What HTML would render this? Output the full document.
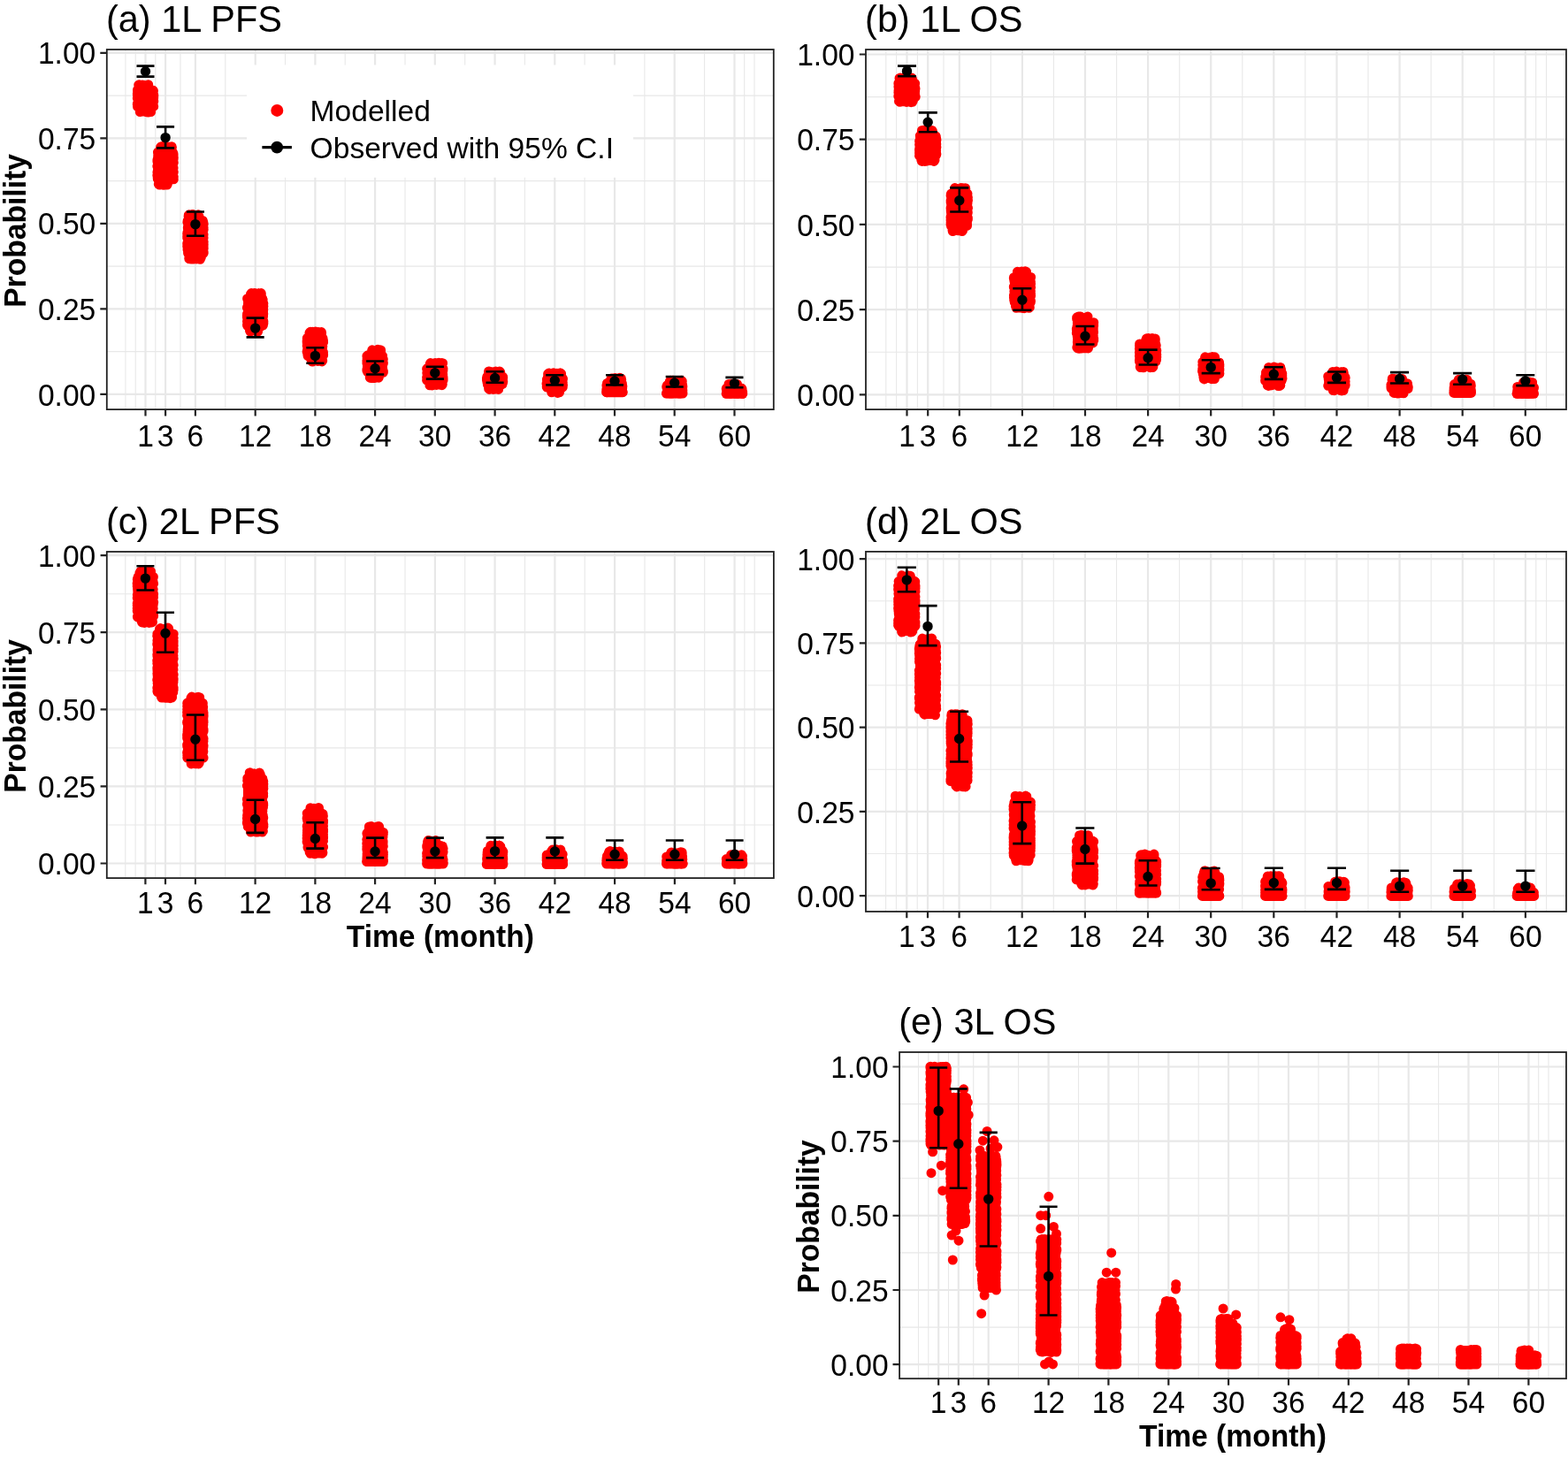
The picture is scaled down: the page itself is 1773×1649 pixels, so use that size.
<!DOCTYPE html><html><head><meta charset="utf-8"><title>Modelled vs observed survival probabilities</title><style>html,body{margin:0;padding:0;background:#fff;width:1773px;height:1649px;overflow:hidden}svg{display:block}text{font-family:"Liberation Sans",Arial,sans-serif;fill:#000}.t{font-size:33.6px}.h{font-size:41.5px}.b{font-weight:bold}</style></head><body>
<svg width="1773" height="1649" viewBox="0 0 1773 1649">
<rect width="1773" height="1649" fill="#fff"/>
<g><path d="M141.9 56V463.1M153.2 56V463.1M175.8 56V463.1M204 56V463.1M254.8 56V463.1M322.5 56V463.1M390.2 56V463.1M458 56V463.1M525.7 56V463.1M593.4 56V463.1M661.1 56V463.1M728.9 56V463.1M796.6 56V463.1M841.7 56V463.1M853 56V463.1M120.8 397.6H874.8M120.8 301.1H874.8M120.8 204.6H874.8M120.8 108.1H874.8" stroke="#e8e8e8" stroke-width="1.1" fill="none"/><path d="M164.5 56V463.1M187.1 56V463.1M220.9 56V463.1M288.7 56V463.1M356.4 56V463.1M424.1 56V463.1M491.8 56V463.1M559.6 56V463.1M627.3 56V463.1M695 56V463.1M762.7 56V463.1M830.5 56V463.1M120.8 445.9H874.8M120.8 349.4H874.8M120.8 252.8H874.8M120.8 156.3H874.8M120.8 59.8H874.8" stroke="#e8e8e8" stroke-width="2.2" fill="none"/><rect x="279" y="73.5" width="437.1" height="127.3" fill="#fff"/><rect x="150.9" y="97.3" width="27.1" height="27.7" rx="4.3" fill="#f00"/><rect x="152" y="92.4" width="21" height="8.6" rx="4.3" fill="#f00"/><rect x="153" y="121.2" width="22.9" height="8.6" rx="4.3" fill="#f00"/><rect x="173.5" y="167.4" width="27.1" height="40" rx="4.3" fill="#f00"/><rect x="177" y="162.4" width="22.3" height="8.6" rx="4.3" fill="#f00"/><rect x="175" y="203.8" width="19.3" height="8.6" rx="4.3" fill="#f00"/><rect x="207.4" y="244.5" width="27.1" height="46.6" rx="4.3" fill="#f00"/><rect x="208.5" y="239.5" width="21" height="8.6" rx="4.3" fill="#f00"/><rect x="208.8" y="287.5" width="23.1" height="8.6" rx="4.3" fill="#f00"/><rect x="275.1" y="333.3" width="27.1" height="40" rx="4.3" fill="#f00"/><rect x="278.9" y="328.3" width="21.6" height="8.6" rx="4.3" fill="#f00"/><rect x="277.7" y="369.7" width="19.2" height="8.6" rx="4.3" fill="#f00"/><rect x="342.8" y="377.3" width="27.1" height="29.9" rx="4.3" fill="#f00"/><rect x="345.3" y="372.3" width="23.4" height="8.6" rx="4.3" fill="#f00"/><rect x="347.5" y="403.6" width="21.9" height="8.6" rx="4.3" fill="#f00"/><rect x="410.6" y="397.4" width="27.1" height="28.2" rx="4.3" fill="#f00"/><rect x="415.5" y="392.5" width="19.9" height="8.6" rx="4.3" fill="#f00"/><rect x="413" y="421.9" width="20.5" height="8.6" rx="4.3" fill="#f00"/><rect x="478.3" y="411.8" width="27.1" height="22.7" rx="4.3" fill="#f00"/><rect x="481.4" y="407.3" width="23.6" height="8.6" rx="4.3" fill="#f00"/><rect x="481.1" y="430.3" width="23.6" height="8.6" rx="4.3" fill="#f00"/><rect x="546" y="420.8" width="27.1" height="18.7" rx="4.3" fill="#f00"/><rect x="547.3" y="416.7" width="22.9" height="8.6" rx="4.3" fill="#f00"/><rect x="548.1" y="435.1" width="20.8" height="8.6" rx="4.3" fill="#f00"/><rect x="613.7" y="423" width="27.1" height="19.9" rx="4.3" fill="#f00"/><rect x="615.2" y="418.8" width="24.1" height="8.6" rx="4.3" fill="#f00"/><rect x="618.5" y="438.5" width="19.3" height="8.6" rx="4.3" fill="#f00"/><rect x="681.4" y="428.6" width="27.1" height="19.4" rx="4.3" fill="#f00"/><rect x="680.2" y="438.2" width="29.5" height="11" rx="5.5" fill="#f00"/><rect x="686" y="424.6" width="21.5" height="8.6" rx="4.3" fill="#f00"/><rect x="749.2" y="430.8" width="27.1" height="18.5" rx="4.3" fill="#f00"/><rect x="748" y="439.5" width="29.5" height="11" rx="5.5" fill="#f00"/><rect x="752.8" y="426.9" width="22.9" height="8.6" rx="4.3" fill="#f00"/><rect x="816.9" y="434.8" width="27.1" height="14.8" rx="4.3" fill="#f00"/><rect x="815.7" y="439.8" width="29.5" height="11" rx="5.5" fill="#f00"/><rect x="818.7" y="431.2" width="20.1" height="8.6" rx="4.3" fill="#f00"/><path d="M173.8 114.4h0M155.4 107.5h0M173.7 110.8h0M160.2 120.6h0M164.6 101.9h0M159.9 120.6h0M159.2 120.4h0M155.3 117.5h0M155.5 119h0M155.5 120.6h0M171.7 120.6h0M173.8 108.7h0M172.3 108.6h0M156.1 119.1h0M155.5 103h0M156.2 110.9h0M168.7 101.6h0M172.5 114.2h0M161.1 119.8h0M172.7 102h0M171 119.6h0M155.3 106.1h0M155.3 111.1h0M155.7 105.7h0M169.2 102.1h0M156.6 119.2h0M158.4 101.6h0M156.4 119.4h0M166.5 101.6h0M158.2 120.6h0M173.8 107.4h0M171.2 120.6h0M156.6 120.2h0M156.2 104.8h0M173 110.7h0M155.6 102.7h0M159.9 102.2h0M173.2 107.5h0M172.3 114.7h0M170.4 102.5h0M170.2 120.2h0M161.3 101.6h0M155.3 118.2h0M167.5 101.7h0M158 120.2h0M155.5 101.6h0M173.7 120.4h0M163.3 119.6h0M162.5 102h0M172.8 113.6h0M155.5 117.2h0M173.5 102.8h0M157.3 101.7h0M156.2 102.6h0M172.8 102.6h0M156.2 119.6h0M172.8 119.6h0M160.8 96.2h0M162.5 96.9h0M161.1 96.5h0M158 97h0M161.2 97.3h0M161.3 96.7h0M166.1 96.5h0M163.6 97.1h0M161.1 96h0M163.7 96.6h0M166.9 96.9h0M156.7 96.1h0M159.5 96.7h0M165.5 97.5h0M157.2 97.6h0M160.9 96.4h0M167.5 96.8h0M157.3 97.7h0M167.7 97.7h0M157.3 95.7h0M167.7 95.7h0M164.8 125.5h0M167.1 126.9h0M162.3 124.9h0M169.7 125.5h0M160.2 125.5h0M168.6 125.6h0M167.2 126.8h0M163.7 124.4h0M159.4 125.7h0M165.4 125.5h0M162.7 125.5h0M166.3 125.4h0M169.4 125.5h0M160.5 125.9h0M165.6 125.3h0M166.4 125.5h0M160.1 125.6h0M163.2 126h0M167.5 127.1h0M165.4 126.7h0M158.3 126.5h0M170.6 126.5h0M158.3 124.5h0M170.6 124.5h0M187 172.1h0M182.8 202.4h0M195.9 194.1h0M177.9 180.9h0M181 202.5h0M177.9 181.3h0M196.3 194.6h0M194 201.9h0M195.3 188.5h0M193.6 203.1h0M196.3 200.1h0M195.3 184.5h0M190.3 172.2h0M183.5 171.7h0M177.8 198.3h0M195.2 173.1h0M196.3 184h0M187.4 172.1h0M183.7 171.8h0M195.4 175.4h0M194 172.3h0M194.7 177.3h0M179.2 202.2h0M178.3 193.1h0M178.5 196.2h0M193.7 172.6h0M177.8 188.1h0M195.3 172.6h0M178.3 179.9h0M190 171.8h0M194.8 176.7h0M196.1 175.7h0M178.5 172.1h0M184 202.4h0M179.2 189.6h0M188.6 171.7h0M179.1 194.5h0M196.1 189.9h0M196.3 202.8h0M188.9 171.8h0M195.8 183.5h0M194.9 172.5h0M178.1 200.1h0M184.8 202.5h0M178.5 182.9h0M179.5 202.3h0M180.2 173.1h0M178.6 193h0M195.7 173.3h0M180.6 172h0M195.8 174.7h0M196.3 178.2h0M177.9 182.5h0M183.8 203.1h0M184.2 202.1h0M178 181.6h0M190.6 172.3h0M196.2 183.8h0M196.1 174.2h0M196 202.8h0M192.4 202.3h0M178.3 184.2h0M178.2 202.1h0M181.5 202.4h0M178.6 200.2h0M177.9 194.8h0M195.5 195.3h0M178.9 176.4h0M196.2 179.8h0M196.1 194.4h0M187.1 171.9h0M178.8 172.7h0M195.3 172.7h0M178.8 202.1h0M195.3 202.1h0M187.7 167.3h0M188.2 166.7h0M181.7 166.7h0M186.3 165.4h0M192 166.9h0M184.8 166.5h0M182.4 166.8h0M184.1 166.4h0M190.9 166.9h0M185.1 167.6h0M191.6 167.5h0M183.2 165.4h0M189.5 166.7h0M193.8 166.7h0M188.4 166.6h0M194.4 166.6h0M181.6 166.3h0M190.3 166.1h0M191.8 166.5h0M182.3 167.7h0M194.1 167.7h0M182.3 165.7h0M194.1 165.7h0M180.3 208.9h0M183.3 207.2h0M185.3 208.1h0M180.6 208.8h0M179.3 208.3h0M181.1 207.4h0M181.7 206.7h0M189.4 207.9h0M186 208.1h0M181.9 208.4h0M182.3 208h0M181.4 208.9h0M183 207.7h0M182.3 208.2h0M185 209.3h0M180.3 209.1h0M189 209.1h0M180.3 207.1h0M189 207.1h0M211.7 278.5h0M213 279.7h0M211.8 263.4h0M212.7 283.1h0M227.4 248.8h0M229.7 273h0M214.5 250.3h0M212.1 249.8h0M230.2 285.9h0M212.6 258.3h0M214.2 249.8h0M228.8 270.3h0M230.1 269h0M230 252.4h0M219.7 248.8h0M229.7 283.7h0M218.2 286.8h0M214.5 248.8h0M211.7 275.4h0M212.2 251h0M223 285.4h0M229.4 259.2h0M213.7 286.6h0M230.1 275.6h0M223.1 250.2h0M227.5 286.8h0M211.7 264.5h0M230 286.2h0M212 263.8h0M212.5 281.7h0M230.2 281.1h0M230.2 259.5h0M214.1 285.8h0M212.3 257.7h0M230.1 278.5h0M212.4 264.6h0M230.2 286.3h0M212.2 263.1h0M230 260.1h0M230.1 265.3h0M212.5 275.3h0M224.5 286.5h0M230.2 285.1h0M229.6 283.9h0M229.8 269.9h0M213 286.7h0M220.4 250.2h0M212.7 263.6h0M211.8 264.7h0M226.6 249.5h0M211.7 267.3h0M213.3 250.2h0M211.8 276.6h0M211.8 267.5h0M211.7 268.9h0M223.9 286.7h0M227 286.8h0M228.3 286.8h0M230.2 280.4h0M230.2 273.6h0M229.8 267.4h0M229.7 286.2h0M214.3 285.6h0M230.2 276.7h0M211.9 251.2h0M211.9 279.4h0M213.2 249h0M212 282.2h0M211.9 266.8h0M223.9 286.8h0M230.2 253.2h0M230 275.8h0M218.2 286.1h0M230.1 257.4h0M214.5 248.8h0M228.9 273.4h0M229.9 251.6h0M213.1 249.4h0M230 277.8h0M230.1 274.3h0M212.7 249.8h0M229.2 249.8h0M212.7 285.8h0M229.2 285.8h0M218.1 242.4h0M222.9 243.6h0M213.1 244.7h0M224.3 244.3h0M216.7 242.7h0M213.2 243.5h0M216.1 243.8h0M216.9 243.8h0M223.8 243.3h0M213.5 244h0M223.1 244.9h0M223.1 244.3h0M219.4 244h0M214.8 244.8h0M225 244.7h0M214.6 243.8h0M219.5 244h0M213.8 244.8h0M224.2 244.8h0M213.8 242.8h0M224.2 242.8h0M226.6 290.8h0M218.6 291.3h0M218.7 291.6h0M216 293h0M226.4 293.3h0M219.8 291.3h0M225.5 292.6h0M220.1 292h0M222.3 292.9h0M226.1 291.8h0M213.8 292h0M218.4 291.5h0M220.6 290.3h0M217.9 291.1h0M217.2 292.3h0M216.8 291.7h0M213.8 292.5h0M227.4 291.1h0M218.9 293h0M222.3 292h0M214.1 292.8h0M226.6 292.8h0M214.1 290.8h0M226.6 290.8h0M280.4 350.4h0M280.7 362.1h0M279.6 337.7h0M287.7 368.9h0M280.3 354.1h0M280.8 344.6h0M280.9 339.8h0M297.9 365.7h0M281.1 367.6h0M290.8 368.8h0M289.2 337.6h0M291.6 338.4h0M297.6 351.9h0M279.6 366.6h0M294.7 368.8h0M297.6 357.6h0M297.9 363.5h0M293.6 368.5h0M290.5 339.1h0M279.5 367.7h0M296.9 353.1h0M280 368.5h0M280.3 345.5h0M297.5 345.6h0M280.7 350.1h0M280.4 355.6h0M295.2 369h0M297.1 355.6h0M297.9 343.3h0M288.8 368.1h0M280.3 368.6h0M297.9 363.9h0M297.4 367.7h0M281.2 368.5h0M288.6 337.8h0M288.6 368h0M296.8 351.5h0M288.2 368.5h0M297.1 339.1h0M293.1 337.9h0M280.6 357.7h0M279.5 363.5h0M279.8 359.5h0M295.8 338.9h0M280.9 364h0M297.8 354.9h0M280.2 361.5h0M280.3 361.6h0M280.3 367.5h0M280.8 351h0M296.6 362h0M296.4 360.4h0M283.6 368.3h0M280.4 337.8h0M297.9 346.5h0M297.8 350.3h0M290.3 337.7h0M279.5 355.1h0M281 339h0M280.3 338.4h0M292.8 337.7h0M296.6 349.8h0M279.4 356.6h0M279.4 348h0M296.3 354.9h0M279.4 357h0M286.1 368.7h0M296.9 367.8h0M285.2 367.6h0M279.4 358.7h0M285.1 337.7h0M280.4 338.6h0M296.9 338.6h0M280.4 368h0M296.9 368h0M292.4 331.7h0M287.2 332h0M287.2 332.3h0M287.5 331.5h0M292.5 331.8h0M287.8 332.6h0M291.8 332.9h0M291.2 332.7h0M293 333.7h0M290.2 334h0M283.4 332.9h0M289 331.7h0M283.5 332.6h0M285.1 333.1h0M285.7 332.9h0M290.6 332.6h0M293 332.9h0M285.3 332.4h0M284.2 333.6h0M295.2 333.6h0M284.2 331.6h0M295.2 331.6h0M286.1 374h0M282.5 374h0M289.7 373.9h0M282.7 374h0M283 373h0M290.8 373h0M290.3 374h0M288.5 374h0M289.8 372.4h0M286.6 373.4h0M286.9 374h0M289.7 374h0M287.1 374.1h0M286 373.8h0M290.2 374.4h0M283 375h0M291.6 375h0M283 373h0M291.6 373h0M348.3 383.3h0M347.3 390.6h0M351.3 381.6h0M356.3 382.5h0M353.8 382.5h0M347.3 382.4h0M365 382.8h0M347.8 383.8h0M353 381.6h0M364.3 393.6h0M365.5 400.1h0M364.6 400.6h0M363.6 381.6h0M347.4 396.4h0M365.5 398.4h0M364.5 382.6h0M347.2 387.2h0M365 401.5h0M364.1 396.3h0M354.4 382.7h0M347.2 391h0M365.5 385.1h0M358 382.7h0M362.9 401.9h0M358.4 402.8h0M354.1 381.7h0M347.1 386h0M349.8 402.7h0M365.5 386.1h0M354.4 402.9h0M359.8 382.8h0M347.3 383.4h0M365.1 382.9h0M348.1 397.5h0M365 398.4h0M364.8 391.7h0M348.6 402.9h0M361 401.7h0M365.6 401.7h0M365.6 387.2h0M348 390.2h0M365.5 386.8h0M357.2 381.9h0M348 401h0M347.1 397.8h0M348.5 397h0M347.2 387.8h0M348.7 392.5h0M347.6 382.2h0M364.4 390.4h0M355 402.7h0M353.7 381.6h0M363.2 402.8h0M357.7 381.8h0M364.5 399.9h0M365.6 400.8h0M348.1 382.6h0M364.6 382.6h0M348.1 401.9h0M364.6 401.9h0M351 375.3h0M361.6 376.8h0M351.3 377.4h0M353.2 375.2h0M349.9 376.9h0M362.6 376.9h0M350.9 377.7h0M350.9 377.3h0M358.9 376.9h0M359.6 376.5h0M350 376.5h0M352.9 376.1h0M354.6 376.6h0M353.6 375.9h0M351.6 378.1h0M360 375.6h0M358.1 376.2h0M361.9 376.6h0M356.8 375.1h0M351.5 377.3h0M363.6 376.6h0M350.6 377.6h0M363.4 377.6h0M350.6 375.6h0M363.4 375.6h0M358.8 408h0M357.6 406.9h0M363.6 407.2h0M353.3 409h0M359.4 408.4h0M357.7 406.4h0M353.2 407.9h0M352.1 407.4h0M358.5 407.8h0M353.2 407.9h0M364.7 407.9h0M352.9 407.9h0M359.1 408.2h0M358.5 408h0M360 408.3h0M363.9 407.8h0M356.4 407.9h0M362.9 406.9h0M352.8 408.9h0M364.1 408.9h0M352.8 406.9h0M364.1 406.9h0M414.9 408.4h0M432.6 416.8h0M417.2 420.4h0M429.6 403h0M421.9 420.7h0M421.4 421h0M415.8 401.8h0M433.4 419.8h0M422.1 421.2h0M428.9 421h0M426.8 421.2h0M424.3 402.4h0M414.9 408h0M417.6 402.9h0M415.8 402.5h0M415.1 405.3h0M415.9 417.5h0M416.3 402.7h0M415.4 414.3h0M419.2 402.3h0M433.4 420.9h0M432.3 407.1h0M424.4 419.9h0M414.9 402.7h0M431.1 421.3h0M415 411.3h0M414.9 419.1h0M433.3 421.3h0M415.9 410.9h0M415.8 420.8h0M431.6 401.9h0M426.1 402h0M425.4 402.4h0M433.2 420.7h0M431.9 409.6h0M416.4 417.3h0M433.4 410.8h0M427.2 402.9h0M433.3 409.9h0M414.9 417.9h0M419.4 421h0M425.4 401.9h0M415.3 405.2h0M414.9 410.5h0M423.1 402h0M425.7 421h0M432.3 404.2h0M415.5 410.1h0M424.9 402.6h0M423 420.4h0M432.8 420.8h0M432.2 412.5h0M416.3 415.6h0M433.3 406.3h0M415.9 402.7h0M432.4 402.7h0M415.9 420.3h0M432.4 420.3h0M430.2 396.7h0M429.9 397.3h0M429.2 397.3h0M428.1 397.4h0M430.6 395.9h0M430.2 396.5h0M423.2 396.9h0M425 397.8h0M424.8 397.3h0M429.4 396.5h0M425.1 398.1h0M430.6 396.8h0M427.1 395.3h0M426.5 397h0M424.1 396.9h0M425.9 396.5h0M420.8 397.8h0M430 397.8h0M420.8 395.8h0M430 395.8h0M427 424.6h0M424.9 426.3h0M423.7 427.2h0M427 426.1h0M419.8 426.4h0M425.1 425h0M428 425.9h0M418.3 426.2h0M424.6 426h0M421.3 426.3h0M419.6 427.5h0M427.5 426.6h0M422 426.6h0M423.3 427.6h0M426 425.4h0M418.8 425.3h0M418.3 427.2h0M428.2 427.2h0M418.3 425.2h0M428.2 425.2h0M488.1 416.3h0M483.6 422.4h0M500.9 418.1h0M491.7 416.1h0M482.6 426.9h0M482.6 417.2h0M500.6 427.2h0M494.6 416.2h0M491.7 416.1h0M500 421.5h0M496.9 416.4h0M500.7 423.2h0M496.5 416.1h0M499.6 419.1h0M487.8 429.8h0M500.3 416.7h0M492.2 416.7h0M501.1 430.1h0M482.6 430h0M483.3 416.4h0M495.9 416.1h0M494.7 429.6h0M500.3 423h0M482.8 422.1h0M484.3 428.9h0M499.9 416.4h0M500.9 429.3h0M486.5 429.1h0M482.8 421.8h0M501 417h0M495.8 430h0M501 426.4h0M484.1 430.1h0M487.2 416.2h0M488.3 416.2h0M500.9 419h0M483.5 425.6h0M499.6 417.4h0M501.1 429h0M501.1 428.1h0M500.5 417.5h0M484.6 428.6h0M500.9 426.4h0M497.5 416.2h0M500.3 429.6h0M482.9 421.1h0M483.6 417.1h0M500.1 417.1h0M483.6 429.1h0M500.1 429.1h0M487.9 412.3h0M488 411.8h0M489.5 412.2h0M489.5 411.6h0M492.8 410.8h0M496.1 410.3h0M492.1 410.5h0M494.4 411.9h0M487.1 411.3h0M499.6 412h0M486.2 411.6h0M490.2 412.5h0M496.7 411.5h0M489.1 411.7h0M497.1 411.3h0M500.1 411.2h0M489.2 412.5h0M489.3 412.4h0M500.6 410.7h0M495.1 411.3h0M487.6 411.7h0M486.7 412.6h0M499.7 412.6h0M486.7 410.6h0M499.7 410.6h0M487.6 434.6h0M499.7 435.7h0M488.6 435.9h0M487.7 435.5h0M485.9 435.8h0M494.8 435.1h0M486.7 435.3h0M500.3 434.5h0M495.5 434.6h0M486.5 435.3h0M493.5 435.4h0M487.3 434.6h0M494.8 435.1h0M492.6 434.6h0M488.7 434.8h0M487.2 435.1h0M486.3 435.1h0M494.9 434.6h0M486 435.2h0M491.7 434.6h0M487.5 434.6h0M486.4 435.6h0M499.3 435.6h0M486.4 433.6h0M499.3 433.6h0M567.7 433.3h0M561.1 425.5h0M550.4 429.7h0M566.5 435.3h0M566 426.1h0M550.4 427.7h0M568.6 430.2h0M561.3 425.3h0M550.8 426.1h0M550.8 426.3h0M560.5 434.8h0M562.5 425.5h0M568.7 426.4h0M568.4 426.5h0M551.8 433.1h0M552.9 435.1h0M568.7 427.5h0M551.5 433.1h0M566.8 434.8h0M567.9 434.4h0M551.1 429h0M550.9 432.2h0M550.9 426.1h0M553.1 434.2h0M567.7 432.2h0M565.1 426.7h0M563.6 435.2h0M560.9 435.1h0M555.9 425.2h0M567.4 431.5h0M563.9 425.6h0M568.8 431.8h0M561.5 435.1h0M552.9 426.3h0M565.3 435.3h0M568.6 432.5h0M559.3 435.1h0M561.7 435.3h0M551 430h0M567.7 429.4h0M551.3 426.1h0M567.8 426.1h0M551.3 434.3h0M567.8 434.3h0M554.2 421.6h0M563.8 422.2h0M555.9 422.1h0M561.4 420.9h0M558.9 421.6h0M559.8 421.3h0M552.6 420.7h0M555.2 421.1h0M560.5 419.9h0M554.5 421.7h0M562.5 420.4h0M564.8 420.4h0M565 421.2h0M554 420.3h0M565.7 420.9h0M560.9 422.2h0M556.9 420.8h0M553.4 421h0M555.9 421h0M561.5 420.9h0M552.6 422h0M564.9 422h0M552.6 420h0M564.9 420h0M557.2 439.4h0M552.6 439.5h0M554 439.2h0M554.2 439.6h0M558.9 440.3h0M557.6 439.4h0M560.6 439.4h0M562.2 439.7h0M553.1 439.5h0M558.3 438.7h0M559.4 437.9h0M561.9 439.3h0M556.2 438.7h0M557.9 440.4h0M562.4 438.9h0M559.3 439.3h0M560.8 439.3h0M553.4 440.4h0M563.6 440.4h0M553.4 438.4h0M563.6 438.4h0M636.1 427.8h0M624.7 438.2h0M618.9 428.6h0M619.5 437.3h0M636.3 432.7h0M618.2 437.4h0M626 428.5h0M629.3 438.4h0M636.3 437.8h0M636.1 435.8h0M618.5 435.6h0M624.2 427.6h0M636.1 428.8h0M636.3 434.8h0M633.8 437.6h0M622.8 428.1h0M618.6 434.6h0M634.5 428.7h0M621.9 427.7h0M629.8 427.8h0M635.3 432.7h0M622.4 427.7h0M635.2 427.3h0M618.7 429.3h0M636.1 429.8h0M636.5 435.5h0M636.5 428.4h0M623.9 428.5h0M634.8 438.4h0M619.1 428.6h0M622.1 427.4h0M618.6 429.6h0M635.6 434.9h0M618.6 433.7h0M618 433.9h0M619.2 437.8h0M618.4 429.4h0M625.7 438.5h0M631.7 438h0M618.5 438h0M629.5 428.3h0M636.5 435.7h0M619 428.3h0M635.5 428.3h0M619 437.6h0M635.5 437.6h0M624.7 423.1h0M627.4 424.4h0M629.2 423.1h0M625.7 422.9h0M633.1 423.9h0M628.6 423.2h0M632.9 422.1h0M629.8 422.2h0M633.8 422.1h0M627.1 422.9h0M625.9 421.7h0M621.7 422.2h0M624.9 423.4h0M620.4 422.2h0M620.1 423h0M634.6 422.7h0M623.2 424.2h0M630.9 424.5h0M620.4 424h0M625.1 422.2h0M620.6 423.5h0M619.6 422.9h0M620.5 424.1h0M634 424.1h0M620.5 422.1h0M634 422.1h0M630.6 444.4h0M627.8 443.1h0M626.2 442.8h0M626 442.9h0M630.3 441.9h0M625.4 443h0M626.3 442.8h0M624.1 442.9h0M628.7 442.7h0M628.1 442.8h0M625.7 442.1h0M625.8 442.8h0M632.8 442.9h0M629.7 443h0M631.6 442.8h0M623.8 443.8h0M632.5 443.8h0M623.8 441.8h0M632.5 441.8h0M703.3 437.6h0M690.4 433.8h0M686.4 438.1h0M686.1 439.3h0M702.1 442.1h0M703.9 443.4h0M686.5 440.9h0M686 443.4h0M698.5 442.2h0M686 443.4h0M686.2 443.7h0M686.6 433.4h0M693.2 442.9h0M703.9 443.4h0M690 443.6h0M689.1 443h0M689.4 443.6h0M702.1 432.9h0M703.7 439h0M703.5 435.1h0M703.9 436.9h0M697.6 433.3h0M698.5 433h0M703.6 439.5h0M686.6 443.6h0M689.9 442.9h0M698.2 432.9h0M685.9 435.9h0M689.3 443.3h0M686.4 443.5h0M694.6 433.7h0M696.2 442.3h0M703.1 443.6h0M685.9 442.1h0M695.5 433h0M701.6 443.4h0M689.5 442.4h0M698.3 432.9h0M686.8 433.5h0M685.8 440.5h0M686.1 443.4h0M686.7 433.9h0M703.3 433.9h0M686.7 442.7h0M703.3 442.7h0M700.3 428.3h0M702.6 430.2h0M701.8 429h0M702.7 429.6h0M696.4 429.8h0M700 428.9h0M695.5 427.6h0M700.9 427.3h0M691.6 430.4h0M700.7 427.6h0M690.6 429.6h0M695.5 430.2h0M697.5 428.9h0M692.6 428.1h0M691.2 428.6h0M692.1 429.7h0M690.6 429.4h0M692.9 429.2h0M691.3 429.9h0M702.3 429.9h0M691.3 427.9h0M702.3 427.9h0M758.1 444.9h0M767.9 444.9h0M753.7 437.4h0M764.1 444.7h0M771.6 435.2h0M759.8 445h0M771.7 443.2h0M770 435.2h0M770.7 444.3h0M770.2 444.8h0M758.8 444.4h0M766.1 444.4h0M757.1 435.2h0M769.8 444.9h0M757.4 445h0M758.1 444.9h0M755.8 435.1h0M767 435.6h0M767.8 445h0M753.9 444.8h0M759.6 444.2h0M758.2 435.2h0M754.2 437.6h0M762.9 435.6h0M771.9 437.3h0M771.5 439.7h0M762.4 443.8h0M769 436.7h0M771.3 437.5h0M771.7 439.1h0M764.1 444.1h0M757.3 435.1h0M771.8 436.3h0M770.6 441.9h0M770.5 435.2h0M771.8 441.1h0M771.5 440h0M759.9 436.1h0M761 444.1h0M771.9 441.6h0M754.5 436.1h0M771 436.1h0M754.5 444h0M771 444h0M768.4 430.4h0M760.7 431.4h0M762.6 431.2h0M765.2 431.5h0M765.6 431.2h0M765 431.9h0M757.3 431.4h0M763.9 430.9h0M764.1 431.1h0M763.2 431.2h0M760.8 430.2h0M758.9 431.3h0M766.6 432.5h0M759.1 431.5h0M771.3 431.2h0M770.2 431.2h0M758.4 430.9h0M762.4 431.1h0M770.6 432.4h0M761.8 432.5h0M758.1 432.2h0M770.4 432.2h0M758.1 430.2h0M770.4 430.2h0M825.9 439.2h0M832.2 439.6h0M836.5 439.5h0M824.1 439.3h0M821.4 439.2h0M829 444.8h0M839.7 443.4h0M833.9 445.3h0M831 445h0M839.6 445.3h0M838.5 439.1h0M821.8 442.2h0M837.9 439.2h0M821.4 439.9h0M827.4 439.5h0M839.1 440.2h0M824.2 440.1h0M821.2 439.8h0M830.1 444.5h0M833.9 444.1h0M839 443.7h0M825.5 445h0M827.8 439.6h0M822.5 445.1h0M832.5 444h0M821.6 445.1h0M821.7 444.4h0M836.1 440.2h0M829.1 444.5h0M825.9 445.3h0M828.4 444.1h0M829.5 444.2h0M828.4 439.5h0M831.9 443.9h0M825.3 439.2h0M822.2 440.1h0M838.7 440.1h0M822.2 444.3h0M838.7 444.3h0M826.4 435.2h0M832.7 434.7h0M827.5 434.2h0M831.3 435.5h0M832.7 436.1h0M828.1 434.2h0M827.7 435.9h0M832.2 435.4h0M824 435.8h0M827 435.5h0M832 436.1h0M826.3 434.3h0M829.5 435.6h0M832.3 435.5h0M825.2 435.4h0M828.9 435.4h0M824 436.5h0M833.5 436.5h0M824 434.5h0M833.5 434.5h0" stroke="#f00" stroke-width="11" stroke-linecap="round" fill="none"/><path d="M164.5 74.6V86.6M154.5 74.6H174.5M154.5 86.6H174.5M187.1 143.4V167.4M177 143.4H197.1M177 167.4H197.1M220.9 239.5V266.7M210.9 239.5H231M210.9 266.7H231M288.7 359.6V381.4M278.6 359.6H298.7M278.6 381.4H298.7M356.4 393.2V410.8M346.3 393.2H366.4M346.3 410.8H366.4M424.1 408.5V423.5M414.1 408.5H434.2M414.1 423.5H434.2M491.8 414.7V428.6M481.8 414.7H501.9M481.8 428.6H501.9M559.6 420.2V432.7M549.5 420.2H569.6M549.5 432.7H569.6M627.3 424.2V435.4M617.2 424.2H637.3M617.2 435.4H637.3M695 424.2V435.4M685 424.2H705M685 435.4H705M762.7 426V437.5M752.7 426H772.8M752.7 437.5H772.8M830.5 426.9V438.2M820.4 426.9H840.5M820.4 438.2H840.5" stroke="#000" stroke-width="2.6" fill="none"/><path d="M164.5 80.7h0M187.1 155.6h0M220.9 253.6h0M288.7 371.1h0M356.4 402.4h0M424.1 416.8h0M491.8 421.8h0M559.6 427.5h0M627.3 430.3h0M695 431h0M762.7 433h0M830.5 433.6h0" stroke="#000" stroke-width="11.4" stroke-linecap="round" fill="none"/><rect x="120.8" y="56" width="754" height="407.1" fill="none" stroke="#222" stroke-width="1.8"/><path d="M164.5 463.1V470.6M187.1 463.1V470.6M220.9 463.1V470.6M288.7 463.1V470.6M356.4 463.1V470.6M424.1 463.1V470.6M491.8 463.1V470.6M559.6 463.1V470.6M627.3 463.1V470.6M695 463.1V470.6M762.7 463.1V470.6M830.5 463.1V470.6M113.3 445.9H120.8M113.3 349.4H120.8M113.3 252.8H120.8M113.3 156.3H120.8M113.3 59.8H120.8" stroke="#222" stroke-width="2.2" fill="none"/><text class="t" transform="translate(108.3 458.5) scale(1 1.065)" text-anchor="end">0.00</text><text class="t" transform="translate(108.3 362) scale(1 1.065)" text-anchor="end">0.25</text><text class="t" transform="translate(108.3 265.4) scale(1 1.065)" text-anchor="end">0.50</text><text class="t" transform="translate(108.3 168.9) scale(1 1.065)" text-anchor="end">0.75</text><text class="t" transform="translate(108.3 72.4) scale(1 1.065)" text-anchor="end">1.00</text><text class="t" transform="translate(164.5 504.6) scale(1 1.065)" text-anchor="middle">1</text><text class="t" transform="translate(187.1 504.6) scale(1 1.065)" text-anchor="middle">3</text><text class="t" transform="translate(220.9 504.6) scale(1 1.065)" text-anchor="middle">6</text><text class="t" transform="translate(288.7 504.6) scale(1 1.065)" text-anchor="middle">12</text><text class="t" transform="translate(356.4 504.6) scale(1 1.065)" text-anchor="middle">18</text><text class="t" transform="translate(424.1 504.6) scale(1 1.065)" text-anchor="middle">24</text><text class="t" transform="translate(491.8 504.6) scale(1 1.065)" text-anchor="middle">30</text><text class="t" transform="translate(559.6 504.6) scale(1 1.065)" text-anchor="middle">36</text><text class="t" transform="translate(627.3 504.6) scale(1 1.065)" text-anchor="middle">42</text><text class="t" transform="translate(695 504.6) scale(1 1.065)" text-anchor="middle">48</text><text class="t" transform="translate(762.7 504.6) scale(1 1.065)" text-anchor="middle">54</text><text class="t" transform="translate(830.5 504.6) scale(1 1.065)" text-anchor="middle">60</text><text class="h" transform="translate(119.9 36) scale(1 1.025)">(a) 1L PFS</text><text class="t b" transform="translate(29.2 260.9) rotate(-90) scale(1 1.02)" text-anchor="middle">Probability</text><circle cx="313.3" cy="124.9" r="7" fill="#f00"/><path d="M296.4 166.6H329.9" stroke="#000" stroke-width="3.2"/><circle cx="313.2" cy="166.6" r="6.9" fill="#000"/><text class="t" transform="translate(350.6 137.4)">Modelled</text><text class="t" transform="translate(350.6 178.8)">Observed with 95% C.I</text></g>
<g><path d="M1001.8 56V463.1M1013.6 56V463.1M1037.4 56V463.1M1067 56V463.1M1120.3 56V463.1M1191.4 56V463.1M1262.6 56V463.1M1333.7 56V463.1M1404.8 56V463.1M1475.9 56V463.1M1547 56V463.1M1618.1 56V463.1M1689.2 56V463.1M1736.7 56V463.1M1748.5 56V463.1M979 398.3H1771M979 302.1H1771M979 205.8H1771M979 109.6H1771" stroke="#e8e8e8" stroke-width="1.1" fill="none"/><path d="M1025.5 56V463.1M1049.2 56V463.1M1084.8 56V463.1M1155.9 56V463.1M1227 56V463.1M1298.1 56V463.1M1369.2 56V463.1M1440.3 56V463.1M1511.5 56V463.1M1582.6 56V463.1M1653.7 56V463.1M1724.8 56V463.1M979 446.4H1771M979 350.2H1771M979 253.9H1771M979 157.7H1771M979 61.5H1771" stroke="#e8e8e8" stroke-width="2.2" fill="none"/><rect x="1011.5" y="89.4" width="28" height="24.5" rx="4.3" fill="#f00"/><rect x="1012.6" y="84.8" width="23.7" height="8.6" rx="4.3" fill="#f00"/><rect x="1012.2" y="110" width="24.9" height="8.6" rx="4.3" fill="#f00"/><rect x="1035.2" y="149.2" width="28" height="31.5" rx="4.3" fill="#f00"/><rect x="1037.2" y="144.2" width="22" height="8.6" rx="4.3" fill="#f00"/><rect x="1037.4" y="177.1" width="24" height="8.6" rx="4.3" fill="#f00"/><rect x="1070.7" y="214.4" width="28" height="45.4" rx="4.3" fill="#f00"/><rect x="1074.4" y="209.4" width="22.5" height="8.6" rx="4.3" fill="#f00"/><rect x="1072" y="256.2" width="21.2" height="8.6" rx="4.3" fill="#f00"/><rect x="1141.9" y="309" width="28" height="37.6" rx="4.3" fill="#f00"/><rect x="1145.1" y="304" width="20.7" height="8.6" rx="4.3" fill="#f00"/><rect x="1143.8" y="343" width="25" height="8.6" rx="4.3" fill="#f00"/><rect x="1213" y="360.1" width="28" height="32.1" rx="4.3" fill="#f00"/><rect x="1213" y="355.1" width="21.3" height="8.6" rx="4.3" fill="#f00"/><rect x="1213.2" y="388.6" width="22.5" height="8.6" rx="4.3" fill="#f00"/><rect x="1284.1" y="384.7" width="28" height="29.2" rx="4.3" fill="#f00"/><rect x="1291.1" y="379.7" width="20.3" height="8.6" rx="4.3" fill="#f00"/><rect x="1284.3" y="410.3" width="24.3" height="8.6" rx="4.3" fill="#f00"/><rect x="1355.2" y="404.9" width="28" height="22.5" rx="4.3" fill="#f00"/><rect x="1357.4" y="400.5" width="21.5" height="8.6" rx="4.3" fill="#f00"/><rect x="1356" y="423.3" width="22.5" height="8.6" rx="4.3" fill="#f00"/><rect x="1426.3" y="416.3" width="28" height="19.2" rx="4.3" fill="#f00"/><rect x="1429.3" y="412.1" width="23.8" height="8.6" rx="4.3" fill="#f00"/><rect x="1428.9" y="431.1" width="23.5" height="8.6" rx="4.3" fill="#f00"/><rect x="1497.4" y="421.3" width="28" height="19.3" rx="4.3" fill="#f00"/><rect x="1501.7" y="417.1" width="22.6" height="8.6" rx="4.3" fill="#f00"/><rect x="1502.1" y="436.3" width="22.3" height="8.6" rx="4.3" fill="#f00"/><rect x="1568.6" y="429" width="28" height="14.9" rx="4.3" fill="#f00"/><rect x="1569" y="425.2" width="21.8" height="8.6" rx="4.3" fill="#f00"/><rect x="1571.8" y="439.1" width="19.9" height="8.6" rx="4.3" fill="#f00"/><rect x="1639.7" y="429.8" width="28" height="18.9" rx="4.3" fill="#f00"/><rect x="1638.5" y="438.9" width="30.4" height="11" rx="5.5" fill="#f00"/><rect x="1644.2" y="425.9" width="19.7" height="8.6" rx="4.3" fill="#f00"/><rect x="1710.8" y="432.9" width="28" height="16.7" rx="4.3" fill="#f00"/><rect x="1709.6" y="439.8" width="30.4" height="11" rx="5.5" fill="#f00"/><rect x="1717.3" y="429.1" width="20.6" height="8.6" rx="4.3" fill="#f00"/><path d="M1015.9 98.1h0M1016.4 104.8h0M1034.9 109.6h0M1027.9 109h0M1034.7 102.6h0M1018.4 108.5h0M1016.9 109.5h0M1035.2 109.5h0M1025.1 108.1h0M1031 93.8h0M1029.2 93.8h0M1016.6 109.6h0M1017.1 101.6h0M1016.2 100.5h0M1034.5 106h0M1034.7 103h0M1020.2 94.2h0M1020.1 109.6h0M1028.5 94.1h0M1017.4 102.6h0M1030.5 109.5h0M1033.8 97.6h0M1034.6 94.3h0M1031.5 109.5h0M1015.9 104.5h0M1016.6 109.1h0M1017.7 109.1h0M1017 102h0M1018.8 93.9h0M1016.4 94h0M1030.3 109.4h0M1020.2 109.6h0M1030.3 93.9h0M1033.8 94.6h0M1015.9 94.1h0M1016 98.2h0M1016.6 97.8h0M1015.8 108.7h0M1015.9 94.7h0M1016 102.5h0M1020.2 95.3h0M1016.5 109.1h0M1018.9 93.7h0M1016.5 94.2h0M1017.3 98.5h0M1024.8 108.6h0M1035 100.2h0M1024 109.5h0M1026.7 108.4h0M1034 106h0M1016.8 94.7h0M1034.2 94.7h0M1016.8 108.7h0M1034.2 108.7h0M1019 89.3h0M1019.8 88.6h0M1021.8 89.9h0M1026.5 89.4h0M1020.3 89.9h0M1024.5 89.2h0M1028.9 88.9h0M1026.2 89.1h0M1017 88.5h0M1023.1 88.8h0M1022.1 89.6h0M1028.5 89h0M1029.2 89.8h0M1027.5 89.8h0M1029.5 89.2h0M1031.4 89.1h0M1019.3 89.4h0M1027.2 90.2h0M1018.5 89.3h0M1020 88.6h0M1020.5 88.6h0M1017.9 90.1h0M1031 90.1h0M1017.9 88.1h0M1031 88.1h0M1016.7 114.3h0M1025.1 113.8h0M1031.7 114.3h0M1017.7 114.2h0M1030.2 115.7h0M1024 114.3h0M1029.7 114.4h0M1025.3 113.5h0M1025.1 115.4h0M1024.1 114.3h0M1022 114.8h0M1025.4 113.5h0M1021.7 114.5h0M1026.9 113.6h0M1025.2 114.2h0M1026.3 114.2h0M1017.5 114.6h0M1021.2 113.6h0M1032.3 114.3h0M1018.7 113.9h0M1016.5 114.4h0M1029 115.1h0M1031.9 112.7h0M1017.5 115.3h0M1031.8 115.3h0M1017.5 113.3h0M1031.8 113.3h0M1045.2 176.2h0M1040.5 164.3h0M1039.6 173h0M1040 176.2h0M1051.7 176.3h0M1039.5 169.8h0M1055.6 175h0M1039.6 159.7h0M1040.6 174.7h0M1040.5 176h0M1039.6 172.1h0M1057.5 153.6h0M1058.9 174.3h0M1040.6 168.2h0M1058.8 163h0M1051 153.6h0M1058.8 157.2h0M1056.7 176.4h0M1044.4 175.4h0M1058.3 154.5h0M1057.6 156.4h0M1039.5 176.2h0M1039.9 169.9h0M1058.9 166.5h0M1048.7 153.7h0M1041.5 154.7h0M1040.6 167.7h0M1058.7 174.9h0M1058.9 158.4h0M1058.8 158.4h0M1039.8 176.3h0M1041.6 176h0M1051.4 154h0M1040.4 168.4h0M1043 176.3h0M1057.8 176.3h0M1039.6 163.6h0M1055.9 154.5h0M1057.3 153.6h0M1056.2 176.2h0M1057.6 167.4h0M1041.1 165.2h0M1044.5 176.2h0M1047.1 176.1h0M1039.6 173.5h0M1040.5 161.7h0M1058 157.7h0M1055.8 175.4h0M1040.9 176.4h0M1057.5 174.9h0M1039.6 168.5h0M1052.1 176.4h0M1058.2 175.9h0M1058.8 167h0M1046.5 153.6h0M1058.6 170.4h0M1052.6 154.3h0M1040.3 153.6h0M1058.9 158.1h0M1040.9 160.5h0M1040.5 154.5h0M1057.9 154.5h0M1040.5 175.4h0M1057.9 175.4h0M1050.7 147.6h0M1045.5 147.1h0M1043.5 149.1h0M1048.7 150h0M1043.2 149.8h0M1052.7 148.5h0M1051.8 148.1h0M1052.2 148.1h0M1054.4 148.3h0M1046.7 149.1h0M1054.3 148.4h0M1046.5 148.4h0M1051.5 149.1h0M1048.7 148.1h0M1053.1 147.8h0M1042.4 149.1h0M1042.4 148.6h0M1042.4 148.2h0M1046.5 148.2h0M1042.5 149.5h0M1053.9 149.5h0M1042.5 147.5h0M1053.9 147.5h0M1044.6 180.8h0M1041.8 180.9h0M1041.9 181.4h0M1051.3 181.5h0M1047.6 182.2h0M1055.3 181.4h0M1046.5 181.4h0M1050.9 181.5h0M1047.2 181h0M1042.1 182.2h0M1047.2 181.5h0M1044.9 182h0M1043.5 181.3h0M1057 181.1h0M1045.8 182.4h0M1042.1 181.1h0M1045 181h0M1055.1 181.4h0M1050.9 180.9h0M1048.3 181.4h0M1056.3 181.6h0M1042.5 180.6h0M1042.7 182.4h0M1056.1 182.4h0M1042.7 180.4h0M1056.1 180.4h0M1093.6 228.1h0M1075.1 221.3h0M1075.7 239.6h0M1093.2 229.5h0M1080 219.2h0M1075.9 239h0M1075.4 245.7h0M1075 245.8h0M1075.1 235.9h0M1091.6 253.9h0M1093.3 255.4h0M1076.2 219.7h0M1075.5 219.1h0M1092 254.7h0M1075.1 248.6h0M1077.7 254.9h0M1093.1 244.1h0M1075.5 255.5h0M1090.9 254.6h0M1075.4 221.7h0M1093.3 251.9h0M1075.8 222h0M1075.1 235.1h0M1076.2 221.7h0M1076.5 225.5h0M1093.6 243.7h0M1075.9 229.1h0M1076.6 255.1h0M1075.1 246.7h0M1094.4 235h0M1076.2 238h0M1094.2 239.4h0M1075.7 231.7h0M1093 247.8h0M1078.5 255.5h0M1094.3 240.6h0M1092 219.3h0M1081 254.7h0M1075.1 245.1h0M1093.8 230.5h0M1075.8 226h0M1081.2 219.7h0M1094.5 226.5h0M1075.1 251.9h0M1075.1 249.5h0M1093.1 222.5h0M1076.5 225h0M1079.5 219.4h0M1094.4 248.1h0M1093.5 247.3h0M1093.1 251.7h0M1075.6 248.4h0M1088.6 218.7h0M1079.4 254.4h0M1075.9 255.5h0M1075.2 220h0M1085.4 255.5h0M1076.5 221.9h0M1094 230.1h0M1089.5 254.9h0M1094 237.2h0M1075.5 246.6h0M1094 219.2h0M1075.1 226.8h0M1075.4 240h0M1094.4 223.4h0M1084.1 219.9h0M1075.3 235.2h0M1075.1 253.9h0M1075.4 219.8h0M1075.1 228.6h0M1094.5 235.2h0M1081.4 255h0M1089.9 254.4h0M1075.2 238.3h0M1094.4 246.5h0M1084.5 255.3h0M1075.2 221.3h0M1093.8 239.8h0M1091.9 218.8h0M1076 219.7h0M1093.5 219.7h0M1076 254.5h0M1093.5 254.5h0M1082.1 214h0M1091.3 214h0M1080.6 214.5h0M1084.2 213.6h0M1079.7 212.6h0M1085.4 213.7h0M1087.6 213.8h0M1089 212.9h0M1085.7 213.7h0M1085.5 213.7h0M1083.8 214h0M1081.7 213.6h0M1088.8 212.8h0M1091.7 213.7h0M1091.8 213.9h0M1089.8 213.7h0M1090 213.7h0M1080.1 213.7h0M1086.8 212.5h0M1079.7 214.7h0M1091.6 214.7h0M1079.7 212.7h0M1091.6 212.7h0M1083.4 260.8h0M1079.2 260.4h0M1082.4 259.6h0M1087.1 259.1h0M1082.5 259.1h0M1083.4 260.3h0M1077 260.6h0M1087.5 259.8h0M1084.4 260.5h0M1083.5 260.4h0M1083.8 260.8h0M1084.7 259.7h0M1088.6 260.5h0M1087.3 261.1h0M1087.6 260.7h0M1086.4 260.1h0M1080.2 260.7h0M1077.3 261.5h0M1087.9 261.5h0M1077.3 259.5h0M1087.9 259.5h0M1165.5 332.3h0M1155.8 314.4h0M1165.4 340.8h0M1164.5 341.9h0M1146.8 334.7h0M1147.4 331.2h0M1165.5 340.8h0M1164.3 327.2h0M1165.3 334.4h0M1164.6 315.3h0M1146.3 314.5h0M1161.8 313.4h0M1165.3 320.5h0M1154.1 341.4h0M1164.9 340.6h0M1150 313.9h0M1154.3 342.3h0M1146.7 339.3h0M1165.5 340.4h0M1148.1 341.1h0M1165.2 342.3h0M1164.2 324.3h0M1156.6 313.9h0M1146.9 329.6h0M1159.1 342.3h0M1165.5 321.4h0M1164.9 319.1h0M1165.6 325.1h0M1151.3 313.6h0M1165.1 335.7h0M1164.6 324.5h0M1147.4 335.5h0M1146.4 336.6h0M1164.4 337.2h0M1162.4 314.6h0M1146.3 324.5h0M1146.5 313.7h0M1165.2 313.4h0M1165.3 331h0M1146.9 317.5h0M1147.1 323.4h0M1165.4 332.6h0M1165.2 330.7h0M1165.1 340.6h0M1146.4 334.2h0M1152.1 342.2h0M1152.9 341.8h0M1163.2 342h0M1159.5 313.5h0M1165.5 320.5h0M1146.9 335.1h0M1147.6 336.7h0M1165.4 320.3h0M1165.3 341.9h0M1165.6 334.5h0M1147.3 334.9h0M1154.2 342.1h0M1155.6 341.8h0M1164.7 330.6h0M1165.4 318.7h0M1147 325.7h0M1165.6 313.5h0M1148.1 342.3h0M1146.8 317.1h0M1165.4 329.2h0M1164.3 313.4h0M1153.1 341.8h0M1147.2 326.9h0M1146.7 316.1h0M1147.2 314.3h0M1164.6 314.3h0M1147.2 341.3h0M1164.6 341.3h0M1158.9 307.3h0M1155.3 307h0M1157.5 308.2h0M1159.2 306.8h0M1151.6 307.8h0M1157.4 307.3h0M1159 307.9h0M1158.3 308h0M1160.1 308.7h0M1151.8 308.3h0M1154.9 309.4h0M1150.2 309.6h0M1159.7 308h0M1158.8 307h0M1158.7 309.3h0M1154.4 308.6h0M1153.6 308.5h0M1150.4 309.3h0M1160.5 309.3h0M1150.4 307.3h0M1160.5 307.3h0M1158.8 347.3h0M1159.7 345.9h0M1164.1 347.3h0M1157.7 347.2h0M1154.5 347.7h0M1158.1 348.7h0M1153.1 347.5h0M1153.6 348.1h0M1164.3 347.7h0M1161.2 346.7h0M1148.5 346.1h0M1151 346h0M1152.8 346.5h0M1149 347.3h0M1150.9 346.1h0M1156.4 345.8h0M1156.5 348.5h0M1153.6 347.3h0M1149.4 347.4h0M1155.5 348.3h0M1148.4 346.1h0M1160 347.3h0M1157.5 347.4h0M1149.1 348.3h0M1163.5 348.3h0M1149.1 346.3h0M1163.5 346.3h0M1218.7 368h0M1221.2 387.4h0M1222.7 387.1h0M1218.4 373.5h0M1236.3 383.2h0M1236.7 384.9h0M1223.6 365.5h0M1236.7 382.9h0M1220.7 364.4h0M1236.2 381.9h0M1218.2 380.8h0M1236.2 379.6h0M1219 364.4h0M1236.2 382.7h0M1232.6 386.5h0M1236.5 375.9h0M1229.4 364.5h0M1233.6 365.5h0M1227.8 386.9h0M1222.8 364.8h0M1230.4 387.8h0M1220.2 387.9h0M1229.9 387.3h0M1229.7 387.9h0M1221.2 387.7h0M1235.2 364.8h0M1219.3 387.1h0M1235.4 387.4h0M1231.4 364.8h0M1234.6 387.9h0M1229.6 364.8h0M1220.4 386.7h0M1229.5 387.8h0M1235.6 373.2h0M1231.3 364.6h0M1236.1 372.5h0M1235.8 387.9h0M1235.5 382.3h0M1230.8 386.7h0M1217.7 375.2h0M1236.6 368.6h0M1219.7 386.6h0M1235.7 369h0M1236.6 367.1h0M1221.9 364.6h0M1217.6 371.5h0M1227.7 387.9h0M1236.3 371.9h0M1218.4 364.5h0M1217.3 372.1h0M1217.9 369.6h0M1236.7 364.7h0M1231.8 387.4h0M1235.7 374.6h0M1221.2 386.5h0M1236.4 374.5h0M1217.4 373.5h0M1218.3 367.7h0M1230.7 387.3h0M1217.3 376.7h0M1218.5 384.3h0M1218.3 365.4h0M1235.7 365.4h0M1218.3 386.9h0M1235.7 386.9h0M1230 358.1h0M1220.8 357.9h0M1221.3 359.5h0M1227.3 359.4h0M1221.8 360.6h0M1217.6 359.1h0M1227.7 360.2h0M1222.4 359.1h0M1219.9 359.6h0M1224.9 359.5h0M1219.5 357.9h0M1219.3 359.4h0M1220.8 360.8h0M1229.4 359.2h0M1228.8 359.5h0M1221.9 358.1h0M1219.5 358.6h0M1217.6 360.6h0M1218.3 360.4h0M1229 360.4h0M1218.3 358.4h0M1229 358.4h0M1226.8 393.8h0M1223.2 393.9h0M1220.7 392.2h0M1228.4 391.6h0M1226.3 392.9h0M1222.9 392h0M1225.1 393.2h0M1227.3 392.9h0M1220.2 394.3h0M1217.8 393h0M1218.1 393.2h0M1222.9 392.8h0M1221.1 393.3h0M1223.4 393.4h0M1229.4 393h0M1226.3 392.8h0M1219.1 392.9h0M1227.8 392.8h0M1222 391.3h0M1218.5 393.9h0M1230.4 393.9h0M1218.5 391.9h0M1230.4 391.9h0M1306.1 389.8h0M1294.1 390.4h0M1301.3 408.8h0M1291.7 389.2h0M1296 409.5h0M1288.9 390h0M1305.4 390.2h0M1300 409.5h0M1307.1 397.5h0M1299.6 409.3h0M1301.7 409.6h0M1306.7 389h0M1303.4 408.8h0M1304.9 409h0M1307.4 396.5h0M1307.8 403.7h0M1288.4 394.5h0M1306.9 392.1h0M1288.4 398.7h0M1288.5 391h0M1288.4 402.7h0M1288.5 408.9h0M1306.7 390h0M1307.8 396.4h0M1306.4 393.9h0M1292.6 409.2h0M1293.4 409.6h0M1293.7 408.8h0M1288.6 389h0M1288.8 403.8h0M1307.2 390.7h0M1307.8 401.1h0M1288.6 405.9h0M1307.6 406.8h0M1288.6 394.3h0M1307.5 396.4h0M1289.7 407.5h0M1292.7 390.4h0M1296.2 409.6h0M1307.1 395.8h0M1289.4 404.4h0M1307.5 397h0M1288.9 391.3h0M1291.2 409.6h0M1301.9 389h0M1306.3 389.8h0M1292.3 409.2h0M1292.9 409.6h0M1301.8 389.6h0M1288.4 407.4h0M1291 409.5h0M1293.2 390.5h0M1289.4 391.9h0M1300.7 409.6h0M1306.3 398.1h0M1307 407.8h0M1289.2 406.3h0M1289.4 390h0M1306.8 390h0M1289.4 408.6h0M1306.8 408.6h0M1301 383.9h0M1296.4 384.2h0M1305.4 384.1h0M1304.3 384.3h0M1300.4 385.3h0M1298.7 382.5h0M1298.2 383.9h0M1297 384.1h0M1296.6 382.8h0M1302.9 382.6h0M1301.6 383.6h0M1303.8 384h0M1295.6 385h0M1298.1 383.9h0M1298.2 384h0M1306.2 384.1h0M1296.4 385h0M1306.2 385h0M1296.4 383h0M1306.2 383h0M1303.9 414.9h0M1293.9 414.5h0M1291.4 414.5h0M1301.2 414.7h0M1298.8 414.2h0M1289.2 415h0M1299.6 414.6h0M1299.4 413.9h0M1296.4 413.7h0M1289.6 414.9h0M1299.1 413.8h0M1296.7 414h0M1300.6 415.7h0M1292.9 415.8h0M1299 414.2h0M1291.6 413.8h0M1289.3 414.6h0M1298.2 414.5h0M1301.4 415.6h0M1294.4 414.6h0M1301.1 414.7h0M1302.7 414.8h0M1289.6 415.6h0M1303.3 415.6h0M1289.6 413.6h0M1303.3 413.6h0M1378 414.1h0M1378.3 421.5h0M1373.3 409.4h0M1378.4 421h0M1378 418.3h0M1378.9 414.1h0M1378.6 410h0M1360.4 413.1h0M1374 410.7h0M1360.2 415.8h0M1360.6 422h0M1371.1 422.6h0M1362.4 409.7h0M1359.8 412.8h0M1359.7 419.3h0M1377.9 418.1h0M1378.9 418.8h0M1367.6 423.2h0M1366.6 409.9h0M1361.8 423.1h0M1378.9 417.3h0M1360.7 413.5h0M1365 409.4h0M1376 409.9h0M1360.3 422.7h0M1360 413.9h0M1364.3 422.3h0M1375.1 410.1h0M1360.1 418.4h0M1359.7 417.3h0M1378.4 410.9h0M1363.4 409.7h0M1366.4 409.8h0M1359.5 419.7h0M1378.9 412.3h0M1378.8 412.8h0M1359.8 409.3h0M1367.6 422.8h0M1372 423h0M1373.7 422.5h0M1377.7 423h0M1378.9 422.5h0M1378.5 411.1h0M1360.9 411.6h0M1375.4 423h0M1378 416.7h0M1360.9 416.1h0M1360.5 410.2h0M1377.9 410.2h0M1360.5 422.2h0M1377.9 422.2h0M1368 404.4h0M1370.4 404.5h0M1365.6 405h0M1362.9 404h0M1371.4 406.3h0M1365.4 405h0M1366.9 404.8h0M1371 403.4h0M1373.4 404.3h0M1362.8 404.8h0M1367.9 406.2h0M1370.2 406.2h0M1371.5 404.8h0M1369 403.9h0M1363.8 404.3h0M1366.8 404.7h0M1370.5 405h0M1364.9 405.4h0M1362.7 405.8h0M1373.6 405.8h0M1362.7 403.8h0M1373.6 403.8h0M1370.6 427.6h0M1370.8 427.7h0M1367.7 427.6h0M1362.2 428.7h0M1370.5 428.5h0M1366.3 426.4h0M1370 428.7h0M1360.9 426.6h0M1368.1 427.7h0M1364.2 426.3h0M1368.9 428.1h0M1362.6 427.6h0M1363.6 426.6h0M1368.9 427.6h0M1369.8 427.9h0M1363.2 427.6h0M1361.7 428.9h0M1361.8 427.3h0M1368.1 427.6h0M1361.3 428.6h0M1373.3 428.6h0M1361.3 426.6h0M1373.3 426.6h0M1441.7 430.1h0M1449.8 424.9h0M1430.7 426.5h0M1438.8 430.8h0M1430.6 430.5h0M1435.4 430.5h0M1445.6 421.5h0M1450 427.9h0M1440.3 421.5h0M1431.8 426.5h0M1448 429.7h0M1431.1 429.6h0M1444.3 431.2h0M1432.5 420.6h0M1438.2 429.8h0M1448.7 429.6h0M1442.4 421.4h0M1438.9 431.2h0M1449.2 421.4h0M1432.3 430.4h0M1430.8 430.1h0M1436 430.7h0M1431.8 421.2h0M1439.5 429.6h0M1438.9 430h0M1432.4 430.1h0M1449.8 422.7h0M1441.5 429.9h0M1431.9 422.2h0M1439.4 429.9h0M1430.7 430.7h0M1447.7 420.8h0M1449 429.6h0M1431.3 424.3h0M1434.4 420.9h0M1442.1 430h0M1439.3 421.8h0M1448.8 430.2h0M1439.6 429.6h0M1444.8 430.9h0M1431.1 430.2h0M1431.1 429.5h0M1431.6 421.6h0M1449.1 421.6h0M1431.6 430.2h0M1449.1 430.2h0M1434.3 416.4h0M1445.3 416.4h0M1446.9 416.9h0M1444.5 416.3h0M1443.8 417.6h0M1446.7 417.3h0M1437.9 417.2h0M1448.5 417.9h0M1446.5 416.6h0M1443 416.5h0M1437.6 416.4h0M1443.2 416.8h0M1444.4 416.3h0M1438.3 417.8h0M1440.1 416.2h0M1436 416.6h0M1439.3 416.4h0M1443.6 416.6h0M1440.6 414.9h0M1441.6 416.5h0M1440.1 416.5h0M1434.6 417.4h0M1447.8 417.4h0M1434.6 415.4h0M1447.8 415.4h0M1438.2 435.7h0M1444.9 435.8h0M1440.7 434.3h0M1442.7 435h0M1440.6 433.8h0M1446.5 435h0M1443.5 435.4h0M1447.8 435.8h0M1446.9 435.9h0M1446.2 435.2h0M1445.3 436.5h0M1433.7 434.9h0M1445.2 435.4h0M1446.3 436.4h0M1433.8 435.2h0M1436.3 436.1h0M1436.5 435.4h0M1433.2 435.8h0M1434.8 434.4h0M1436.2 435.4h0M1439.2 435.2h0M1434.2 436.4h0M1447.1 436.4h0M1434.2 434.4h0M1447.1 434.4h0M1514.3 435.7h0M1520.1 436.2h0M1520.9 432.5h0M1521 434.1h0M1505.7 425.7h0M1521.1 431.5h0M1505.8 436.2h0M1510.3 436.3h0M1506.4 435.8h0M1502.7 432.8h0M1502.2 429h0M1504.8 436.4h0M1520.9 436.1h0M1505.8 425.9h0M1520.8 435.6h0M1501.7 436.3h0M1503.6 436.2h0M1520.9 426.5h0M1503 430.3h0M1511.8 425.8h0M1507.8 435.6h0M1508 436.3h0M1512.5 436h0M1519.8 434.2h0M1518 426.8h0M1513.1 435.6h0M1521 427.4h0M1513.3 435.9h0M1506 425.7h0M1513.6 436.4h0M1521.2 435.5h0M1513 436.2h0M1509 436.2h0M1501.7 425.7h0M1502.5 434.8h0M1502.1 425.6h0M1519.9 435h0M1521.2 427.3h0M1519.9 436.3h0M1516 426.6h0M1507 435.1h0M1520.8 436.4h0M1509.4 435.4h0M1502.7 426.6h0M1520.2 426.6h0M1502.7 435.4h0M1520.2 435.4h0M1511.6 421h0M1516.2 420.7h0M1513.1 421.9h0M1516.9 420.7h0M1516.7 421.4h0M1512.4 421.6h0M1508.6 421.3h0M1508.5 422.2h0M1519.1 421.5h0M1519.2 421.4h0M1511.2 420.1h0M1512.8 421.1h0M1512.7 422.1h0M1510.5 422.9h0M1506.9 421.2h0M1518.8 422.9h0M1509.1 422.3h0M1510 421.5h0M1512.9 422.1h0M1509.6 421.3h0M1507 422.4h0M1519 422.4h0M1507 420.4h0M1519 420.4h0M1507.9 440.9h0M1516.1 441.5h0M1516.2 439.5h0M1517.1 441.9h0M1513.4 440.1h0M1517.6 440.6h0M1515.7 441.5h0M1510.8 439.1h0M1516.7 439.9h0M1518.2 440.9h0M1518.6 440.5h0M1513.3 440.6h0M1508.8 441.7h0M1514.9 440.8h0M1518.7 440.5h0M1516.8 440.4h0M1516 439.1h0M1507.3 439.3h0M1515.2 440.7h0M1507.4 441.6h0M1519.1 441.6h0M1507.4 439.6h0M1519.1 439.6h0M1586.5 438.7h0M1573.2 436.2h0M1572.9 435.3h0M1572.9 437.4h0M1582.3 438.2h0M1591.8 439h0M1586.4 439.3h0M1580.8 439.5h0M1580.2 434.3h0M1575 438.5h0M1576.3 433.4h0M1584.6 439.1h0M1580.2 434.1h0M1575.2 439.5h0M1585.6 434h0M1573 439.1h0M1584.3 434h0M1582.5 438.9h0M1591.2 435.7h0M1587.5 434.4h0M1574.3 435.5h0M1574.4 439.5h0M1581.7 439.6h0M1585.5 439.4h0M1592.1 439.6h0M1573.1 436.3h0M1589.1 433.9h0M1574 439.2h0M1591.9 436.3h0M1579 433.9h0M1582.7 433.3h0M1592.3 437.9h0M1591.4 433.8h0M1589.4 439.4h0M1581.9 439.4h0M1589.8 433.5h0M1573.9 434.3h0M1591.3 434.3h0M1573.9 438.6h0M1591.3 438.6h0M1574.3 428.2h0M1584.3 430.1h0M1574.7 429h0M1574.7 429.5h0M1581 430.7h0M1574.2 430h0M1577.1 429.5h0M1577.2 430.2h0M1574.1 429.8h0M1579.8 428.8h0M1583.9 430.8h0M1574.7 429.4h0M1578.5 430.6h0M1579.2 429.7h0M1579.8 428.9h0M1583.5 429.5h0M1574.3 429.8h0M1576.8 428.5h0M1574.3 430.5h0M1585.5 430.5h0M1574.3 428.5h0M1585.5 428.5h0M1579.5 444.6h0M1585.2 443.9h0M1581.7 442.8h0M1576.2 444.4h0M1577.3 444h0M1576.8 442.3h0M1584.1 442.8h0M1586.3 443.5h0M1582.6 444.6h0M1584.5 444.4h0M1585.2 443.5h0M1587.1 444.8h0M1584.9 442.9h0M1580.6 445h0M1584.9 443.6h0M1582.3 443.5h0M1577.1 444.4h0M1586.3 444.4h0M1577.1 442.4h0M1586.3 442.4h0M1646.1 434.3h0M1662.1 438.3h0M1656.7 443.9h0M1644 441.8h0M1645.3 442.9h0M1645.2 434.2h0M1652.8 434.2h0M1662.8 443.7h0M1644.2 443.5h0M1644 441.3h0M1649.2 434.8h0M1644.6 434.6h0M1663 434.2h0M1644.1 439h0M1644.6 439.4h0M1658.2 434.1h0M1650.1 443.8h0M1648.3 444.3h0M1662.6 439.5h0M1663.4 441.5h0M1653.5 444.3h0M1644.2 438.3h0M1645.7 443.5h0M1648.2 444.4h0M1645.1 442.9h0M1663.4 442.7h0M1644.6 438h0M1663.2 435.5h0M1656.6 434.9h0M1661.9 434.2h0M1656.8 434.6h0M1658.9 444.2h0M1644.4 439.9h0M1662.8 443.1h0M1646.6 443.5h0M1645.1 439.5h0M1646 435.1h0M1655 435h0M1646.9 434.2h0M1663.3 436.4h0M1653 443.8h0M1650.9 443h0M1645 435.1h0M1662.4 435.1h0M1645 443.4h0M1662.4 443.4h0M1651.3 430.3h0M1657.6 431.1h0M1653.6 429.7h0M1654.6 429.9h0M1655.8 430.5h0M1657.1 429.2h0M1659.2 430.4h0M1657.9 430.3h0M1649 430.2h0M1658.2 430.1h0M1654.1 431.4h0M1650.4 430.5h0M1653.5 430.2h0M1652.9 430.2h0M1657.1 431.3h0M1649.5 431.2h0M1658.6 431.2h0M1649.5 429.2h0M1658.6 429.2h0M1715.8 442h0M1731.8 437.4h0M1729.1 437.4h0M1732.2 445.1h0M1730 444.9h0M1715.8 437.5h0M1733.8 442.3h0M1728.7 437.4h0M1725.5 438.2h0M1717.4 438.3h0M1717.8 444.6h0M1733.7 439.4h0M1724.8 444.6h0M1731.3 443.8h0M1716.6 445.3h0M1727.5 437.2h0M1715.5 445.2h0M1723.2 444.3h0M1725.7 445.2h0M1716.7 443.8h0M1723.9 445h0M1716.5 438.3h0M1723.1 444.9h0M1732.3 443.9h0M1724.8 437.5h0M1721.9 445.3h0M1733.3 444.4h0M1730 437.8h0M1725.2 444.3h0M1733.3 444.6h0M1728.8 445.3h0M1728.4 438.5h0M1719.9 445.2h0M1734.2 438.5h0M1734.5 438.4h0M1715.8 445.1h0M1718.2 438.3h0M1724.8 437.2h0M1716.2 444.2h0M1716.1 438.2h0M1733.5 438.2h0M1716.1 444.3h0M1733.5 444.3h0M1730.4 433.3h0M1728.1 433.4h0M1729.1 433.2h0M1727.5 434.8h0M1731.5 434h0M1731 434.6h0M1729.5 432.1h0M1723.2 432.3h0M1732.7 435h0M1723.9 433.4h0M1722.6 432.6h0M1727.9 434.4h0M1726.2 432.5h0M1723.6 433h0M1723.5 433.1h0M1722.8 433.1h0M1727.3 433.6h0M1722.6 434.4h0M1732.6 434.4h0M1722.6 432.4h0M1732.6 432.4h0" stroke="#f00" stroke-width="11" stroke-linecap="round" fill="none"/><path d="M1025.5 74.6V86.3M1015 74.6H1036M1015 86.3H1036M1049.2 127.4V149.2M1038.7 127.4H1059.8M1038.7 149.2H1059.8M1084.8 212.4V239.5M1074.2 212.4H1095.3M1074.2 239.5H1095.3M1155.9 326.2V350.7M1145.3 326.2H1166.4M1145.3 350.7H1166.4M1227 369V389.5M1216.4 369H1237.5M1216.4 389.5H1237.5M1298.1 395.6V412.5M1287.6 395.6H1308.7M1287.6 412.5H1308.7M1369.2 407.2V422.1M1358.7 407.2H1379.8M1358.7 422.1H1379.8M1440.3 415.2V428.9M1429.8 415.2H1450.9M1429.8 428.9H1450.9M1511.5 420.5V432.9M1500.9 420.5H1522M1500.9 432.9H1522M1582.6 421.1V433.5M1572 421.1H1593.1M1572 433.5H1593.1M1653.7 422.1V434.7M1643.1 422.1H1664.2M1643.1 434.7H1664.2M1724.8 424.2V436.1M1714.3 424.2H1735.3M1714.3 436.1H1735.3" stroke="#000" stroke-width="2.6" fill="none"/><path d="M1025.5 80.4h0M1049.2 138.3h0M1084.8 226.7h0M1155.9 339.2h0M1227 380.2h0M1298.1 404.7h0M1369.2 415.4h0M1440.3 423.2h0M1511.5 427.2h0M1582.6 428.5h0M1653.7 429.1h0M1724.8 430.8h0" stroke="#000" stroke-width="11.4" stroke-linecap="round" fill="none"/><rect x="979" y="56" width="792" height="407.1" fill="none" stroke="#222" stroke-width="1.8"/><path d="M1025.5 463.1V470.4M1049.2 463.1V470.4M1084.8 463.1V470.4M1155.9 463.1V470.4M1227 463.1V470.4M1298.1 463.1V470.4M1369.2 463.1V470.4M1440.3 463.1V470.4M1511.5 463.1V470.4M1582.6 463.1V470.4M1653.7 463.1V470.4M1724.8 463.1V470.4M971.8 446.4H979M971.8 350.2H979M971.8 253.9H979M971.8 157.7H979M971.8 61.5H979" stroke="#222" stroke-width="2.2" fill="none"/><text class="t" transform="translate(966.5 459) scale(1 1.065)" text-anchor="end">0.00</text><text class="t" transform="translate(966.5 362.8) scale(1 1.065)" text-anchor="end">0.25</text><text class="t" transform="translate(966.5 266.6) scale(1 1.065)" text-anchor="end">0.50</text><text class="t" transform="translate(966.5 170.3) scale(1 1.065)" text-anchor="end">0.75</text><text class="t" transform="translate(966.5 74.1) scale(1 1.065)" text-anchor="end">1.00</text><text class="t" transform="translate(1025.5 504.6) scale(1 1.065)" text-anchor="middle">1</text><text class="t" transform="translate(1049.2 504.6) scale(1 1.065)" text-anchor="middle">3</text><text class="t" transform="translate(1084.8 504.6) scale(1 1.065)" text-anchor="middle">6</text><text class="t" transform="translate(1155.9 504.6) scale(1 1.065)" text-anchor="middle">12</text><text class="t" transform="translate(1227 504.6) scale(1 1.065)" text-anchor="middle">18</text><text class="t" transform="translate(1298.1 504.6) scale(1 1.065)" text-anchor="middle">24</text><text class="t" transform="translate(1369.2 504.6) scale(1 1.065)" text-anchor="middle">30</text><text class="t" transform="translate(1440.3 504.6) scale(1 1.065)" text-anchor="middle">36</text><text class="t" transform="translate(1511.5 504.6) scale(1 1.065)" text-anchor="middle">42</text><text class="t" transform="translate(1582.6 504.6) scale(1 1.065)" text-anchor="middle">48</text><text class="t" transform="translate(1653.7 504.6) scale(1 1.065)" text-anchor="middle">54</text><text class="t" transform="translate(1724.8 504.6) scale(1 1.065)" text-anchor="middle">60</text><text class="h" transform="translate(978.1 36) scale(1 1.025)">(b) 1L OS</text></g>
<g><path d="M141.8 624V993.1M153.1 624V993.1M175.7 624V993.1M203.9 624V993.1M254.7 624V993.1M322.5 624V993.1M390.2 624V993.1M458 624V993.1M525.7 624V993.1M593.5 624V993.1M661.2 624V993.1M729 624V993.1M796.7 624V993.1M841.9 624V993.1M853.2 624V993.1M120.8 933H874.9M120.8 845.9H874.9M120.8 758.8H874.9M120.8 671.7H874.9" stroke="#e8e8e8" stroke-width="1.1" fill="none"/><path d="M164.4 624V993.1M187 624V993.1M220.9 624V993.1M288.6 624V993.1M356.4 624V993.1M424.1 624V993.1M491.9 624V993.1M559.6 624V993.1M627.4 624V993.1M695.1 624V993.1M762.9 624V993.1M830.6 624V993.1M120.8 976.5H874.9M120.8 889.4H874.9M120.8 802.3H874.9M120.8 715.2H874.9M120.8 628.1H874.9" stroke="#e8e8e8" stroke-width="2.2" fill="none"/><rect x="150.8" y="647.9" width="27.1" height="54.3" rx="4.3" fill="#f00"/><rect x="153.6" y="642.9" width="22.2" height="8.6" rx="4.3" fill="#f00"/><rect x="155.3" y="698.6" width="21.8" height="8.6" rx="4.3" fill="#f00"/><rect x="173.4" y="712.3" width="27.1" height="75.1" rx="4.3" fill="#f00"/><rect x="176.1" y="707.3" width="19.8" height="8.6" rx="4.3" fill="#f00"/><rect x="177.5" y="783.8" width="22" height="8.6" rx="4.3" fill="#f00"/><rect x="207.3" y="790.4" width="27.1" height="71.8" rx="4.3" fill="#f00"/><rect x="211.1" y="785.4" width="20" height="8.6" rx="4.3" fill="#f00"/><rect x="210.9" y="858.6" width="19" height="8.6" rx="4.3" fill="#f00"/><rect x="275" y="875.7" width="27.1" height="63.7" rx="4.3" fill="#f00"/><rect x="276.9" y="870.7" width="21.8" height="8.6" rx="4.3" fill="#f00"/><rect x="278.2" y="935.8" width="23.7" height="8.6" rx="4.3" fill="#f00"/><rect x="342.8" y="915.4" width="27.1" height="48.2" rx="4.3" fill="#f00"/><rect x="345.7" y="910.4" width="20.1" height="8.6" rx="4.3" fill="#f00"/><rect x="345.6" y="960" width="23.7" height="8.6" rx="4.3" fill="#f00"/><rect x="410.5" y="936.6" width="27.1" height="42.2" rx="4.3" fill="#f00"/><rect x="409.3" y="969" width="29.5" height="11" rx="5.5" fill="#f00"/><rect x="412.1" y="931.6" width="21.8" height="8.6" rx="4.3" fill="#f00"/><rect x="478.3" y="951.9" width="27.1" height="29.4" rx="4.3" fill="#f00"/><rect x="477.1" y="971.5" width="29.5" height="11" rx="5.5" fill="#f00"/><rect x="478.8" y="947.3" width="19.2" height="8.6" rx="4.3" fill="#f00"/><rect x="546" y="957.4" width="27.1" height="24.4" rx="4.3" fill="#f00"/><rect x="544.8" y="972" width="29.5" height="11" rx="5.5" fill="#f00"/><rect x="549.6" y="953" width="20.6" height="8.6" rx="4.3" fill="#f00"/><rect x="613.8" y="961.8" width="27.1" height="20" rx="4.3" fill="#f00"/><rect x="612.6" y="972" width="29.5" height="11" rx="5.5" fill="#f00"/><rect x="619.4" y="957.8" width="19.9" height="8.6" rx="4.3" fill="#f00"/><rect x="681.5" y="963.5" width="27.1" height="17.8" rx="4.3" fill="#f00"/><rect x="680.3" y="971.5" width="29.5" height="11" rx="5.5" fill="#f00"/><rect x="683.9" y="959.7" width="21.7" height="8.6" rx="4.3" fill="#f00"/><rect x="749.3" y="964.4" width="27.1" height="16.9" rx="4.3" fill="#f00"/><rect x="748.1" y="971.5" width="29.5" height="11" rx="5.5" fill="#f00"/><rect x="753.8" y="960.6" width="22.6" height="8.6" rx="4.3" fill="#f00"/><rect x="817" y="967.2" width="27.1" height="14.1" rx="4.3" fill="#f00"/><rect x="815.8" y="971.5" width="29.5" height="11" rx="5.5" fill="#f00"/><rect x="821.3" y="963.5" width="22.6" height="8.6" rx="4.3" fill="#f00"/><path d="M160.8 697.8h0M164.3 697.9h0M173.6 660.2h0M160.4 652.2h0M173.1 695.6h0M156.5 652.5h0M173.1 684.6h0M171.3 652.3h0M162.6 653.5h0M155.9 667.1h0M156 686.3h0M156.2 692.5h0M173.4 652.5h0M173.2 684.3h0M155.8 668.4h0M172.9 688.5h0M155.2 690.9h0M172 652.4h0M172.6 656.2h0M155.2 676.3h0M163.3 652.5h0M173.1 658h0M155.5 691.2h0M164.1 697.3h0M169.4 653.7h0M172.3 652.4h0M166.8 697.5h0M157.3 652.3h0M155.3 655.3h0M162 653.1h0M166.8 652.3h0M172.1 655.9h0M165.1 697.6h0M155.7 663.1h0M155.2 688h0M173.2 670.3h0M173 666.7h0M173.7 681.1h0M173.6 696.8h0M156 664.9h0M155.2 662.9h0M173.6 694.1h0M155.1 660h0M156.7 673.2h0M155.9 674.9h0M169.1 697.6h0M163.5 697.5h0M173.2 680.6h0M171.7 652.2h0M172.2 671.8h0M170 696.5h0M156.1 661.7h0M155.7 697.3h0M159 652.2h0M157.1 652.5h0M160.1 652.2h0M168.3 653.6h0M173.6 672h0M155.7 673.7h0M173.5 675.4h0M155.2 684.6h0M160.8 652.5h0M155.9 659h0M167 652.5h0M162.8 697.1h0M155.5 659.1h0M155.5 666.1h0M170.2 652.2h0M171.2 653h0M157.2 652.3h0M156.3 696.6h0M155.5 697.9h0M173.6 681.8h0M173.2 666.6h0M155.2 682.4h0M172.5 697.9h0M173.2 652.7h0M155.3 672.8h0M171 696.6h0M165.2 697.7h0M172.8 672.5h0M155.8 656h0M155.8 654.2h0M172.2 697h0M168.8 652.2h0M172.3 697.1h0M172.3 689.5h0M173.2 688.2h0M156.5 664.3h0M155.4 697.6h0M155.4 691h0M156.1 653.2h0M172.7 653.2h0M156.1 696.9h0M172.7 696.9h0M160.4 647.2h0M161.9 646.6h0M168.6 646h0M162.1 646.7h0M164.5 647.1h0M158.4 648h0M168.6 647.5h0M162 647.3h0M159.5 646.9h0M170.2 646.7h0M166.2 647.4h0M158.4 648.2h0M157.9 648.1h0M159.6 647.2h0M164.8 647.3h0M161.3 647.5h0M159.6 647.2h0M160.3 647.3h0M159.8 647.9h0M158.9 648.2h0M170.5 648.2h0M158.9 646.2h0M170.5 646.2h0M160.6 703.5h0M163.2 704.4h0M163.9 703h0M171.3 701.6h0M168.3 702.9h0M160.7 702.9h0M160.2 701.5h0M163.5 703.1h0M172.5 703.4h0M171.2 702.8h0M168.9 703.7h0M169.5 703.1h0M160.9 702.8h0M168.7 704.4h0M162.1 703h0M162.9 702.8h0M159.8 702.1h0M163.7 702.9h0M160.6 703.9h0M171.8 703.9h0M160.6 701.9h0M171.8 701.9h0M195.4 736.1h0M179.3 717.1h0M195.8 756.5h0M194.7 728.9h0M178.4 731.9h0M195.2 730h0M177.8 755.5h0M195 720.9h0M184 782.2h0M178.7 772.4h0M196.2 725.1h0M178.4 733.4h0M178.6 760.9h0M195.6 751.1h0M179.2 717.2h0M178.1 779.6h0M195.5 775.1h0M179.5 782.8h0M196.2 730.1h0M184.7 782.8h0M180.4 782.2h0M196.1 726.4h0M177.9 746.8h0M194.9 758.2h0M180.3 716.8h0M194.7 727.9h0M179 772.1h0M179.3 782.6h0M195.6 782.3h0M178.9 747.4h0M195.5 783.1h0M178 734.5h0M180.1 782.2h0M178.4 769h0M179.3 719.1h0M180.5 717.4h0M194.6 717.1h0M196 741.6h0M177.9 754.8h0M178.4 766.4h0M178.4 766.6h0M178.2 716.8h0M177.7 768.9h0M196.2 716.9h0M179.2 764.8h0M196.1 727.4h0M196.2 778h0M196.2 734.1h0M177.8 750.3h0M194.6 781.9h0M195.9 735.4h0M180.6 716.6h0M195.6 771.7h0M194.9 732.8h0M190.1 781.5h0M195.7 781.6h0M178.4 727.7h0M191.3 782.5h0M195.4 742h0M178.3 740.4h0M196 757.2h0M196.2 745h0M185.8 781.9h0M185.5 781.6h0M191.1 783.1h0M195.8 783.1h0M194.7 757.9h0M178 759h0M196.2 730.6h0M196.2 721.6h0M177.9 757.4h0M179.1 760.6h0M177.9 781.7h0M178.5 742.9h0M195.3 724h0M177.7 719.2h0M196.1 769.4h0M196.2 780.1h0M196.2 730h0M177.9 724.5h0M195.6 750.3h0M178 735.9h0M177.8 778h0M195.2 737.7h0M196.2 768.1h0M177.7 747.2h0M177.9 761.7h0M178 742.2h0M184.3 783h0M177.9 756.7h0M194.8 717.2h0M177.9 747.4h0M196 771.4h0M195.2 728.3h0M178.7 741.4h0M196 728.4h0M177.7 728.4h0M177.9 742h0M177.9 716.8h0M177.9 768.1h0M196.2 752.3h0M196.2 763h0M179.7 717.3h0M178 748.5h0M178.1 772.8h0M195.9 779.9h0M178.1 764.3h0M196.1 767.3h0M178.2 782.5h0M194.9 773.1h0M182.8 716.9h0M192.9 716.8h0M179.2 757.6h0M195.6 755.1h0M196.2 736.7h0M182 717.2h0M190.1 782h0M177.8 740.5h0M189.7 717.5h0M195.2 738.7h0M186.8 782h0M178.7 717.6h0M195.2 717.6h0M178.7 782.1h0M195.2 782.1h0M189.1 711.6h0M180.5 711.3h0M190.1 711.5h0M183.7 711.6h0M190.5 711.8h0M184.4 712.5h0M190.1 712.4h0M188.8 711.6h0M189.9 710.1h0M190.5 711.6h0M186.1 711.6h0M184.2 711.7h0M181.6 711.6h0M190.2 711.3h0M186 711.6h0M181.4 712.6h0M190.5 712.6h0M181.4 710.6h0M190.5 710.6h0M191.4 787.5h0M183 788.1h0M192.4 789.7h0M186.6 789.2h0M185.6 787.4h0M194.6 788.4h0M189.3 787.3h0M182.3 788.1h0M193.6 788.2h0M184 788.5h0M192.3 789.7h0M189.7 789.3h0M185.9 788.6h0M191.4 788.1h0M184.4 788.6h0M191.7 788.1h0M187 789.2h0M185.7 787.3h0M182.8 788h0M182.8 789.1h0M194.3 789.1h0M182.8 787.1h0M194.3 787.1h0M230.1 857.1h0M211.6 834.5h0M218.3 795.2h0M225.3 794.9h0M211.9 818.3h0M211.7 805.1h0M211.6 851.2h0M211.7 795.6h0M230 843h0M212.2 796.2h0M212.6 807.7h0M211.7 795.5h0M211.7 802.3h0M223.9 795.5h0M229.9 843.7h0M212.8 844.6h0M229.2 809h0M215 794.8h0M212.4 795.4h0M229.7 807.4h0M230 825.9h0M211.7 817.7h0M212.2 797.1h0M211.7 843.9h0M229.2 795.2h0M229.1 835.2h0M230.1 825h0M212.5 843.5h0M213.2 854.4h0M230.1 806.5h0M230 815h0M212.4 822.7h0M229.4 812.8h0M228.7 837.2h0M211.6 832.3h0M220.1 857.9h0M213.1 836.6h0M212.5 814.5h0M229.9 805.2h0M211.8 857h0M212 827.3h0M213.1 835.2h0M212.9 832.8h0M230.1 835.4h0M212.8 819.3h0M229.9 844.9h0M213.1 800.5h0M229.1 796.5h0M212.4 824.2h0M212.1 824.9h0M212.2 829.7h0M213 837.2h0M219.9 795.3h0M211.8 854.3h0M215.2 794.9h0M225.6 857.8h0M211.6 842.3h0M229.1 824.6h0M230.1 816.7h0M230.1 826.2h0M212.8 814.6h0M228.9 813.6h0M211.9 834.2h0M228.9 841.2h0M229.4 821.3h0M212.1 849.4h0M229.6 817.1h0M223.4 857.5h0M230.1 810.2h0M211.6 830.9h0M211.7 806.4h0M230.1 826.1h0M222.6 857.8h0M229.7 799.8h0M230 838.2h0M229.8 817h0M213.1 816.1h0M213.5 857.7h0M229.2 806.6h0M230.1 808.8h0M226.2 857.5h0M220.8 794.7h0M212.4 794.8h0M212.6 830.1h0M228.7 824.4h0M229.6 846.5h0M211.6 816.7h0M229 806.2h0M229.2 818.6h0M229.9 849.9h0M212.3 849.1h0M224.8 794.8h0M228.7 814.4h0M211.7 798.7h0M230.1 843.6h0M212.8 795.2h0M229.9 842.6h0M212.6 830.7h0M212.3 834.2h0M212.7 845.8h0M229.3 843.5h0M230.1 809.7h0M211.9 795h0M229.9 819.8h0M211.6 809.2h0M211.8 806.1h0M217.9 795.1h0M211.6 817.2h0M212.9 810.6h0M228.8 812.5h0M229.9 817.1h0M211.6 805.4h0M229.4 845.7h0M230.1 826.9h0M212.4 819.4h0M229.9 812.1h0M212.6 795.7h0M229.1 795.7h0M212.6 856.9h0M229.1 856.9h0M223.5 789h0M221.6 789h0M224.4 789.8h0M217.5 790.5h0M223.1 789.7h0M223.5 791h0M218.5 789.4h0M216.7 790.6h0M216.8 789.7h0M218.9 788.7h0M220 791.1h0M216.8 788.1h0M221 790.3h0M215.9 789.7h0M218.3 789.7h0M224.2 788.2h0M216.4 790.7h0M225.7 790.7h0M216.4 788.7h0M225.7 788.7h0M217.2 862.4h0M217.1 862.2h0M219.6 862.9h0M219.6 861.3h0M223.5 861.4h0M221.1 863.8h0M218.7 862.9h0M224.6 863h0M220 862.8h0M216.3 862.4h0M216.8 861.6h0M217.4 863.7h0M225.2 862.9h0M224.2 862.7h0M216.2 863.9h0M224.6 863.9h0M216.2 861.9h0M224.6 861.9h0M296.8 935h0M296.8 881.1h0M293.7 880.8h0M279.4 931h0M288.6 880.2h0M294.7 881.6h0M295 880h0M285.3 881.6h0M294.2 935.1h0M281 880.3h0M296.7 901.2h0M279.4 904h0M279.8 880.1h0M297.8 883.8h0M297.2 894.2h0M296.6 925.3h0M279.7 907.9h0M297.5 931.3h0M279.6 931.2h0M297.8 925h0M280.4 920.2h0M280.3 887.3h0M296.8 917.4h0M297.9 891.8h0M280.2 886.8h0M290.1 934.6h0M286.1 935.1h0M288.3 933.9h0M282.3 880.1h0M282 934.8h0M279.4 888.6h0M295.8 934.7h0M280 903.2h0M279.5 888.7h0M279.6 922.6h0M296.5 934.9h0M280.2 913.2h0M290.4 933.7h0M279.6 922.2h0M297.7 900.3h0M297.7 897.5h0M295.1 880.9h0M296.7 916.4h0M280.7 880.1h0M280.6 929.3h0M280.9 934.3h0M280 918.7h0M279.4 930.1h0M297.3 929.1h0M279.9 902.9h0M296.7 890.8h0M280.5 934.4h0M280.9 881.6h0M283.3 881.6h0M297.9 934.7h0M279.7 882.8h0M280.4 925.9h0M281.3 880.3h0M296.9 908.8h0M297.7 908.6h0M279.8 926.9h0M297.8 910.5h0M280.7 880.1h0M297 891h0M279.6 929h0M288.6 880h0M280.6 932.9h0M280.2 917h0M280.4 934.9h0M297.5 913.1h0M297.6 890.9h0M279.8 927.1h0M282 934.7h0M280.2 933.8h0M280.2 883.4h0M280.3 924.3h0M280.5 891.9h0M297.3 922.5h0M296.6 900.2h0M279.7 908.5h0M280.8 883.3h0M297.3 908.2h0M279.8 916.8h0M291.2 880.1h0M292.2 880.2h0M288.6 880.9h0M297.9 886.8h0M286.8 880h0M279.4 909.4h0M296.7 916.4h0M279.5 909.8h0M281.4 881.2h0M280.7 883.9h0M280.3 889.8h0M296.8 934.4h0M297.3 935.1h0M297 898h0M279.4 925.4h0M297.7 889.2h0M288.6 933.9h0M296.4 884.8h0M297.9 932.6h0M282 934.9h0M296.6 920.4h0M283.8 880.1h0M280.3 881h0M296.9 881h0M280.3 934.1h0M296.9 934.1h0M294.3 875.8h0M293.4 875h0M282.6 875h0M290.4 875.9h0M287.9 875.1h0M286.2 875h0M283.2 874.9h0M287.3 875h0M284.4 875.6h0M284.3 874.9h0M285.2 876.1h0M284.4 874.6h0M284.8 875.2h0M284.3 875h0M282.8 873.8h0M292 875.5h0M292.1 875h0M282.5 875h0M282.2 876h0M293.4 876h0M282.2 874h0M293.4 874h0M295.2 938.9h0M289.9 940.7h0M289.9 939.8h0M288.4 939.5h0M284.6 940.1h0M294.6 938.8h0M289.1 939.7h0M291.5 938.8h0M290.1 939.4h0M283.9 940.2h0M292.6 940.4h0M291.3 941.1h0M297.4 939.9h0M291.7 939.9h0M291 940h0M293.1 940.2h0M283.5 939.9h0M294.3 940.1h0M294.5 940h0M289.1 940.9h0M287.9 940.1h0M283.5 941.1h0M296.6 941.1h0M283.5 939.1h0M296.6 939.1h0M358.6 959.1h0M359.6 959h0M365.6 958h0M357.5 920.9h0M363.6 920.8h0M364.9 936.9h0M365.2 949.2h0M365.5 930.6h0M365.1 920.7h0M348.9 920.9h0M347.2 934.4h0M364.5 924.5h0M365.5 951.3h0M351.9 957.9h0M347.6 943.9h0M352.8 958.4h0M365.6 940.5h0M349.1 959.3h0M365.5 934.3h0M351.3 959.3h0M365.6 928.5h0M348.7 942.4h0M347.1 925.4h0M361.6 920.6h0M364.8 956.4h0M364.3 942.3h0M365.1 936.1h0M355 959.2h0M364.1 934.5h0M348.3 950.5h0M347.6 927.4h0M365.6 938.5h0M348.1 951.7h0M364.4 931.2h0M356.6 959.3h0M365.5 938.5h0M348.2 932.2h0M361.9 959h0M347.4 942.3h0M364 920.4h0M348.4 948.4h0M347.4 939.1h0M365 957.4h0M351.2 957.9h0M348.2 922h0M360.2 959.3h0M356.3 919.8h0M357.8 958h0M347.7 946.9h0M365.1 932.2h0M365.2 929.5h0M364.2 958.4h0M347.1 948.1h0M347.7 938.3h0M358.6 959h0M348.1 946.5h0M363.9 919.9h0M365.5 930.4h0M364.9 925.1h0M365.5 943.9h0M364.5 939.3h0M364.2 920.9h0M358.8 958.9h0M364 920.2h0M347.7 939.4h0M351 958.7h0M365.6 946.7h0M365.4 922.9h0M359 920.6h0M353.1 958.2h0M347.6 945.9h0M347.2 919.8h0M359.2 920.6h0M347.2 944.8h0M347.4 941.5h0M356.9 958.1h0M348.2 947.9h0M347.9 939.3h0M348.2 939.7h0M365.1 932.1h0M353 919.8h0M347.1 952.1h0M365.5 948.2h0M348.1 920.7h0M364.6 920.7h0M348.1 958.3h0M364.6 958.3h0M352.1 915.6h0M355 914.7h0M360.5 915.1h0M359.3 916.2h0M360.2 913.5h0M351.7 914.7h0M354.3 914.6h0M351.2 914.7h0M354.1 914.6h0M360.1 913.8h0M351.4 914.7h0M354.8 915h0M354.9 914.3h0M359 914.2h0M355.9 914.8h0M351.5 915.8h0M351 915.7h0M360.5 915.7h0M351 913.7h0M360.5 913.7h0M361.8 963.2h0M364.9 964.5h0M352.8 962.9h0M355.9 965.8h0M356.5 964.3h0M350.8 964.3h0M361.5 964.2h0M359.1 963.5h0M355.8 964.5h0M357.3 964.3h0M360.1 965.1h0M350.1 963.8h0M364 964.9h0M351.8 964.3h0M353 964.5h0M356.2 963.3h0M350.7 963.1h0M354.9 963.2h0M353.9 963.1h0M359.5 964.4h0M354 963.6h0M350.9 965.3h0M364.1 965.3h0M350.9 963.3h0M364.1 963.3h0M420.2 974.4h0M415.5 948.4h0M432.9 970.4h0M433.1 953.1h0M414.9 971h0M432.8 973.7h0M414.9 974.2h0M425.2 941.9h0M421.5 941.1h0M433.3 963.8h0M415.9 963h0M417.2 940.9h0M421.1 941h0M433 941.3h0M428.1 940.9h0M416.1 974.5h0M422.8 941.1h0M433.3 943.4h0M420.7 974.2h0M433 955.2h0M433.4 972.5h0M423.1 941.2h0M415.9 943.9h0M433.4 964.2h0M414.8 960.3h0M432.8 950.5h0M433.3 972.8h0M426.5 974.5h0M414.8 949.6h0M418.4 941.1h0M416 953.4h0M415.1 965.9h0M415.1 965.7h0M416.3 974.4h0M428.5 974.4h0M415 961.8h0M415.3 965.5h0M432.7 961.9h0M433 946.6h0M433.3 969h0M418 940.9h0M414.8 953.8h0M433.3 957.2h0M424.5 941.3h0M415.1 962h0M415 969.3h0M414.8 954.2h0M433.1 941.8h0M419.3 941.3h0M432.3 972.9h0M428.6 973.6h0M421.9 940.9h0M423 974.1h0M416.3 965.6h0M415.8 956h0M432.8 950.4h0M415.6 973.8h0M433.1 951.5h0M432.5 947.1h0M417.3 942h0M414.9 957.4h0M414.9 957.9h0M431 974.5h0M432.8 951.7h0M415.5 969.4h0M433.4 941.5h0M415 954.5h0M432.6 969.8h0M414.9 942.6h0M415.9 973h0M432.8 956.8h0M433.4 966.4h0M415.1 968h0M415.2 973.1h0M415.8 941.9h0M432.4 941.9h0M415.8 973.5h0M432.4 973.5h0M418 936.9h0M423.3 937h0M419.9 934.6h0M425.4 936.1h0M420.9 935.5h0M428 935.6h0M424.6 935.8h0M424.1 936.5h0M418.1 935.8h0M418 935.9h0M425.9 936.1h0M427.8 936.2h0M425.2 936h0M422.5 936.3h0M428.2 934.5h0M427.2 935.8h0M424.9 936h0M426 935.1h0M417.4 936.9h0M428.6 936.9h0M417.4 934.9h0M428.6 934.9h0M482.6 972.7h0M484.4 956.5h0M488.7 956.6h0M490.1 975.4h0M500.2 973h0M483.3 957.1h0M486.5 976.3h0M482.7 964.9h0M485.3 957.1h0M494.4 957.1h0M499.7 970.9h0M495 976.8h0M494.2 956.2h0M489 956.5h0M499.7 975.4h0M483 956.5h0M488.9 976.5h0M487.2 956.8h0M487.9 956.3h0M482.7 968.3h0M495.7 976.8h0M498.5 956.5h0M488.5 975.6h0M488.5 977h0M482.7 956.7h0M489.9 956.4h0M489 956.2h0M483.1 959.5h0M500.5 970.1h0M482.6 965.2h0M483.5 971.1h0M491.9 976.4h0M483.2 964.2h0M482.8 965.3h0M497 956.8h0M501.1 975.5h0M483.2 965.4h0M483.4 962.8h0M490.4 976.2h0M493.5 956.4h0M488.9 976.9h0M501.1 959.8h0M483.1 957.8h0M487 956.3h0M495.4 976.5h0M492.6 956.7h0M493.4 977h0M482.7 957.9h0M491 957.3h0M501.1 972.5h0M497.1 976.9h0M485.2 977h0M497.7 976.4h0M501.1 963.6h0M496.1 976.9h0M484 965.9h0M483.6 957.2h0M500.1 957.2h0M483.6 976h0M500.1 976h0M483.9 951.6h0M483.4 953.1h0M489.3 952.5h0M485.9 950.8h0M490 951.7h0M487.4 951.6h0M484.1 951.5h0M485.8 951.5h0M487.3 951.7h0M485.4 951.9h0M489.7 951.6h0M486.7 951.6h0M488.3 951.7h0M490.6 952.5h0M483.6 951.9h0M484.1 952.6h0M492.7 952.6h0M484.1 950.6h0M492.7 950.6h0M568.7 969.5h0M561.1 961.7h0M554.9 976.3h0M550.6 971h0M554.1 961.8h0M565.1 977.3h0M568.8 971.3h0M551 968.4h0M568.5 973.9h0M554.3 962h0M550.9 969.4h0M562.4 977.3h0M568.1 974.1h0M568.7 976.5h0M560.8 961.8h0M568.3 968.7h0M561.6 962.8h0M564.9 962.3h0M561.1 976.6h0M551.1 964.2h0M559.6 961.9h0M556.1 963.1h0M568.3 963.8h0M551 968.3h0M550.7 972.5h0M550.9 966.7h0M568.6 966.2h0M564.2 977.5h0M561 977.1h0M568.8 971.7h0M560.6 977.5h0M562.3 963.2h0M553.4 963h0M568.7 977.2h0M560.6 962.9h0M563.4 962.4h0M568.8 976.2h0M559.7 961.7h0M554.9 963.2h0M566.9 963.1h0M568.2 962.1h0M562.3 962.3h0M568.9 963.4h0M560.3 962h0M555.4 961.7h0M568.3 968.2h0M566.7 962.3h0M562.1 976.6h0M551.8 976.6h0M551.3 962.7h0M567.9 962.7h0M551.3 976.5h0M567.9 976.5h0M564.3 956.3h0M560.2 956.1h0M565.9 957.5h0M564.5 958.2h0M564.2 957.3h0M562.9 957.3h0M564.5 956.3h0M565.3 958.9h0M557.6 957.5h0M556.1 957.4h0M564.4 957.3h0M559 957h0M563.7 957.6h0M561.2 958.4h0M558 958.1h0M556.9 958.2h0M562.6 957.4h0M554.9 958.3h0M564.9 958.3h0M554.9 956.3h0M564.9 956.3h0M635.3 977.5h0M635 977.3h0M630.5 966.2h0M618.1 970.2h0M618.2 968.3h0M624 977h0M628.5 977.2h0M636.4 974.7h0M624.5 976.7h0M635.4 966.7h0M618.6 976.3h0M628 976.3h0M632.2 976.5h0M619.8 966.5h0M618.7 971.1h0M632 977.5h0M624 966.2h0M632.7 966.8h0M630.1 977.5h0M619 973.2h0M618.6 970.9h0M622.2 977.5h0M635.9 971.2h0M619 976.3h0M629 967.2h0M618.1 972.7h0M619.4 973.3h0M634.7 977.5h0M619.4 969.8h0M624.4 967.5h0M618.2 967.1h0M630.9 966.4h0M626.4 976.7h0M636.3 977.2h0M636.2 966.2h0M636.6 973.3h0M625.1 966.3h0M618.8 976h0M618.7 976.6h0M622.5 966.9h0M636.5 973.6h0M634.7 977.3h0M619.1 967.1h0M635.6 967.1h0M619.1 976.5h0M635.6 976.5h0M632.9 962.1h0M629.1 961.6h0M631.2 962h0M629 960.8h0M628.6 963.1h0M632.4 963.2h0M630 963.1h0M628.5 962.8h0M625.4 962.1h0M623.8 962.5h0M633.2 961.4h0M633.1 961.3h0M632.1 963.4h0M627.6 961.7h0M626.7 962.1h0M624.7 961.8h0M624.7 963.1h0M633.9 963.1h0M624.7 961.1h0M633.9 961.1h0M686 971.7h0M704.3 970.9h0M686.1 971.5h0M685.8 973.2h0M686.5 968.2h0M686 976h0M704.2 968.4h0M701.9 968.5h0M702.8 976.4h0M695.2 968.6h0M686.9 971.8h0M695.9 976.7h0M690.4 968.5h0M703.8 967.9h0M689.2 968.2h0M693.1 968.3h0M702.9 975.7h0M697.2 968.7h0M704.4 975h0M689.4 968h0M692.9 968.6h0M703.8 970.5h0M692.5 967.9h0M693.4 977h0M704.2 970.5h0M686 970.8h0M687.4 971.1h0M699.6 967.9h0M696.9 968.3h0M693.2 967.9h0M704.4 970.8h0M692.3 967.9h0M703.8 971.9h0M703.9 968.9h0M687.2 976.1h0M690.7 967.9h0M699.6 977h0M701.7 975.9h0M697 976.6h0M686.8 968.8h0M703.4 968.8h0M686.8 976h0M703.4 976h0M691.2 964.3h0M695.2 964.6h0M698.4 964h0M689.3 964.4h0M694.7 964h0M689.9 962.6h0M692.6 964h0M696.6 964h0M698.2 965.2h0M694.8 964.3h0M688.9 963.2h0M699.9 965.1h0M688.3 964.6h0M699 964.7h0M692.4 964.8h0M694.1 964h0M695.4 962.9h0M694.6 964h0M689.2 965h0M700.3 965h0M689.2 963h0M700.3 963h0M766.5 968.9h0M769.7 975.8h0M755 969.2h0M753.9 976h0M767.7 975.7h0M766 976.1h0M753.7 969h0M763.9 968.7h0M765.6 976.5h0M770.2 976.9h0M770.1 969.5h0M757 975.9h0M771.2 972.4h0M756.1 968.9h0M772 976.6h0M754.4 973.3h0M754.9 976.7h0M765.4 969.9h0M765.4 977h0M759 968.7h0M762.8 977h0M770.6 968.8h0M757.9 968.8h0M762.1 970.1h0M753.6 973.6h0M764.3 970.1h0M771.6 968.8h0M770.5 976.7h0M768.8 975.9h0M757.3 969.2h0M771.6 969.5h0M753.8 976.7h0M754.8 969h0M771.1 975.7h0M764.7 968.9h0M754.1 972.3h0M756.7 970.2h0M771.8 972h0M754.6 969.7h0M771.1 969.7h0M754.6 976h0M771.1 976h0M759.7 964.5h0M764.5 964.9h0M760.3 964.9h0M759.9 965.2h0M761.2 964.5h0M761.4 964.9h0M769.6 963.8h0M768.8 964.3h0M769.9 965.7h0M767.9 964.9h0M759.6 964.9h0M760.5 965.7h0M758.1 965.9h0M761.1 964.4h0M769.4 965h0M759.5 965.9h0M758.4 965.3h0M760.5 964.9h0M767.2 964.6h0M767 965.8h0M759.1 965.9h0M771.1 965.9h0M759.1 963.9h0M771.1 963.9h0M826.1 971.6h0M822.8 976.8h0M839.3 975.7h0M828.8 972.2h0M834.5 971.8h0M835.8 976.9h0M821.6 975.4h0M828.6 975.8h0M821.3 971.6h0M830.9 973h0M836.1 971.7h0M830.3 976.4h0M831.4 976.1h0M825 976.9h0M832.9 976.6h0M835.6 971.7h0M839.6 971.9h0M832.6 976.1h0M828 973h0M824 972.3h0M821.7 974.1h0M821.7 976.7h0M838.6 972.3h0M821.6 976.7h0M821.4 976h0M835 977h0M821.5 972.5h0M823.8 972.1h0M837.1 976.4h0M838.3 973.4h0M839.7 975.7h0M834 971.8h0M835.1 976.8h0M824.5 976.6h0M822.3 972.5h0M838.9 972.5h0M822.3 976h0M838.9 976h0M838 969.3h0M831.1 967.9h0M826.5 967.8h0M839.5 968.3h0M830.4 967.9h0M835 968.9h0M835.8 967.8h0M838 969.4h0M830.1 967.4h0M826.6 967.8h0M834.4 968.1h0M827.9 968.3h0M826.2 968.4h0M834.4 967.6h0M832 966.6h0M835.9 967.9h0M833.3 968.4h0M835.1 967.8h0M838.7 967.8h0M826.6 968.8h0M838.5 968.8h0M826.6 966.8h0M838.5 966.8h0" stroke="#f00" stroke-width="11" stroke-linecap="round" fill="none"/><path d="M164.4 640.2V667.5M154.4 640.2H174.4M154.4 667.5H174.4M187 692.8V737.7M176.9 692.8H197M176.9 737.7H197M220.9 808.5V859.7M210.8 808.5H230.9M210.8 859.7H230.9M288.6 904.7V941.9M278.6 904.7H298.7M278.6 941.9H298.7M356.4 930.2V959.6M346.3 930.2H366.4M346.3 959.6H366.4M424.1 947.6V970.1M414.1 947.6H434.2M414.1 970.1H434.2M491.9 947.6V970.1M481.8 947.6H501.9M481.8 970.1H501.9M559.6 947.4V970.2M549.6 947.4H569.7M549.6 970.2H569.7M627.4 947.4V970.2M617.3 947.4H637.4M617.3 970.2H637.4M695.1 950.5V972.8M685.1 950.5H705.2M685.1 972.8H705.2M762.9 950.5V972.8M752.8 950.5H772.9M752.8 972.8H772.9M830.6 950.5V972.8M820.6 950.5H840.6M820.6 972.8H840.6" stroke="#000" stroke-width="2.6" fill="none"/><path d="M164.4 654.1h0M187 716.3h0M220.9 836.2h0M288.6 926.5h0M356.4 948.5h0M424.1 963h0M491.9 963h0M559.6 962.6h0M627.4 963h0M695.1 966.3h0M762.9 966.3h0M830.6 966.3h0" stroke="#000" stroke-width="11.4" stroke-linecap="round" fill="none"/><rect x="120.8" y="624" width="754.1" height="369.1" fill="none" stroke="#222" stroke-width="1.8"/><path d="M164.4 993.1V1000.3M187 993.1V1000.3M220.9 993.1V1000.3M288.6 993.1V1000.3M356.4 993.1V1000.3M424.1 993.1V1000.3M491.9 993.1V1000.3M559.6 993.1V1000.3M627.4 993.1V1000.3M695.1 993.1V1000.3M762.9 993.1V1000.3M830.6 993.1V1000.3M113.6 976.5H120.8M113.6 889.4H120.8M113.6 802.3H120.8M113.6 715.2H120.8M113.6 628.1H120.8" stroke="#222" stroke-width="2.2" fill="none"/><text class="t" transform="translate(108.3 989.1) scale(1 1.065)" text-anchor="end">0.00</text><text class="t" transform="translate(108.3 902) scale(1 1.065)" text-anchor="end">0.25</text><text class="t" transform="translate(108.3 814.9) scale(1 1.065)" text-anchor="end">0.50</text><text class="t" transform="translate(108.3 727.8) scale(1 1.065)" text-anchor="end">0.75</text><text class="t" transform="translate(108.3 640.7) scale(1 1.065)" text-anchor="end">1.00</text><text class="t" transform="translate(164.4 1033.1) scale(1 1.065)" text-anchor="middle">1</text><text class="t" transform="translate(187 1033.1) scale(1 1.065)" text-anchor="middle">3</text><text class="t" transform="translate(220.9 1033.1) scale(1 1.065)" text-anchor="middle">6</text><text class="t" transform="translate(288.6 1033.1) scale(1 1.065)" text-anchor="middle">12</text><text class="t" transform="translate(356.4 1033.1) scale(1 1.065)" text-anchor="middle">18</text><text class="t" transform="translate(424.1 1033.1) scale(1 1.065)" text-anchor="middle">24</text><text class="t" transform="translate(491.9 1033.1) scale(1 1.065)" text-anchor="middle">30</text><text class="t" transform="translate(559.6 1033.1) scale(1 1.065)" text-anchor="middle">36</text><text class="t" transform="translate(627.4 1033.1) scale(1 1.065)" text-anchor="middle">42</text><text class="t" transform="translate(695.1 1033.1) scale(1 1.065)" text-anchor="middle">48</text><text class="t" transform="translate(762.9 1033.1) scale(1 1.065)" text-anchor="middle">54</text><text class="t" transform="translate(830.6 1033.1) scale(1 1.065)" text-anchor="middle">60</text><text class="h" transform="translate(119.9 604) scale(1 1.025)">(c) 2L PFS</text><text class="t b" transform="translate(29.2 809.9) rotate(-90) scale(1 1.02)" text-anchor="middle">Probability</text><text class="t b" transform="translate(497.8 1071.2) scale(1 1.02)" text-anchor="middle">Time (month)</text></g>
<g><path d="M1001.6 623.9V1031M1013.4 623.9V1031M1037.2 623.9V1031M1066.8 623.9V1031M1120.2 623.9V1031M1191.3 623.9V1031M1262.5 623.9V1031M1333.6 623.9V1031M1404.7 623.9V1031M1475.9 623.9V1031M1547 623.9V1031M1618.2 623.9V1031M1689.3 623.9V1031M1736.8 623.9V1031M1748.6 623.9V1031M979 965.5H1771M979 870.2H1771M979 775H1771M979 679.7H1771" stroke="#e8e8e8" stroke-width="1.1" fill="none"/><path d="M1025.3 623.9V1031M1049 623.9V1031M1084.6 623.9V1031M1155.7 623.9V1031M1226.9 623.9V1031M1298 623.9V1031M1369.2 623.9V1031M1440.3 623.9V1031M1511.5 623.9V1031M1582.6 623.9V1031M1653.8 623.9V1031M1724.9 623.9V1031M979 1013.1H1771M979 917.9H1771M979 822.6H1771M979 727.4H1771M979 632.1H1771" stroke="#e8e8e8" stroke-width="2.2" fill="none"/><rect x="1011.3" y="652.9" width="28" height="60.1" rx="4.3" fill="#f00"/><rect x="1014.8" y="647.9" width="19.6" height="8.6" rx="4.3" fill="#f00"/><rect x="1014.4" y="709.4" width="22.1" height="8.6" rx="4.3" fill="#f00"/><rect x="1035" y="723.8" width="28" height="82.7" rx="4.3" fill="#f00"/><rect x="1037.6" y="718.8" width="21.4" height="8.6" rx="4.3" fill="#f00"/><rect x="1040.2" y="802.9" width="21.8" height="8.6" rx="4.3" fill="#f00"/><rect x="1070.6" y="809.4" width="28" height="78.8" rx="4.3" fill="#f00"/><rect x="1070.7" y="804.4" width="22.7" height="8.6" rx="4.3" fill="#f00"/><rect x="1076.6" y="884.6" width="20.3" height="8.6" rx="4.3" fill="#f00"/><rect x="1141.7" y="902.4" width="28" height="69.7" rx="4.3" fill="#f00"/><rect x="1143.4" y="897.4" width="22.7" height="8.6" rx="4.3" fill="#f00"/><rect x="1143.7" y="968.5" width="24.4" height="8.6" rx="4.3" fill="#f00"/><rect x="1212.9" y="946.4" width="28" height="52.8" rx="4.3" fill="#f00"/><rect x="1215.3" y="941.4" width="20.3" height="8.6" rx="4.3" fill="#f00"/><rect x="1218.1" y="995.6" width="22.6" height="8.6" rx="4.3" fill="#f00"/><rect x="1284" y="968.4" width="28" height="45.9" rx="4.3" fill="#f00"/><rect x="1282.8" y="1004.5" width="30.4" height="11" rx="5.5" fill="#f00"/><rect x="1285" y="963.4" width="24.6" height="8.6" rx="4.3" fill="#f00"/><rect x="1355.1" y="986.6" width="28" height="31.1" rx="4.3" fill="#f00"/><rect x="1353.9" y="1007.9" width="30.4" height="11" rx="5.5" fill="#f00"/><rect x="1356.6" y="981.8" width="21.7" height="8.6" rx="4.3" fill="#f00"/><rect x="1426.3" y="992.4" width="28" height="25.3" rx="4.3" fill="#f00"/><rect x="1425.1" y="1007.9" width="30.4" height="11" rx="5.5" fill="#f00"/><rect x="1427.9" y="988" width="24.2" height="8.6" rx="4.3" fill="#f00"/><rect x="1497.4" y="997.9" width="28" height="19.8" rx="4.3" fill="#f00"/><rect x="1496.2" y="1007.9" width="30.4" height="11" rx="5.5" fill="#f00"/><rect x="1504.3" y="993.9" width="20.5" height="8.6" rx="4.3" fill="#f00"/><rect x="1568.6" y="998.8" width="28" height="18.9" rx="4.3" fill="#f00"/><rect x="1567.4" y="1007.9" width="30.4" height="11" rx="5.5" fill="#f00"/><rect x="1573.4" y="994.9" width="21.4" height="8.6" rx="4.3" fill="#f00"/><rect x="1639.7" y="1000.7" width="28" height="17" rx="4.3" fill="#f00"/><rect x="1638.5" y="1007.9" width="30.4" height="11" rx="5.5" fill="#f00"/><rect x="1642.4" y="996.8" width="24.4" height="8.6" rx="4.3" fill="#f00"/><rect x="1710.9" y="1004.3" width="28" height="13.4" rx="4.3" fill="#f00"/><rect x="1709.7" y="1007.9" width="30.4" height="11" rx="5.5" fill="#f00"/><rect x="1711.8" y="1000.8" width="24.1" height="8.6" rx="4.3" fill="#f00"/><path d="M1016.1 691.1h0M1016.5 708h0M1016.9 692.8h0M1015.7 681h0M1034.6 703.2h0M1033.6 658.6h0M1035 680.2h0M1035 674.9h0M1033.5 661.6h0M1035 679.6h0M1034.2 658h0M1030.7 658.4h0M1034.9 697.7h0M1027.9 657.9h0M1034.3 708.6h0M1035 662.4h0M1034.7 663.8h0M1018.2 657.2h0M1015.9 671.5h0M1015.7 704.5h0M1034.4 708.7h0M1027.9 708.6h0M1033.4 675.5h0M1016.8 658h0M1034.1 682.2h0M1030 708.7h0M1033.6 672.7h0M1015.6 704.9h0M1034.5 708.4h0M1034 676.7h0M1034.8 658h0M1024.9 657.2h0M1019 657.2h0M1016.5 707.6h0M1016.8 700h0M1023.2 658.3h0M1035 684.7h0M1015.6 677.6h0M1034.2 688h0M1035 707.7h0M1016.3 684.3h0M1016.1 657.6h0M1034.5 688.7h0M1033.6 708.4h0M1015.6 687.9h0M1034.4 663.8h0M1015.6 701.7h0M1016.5 660.5h0M1033.8 686.3h0M1033 708.2h0M1034.6 658.4h0M1033.5 703.5h0M1024 707.9h0M1016.9 679.9h0M1035 665.6h0M1015.7 680h0M1035 664h0M1016.3 708.3h0M1033.6 665.8h0M1034.1 657.3h0M1034.8 662.3h0M1016.9 694.8h0M1033.2 657.3h0M1019.3 657.8h0M1030.8 707.8h0M1035 703.8h0M1033.6 678.2h0M1034.1 684.6h0M1016.6 666.1h0M1020.2 708.5h0M1015.7 683.7h0M1016.2 694.1h0M1035 679h0M1034.9 705.5h0M1035 668.9h0M1028.8 658.6h0M1016.4 705.1h0M1035 682.2h0M1015.9 684.3h0M1015.9 690.8h0M1018.3 708.7h0M1015.9 666.5h0M1016.3 657.5h0M1015.6 707.2h0M1017.9 708.1h0M1015.6 666.5h0M1015.7 703.2h0M1016 685.5h0M1015.6 662.6h0M1034.9 694.3h0M1035 662.8h0M1034.2 685.4h0M1018.2 657.8h0M1015.6 666.4h0M1016.3 683.2h0M1016.9 663.6h0M1031.1 708.7h0M1025.9 708.4h0M1034.1 685.9h0M1016.4 658.1h0M1017.1 657.4h0M1016.6 658.2h0M1034 658.2h0M1016.6 707.7h0M1034 707.7h0M1024.3 652.9h0M1028.5 653h0M1023.2 652.2h0M1023.9 652.7h0M1019.7 650.8h0M1022 653.4h0M1026.8 651h0M1020.2 652.9h0M1020.3 653.6h0M1022.4 652.5h0M1026.8 652.2h0M1029.7 652.7h0M1022.2 652.2h0M1020.1 652.4h0M1027.8 652.2h0M1020.1 653.2h0M1029.2 653.2h0M1020.1 651.2h0M1029.2 651.2h0M1029.7 715h0M1028.3 713.9h0M1031.8 713.7h0M1025.3 713.1h0M1021.9 713.3h0M1029.9 713.8h0M1021.3 713.5h0M1022.6 712.8h0M1021.7 713.2h0M1020.7 714h0M1030.2 713.8h0M1028.7 714h0M1021.2 712.9h0M1024.5 713h0M1019.8 714.9h0M1025.5 713.6h0M1029.9 712.6h0M1023.5 713.7h0M1020.4 714.8h0M1019.7 714.7h0M1031.2 714.7h0M1019.7 712.7h0M1031.2 712.7h0M1049 729.1h0M1058.4 788.5h0M1058 763.7h0M1039.9 799.6h0M1058.3 790.8h0M1045.6 801.7h0M1057.9 768h0M1058.6 798.3h0M1057.9 800.9h0M1039.6 741.4h0M1039.3 802.1h0M1058.6 798.6h0M1040.7 795.3h0M1057.2 795.7h0M1039.6 772.6h0M1040.3 732.7h0M1058.1 753.1h0M1057.8 733.8h0M1039.5 748.6h0M1058.7 801.6h0M1047.5 801.8h0M1057.3 744.5h0M1039.8 771.6h0M1058.7 744.6h0M1040.7 775h0M1039.3 733.4h0M1058.3 773.4h0M1058.7 752.2h0M1040.6 739.7h0M1058.5 739.3h0M1039.3 789.7h0M1058.7 756.3h0M1039.5 794.8h0M1057.8 728.4h0M1057.4 784.6h0M1058.5 743.1h0M1058 745h0M1058.3 735.3h0M1057.5 798h0M1039.6 764h0M1045.6 728.8h0M1057.6 761.4h0M1058.7 773.8h0M1041.1 800.6h0M1040.6 775.8h0M1039.3 738.9h0M1057.6 776.7h0M1058 739.5h0M1039.7 789.4h0M1058.7 786.7h0M1039.4 762.4h0M1058.6 731.4h0M1058.7 771.7h0M1040.8 786.5h0M1057.6 777.8h0M1058.5 777.3h0M1057.5 732.4h0M1042.5 728.2h0M1039.7 731h0M1040.1 764.8h0M1057.3 781.4h0M1039.7 732.6h0M1039.5 745.1h0M1057.8 740.2h0M1057.5 760.3h0M1050.3 728.2h0M1039.3 758.3h0M1057.8 754.2h0M1044 801.2h0M1039.7 775.1h0M1058 732.6h0M1057.8 766h0M1057.5 728.6h0M1058.7 761.6h0M1058.4 735.8h0M1050.9 729.6h0M1039.3 789.2h0M1052.1 728.1h0M1039.3 777.5h0M1053.4 802.1h0M1057.2 784.7h0M1040.4 752.1h0M1039.9 730.2h0M1057.5 781.8h0M1039.9 745.5h0M1056.5 729.1h0M1039.9 771.6h0M1058.3 766.3h0M1057.9 754.6h0M1055.3 801.7h0M1040.8 802.2h0M1039.3 788.6h0M1058.5 777.5h0M1053.7 801.2h0M1058.6 756h0M1055.1 801.2h0M1043.6 800.8h0M1058.4 800.6h0M1058.7 801.9h0M1049.2 728.6h0M1039.7 762.7h0M1058.5 779.6h0M1058.7 738.3h0M1039.3 770.1h0M1058.6 754.8h0M1040.4 760.3h0M1040.1 776.5h0M1039.8 770.1h0M1039.6 773.1h0M1057.3 801h0M1058.5 778.9h0M1058 728.3h0M1039.5 782.2h0M1040.2 758.3h0M1039.5 761.5h0M1047 728.9h0M1040.2 729.7h0M1046.9 729.2h0M1042.7 728.4h0M1058.5 791.6h0M1046 801.4h0M1040.9 765.7h0M1058.5 762.3h0M1058.1 796.1h0M1040.3 783.9h0M1039.3 734.2h0M1057.4 729.7h0M1039.5 766.4h0M1039.4 736.1h0M1039.6 759.1h0M1040.7 783.5h0M1039.6 747.2h0M1040.8 767h0M1040.3 729.1h0M1057.7 729.1h0M1040.3 801.2h0M1057.7 801.2h0M1047 724.1h0M1047.6 724.1h0M1053.3 722.5h0M1045.7 723.6h0M1045.3 723.4h0M1045.8 723.4h0M1047.2 723h0M1051.7 723.1h0M1047 724.7h0M1052 722.2h0M1045.9 723.7h0M1043.8 722.5h0M1053.3 723.1h0M1049.5 723.5h0M1046.4 723.9h0M1049.3 723.1h0M1047.6 723.5h0M1052.1 722.6h0M1042.9 724.1h0M1053.7 724.1h0M1042.9 722.1h0M1053.7 722.1h0M1052.8 807h0M1050.4 805.9h0M1047.9 805.8h0M1045.5 806.4h0M1044.5 806.4h0M1048.7 807.3h0M1052.5 807.5h0M1057.5 808.8h0M1047.4 806.2h0M1049.2 806.9h0M1048.7 806.1h0M1050 807.3h0M1051.8 807h0M1048.4 807.6h0M1055.5 807.2h0M1055 806.6h0M1055.5 807.8h0M1045 807.5h0M1045.5 808.2h0M1056.7 808.2h0M1045.5 806.2h0M1056.7 806.2h0M1076.1 883.3h0M1076.2 869.1h0M1075 865.6h0M1075 861.9h0M1090.1 815.2h0M1080.2 883.9h0M1074.9 857.8h0M1075.1 840.6h0M1074.9 834.5h0M1076.3 832.9h0M1094.3 841.9h0M1079.3 883.5h0M1075 823h0M1076.3 820.9h0M1075.8 813.7h0M1075.1 874.5h0M1094.1 865.8h0M1075.9 864.7h0M1093.5 844.6h0M1094 815.9h0M1075.3 838h0M1080.1 883.6h0M1074.9 823.5h0M1083.8 814.3h0M1093.9 876.7h0M1075.2 854.1h0M1080.7 882.9h0M1093.5 852.1h0M1092.7 849.9h0M1075.2 850.4h0M1075 826.9h0M1090.7 813.9h0M1076.3 843h0M1094.2 854h0M1076.3 881h0M1074.9 823.5h0M1075.4 841.9h0M1094.3 819h0M1075.1 860.6h0M1087.2 883h0M1075.2 831.5h0M1094.2 845.3h0M1093.5 858.7h0M1075.1 874.9h0M1093.2 869.1h0M1074.9 865.9h0M1094.2 865.1h0M1094.1 882.5h0M1089.2 883.3h0M1086.7 883.8h0M1075.4 837.1h0M1090.3 814.3h0M1093.3 825.1h0M1076.2 835.4h0M1074.9 818.4h0M1075.8 860.5h0M1075.1 856.1h0M1075.3 816.2h0M1075.5 876.1h0M1094.3 873.9h0M1094.2 824.5h0M1093 876.3h0M1074.9 830.9h0M1074.9 883.6h0M1094.1 827.6h0M1093.2 857.3h0M1075.1 838.5h0M1094 826.2h0M1094.3 837.8h0M1075.1 861.7h0M1075.7 863.5h0M1093.6 871.2h0M1075.9 851.6h0M1075.2 850.4h0M1075.8 817.6h0M1075.4 819h0M1093.4 818.3h0M1094 832h0M1093.5 826h0M1075.4 883h0M1074.9 822h0M1094 846.5h0M1078.6 813.7h0M1094 819.6h0M1074.9 863.4h0M1087.6 814h0M1080.4 883.9h0M1083 883.5h0M1094.2 829.2h0M1093.3 878.4h0M1075.8 824.8h0M1074.9 826.9h0M1074.9 849.1h0M1093.9 824h0M1084.1 814.6h0M1076.4 814.1h0M1075.6 851.4h0M1094.2 852.4h0M1075.3 877.6h0M1074.9 883.3h0M1076.1 844.6h0M1085.6 814.3h0M1087.4 883.3h0M1075 828.2h0M1076 866.3h0M1089.3 814.2h0M1076.2 854h0M1094.3 839h0M1075.5 828.1h0M1093 872.9h0M1094 814.9h0M1074.9 881.7h0M1076.2 877.9h0M1075.8 840h0M1075.8 868.3h0M1081.4 814.7h0M1094.1 878.4h0M1093.6 826.6h0M1076.4 837.3h0M1074.9 861.8h0M1086.1 814.8h0M1094.3 868.6h0M1077.9 883.9h0M1093.6 860.7h0M1094.1 862.1h0M1076.4 850.3h0M1075.1 852.9h0M1093 875.3h0M1075.9 814.7h0M1093.3 814.7h0M1075.9 882.9h0M1093.3 882.9h0M1083.6 809h0M1087.1 809.7h0M1080.8 807.8h0M1076.4 808h0M1076.4 808.9h0M1075.8 809.7h0M1076.8 808.8h0M1078.9 808.8h0M1087.4 807.9h0M1079.7 807.7h0M1079.2 808.8h0M1082.1 807.8h0M1079.1 808.5h0M1078.7 809.2h0M1078.6 808.7h0M1087.7 808.1h0M1078.2 809h0M1085 808.6h0M1080.3 808.7h0M1077.1 808.9h0M1076 809.7h0M1088.1 809.7h0M1076 807.7h0M1088.1 807.7h0M1091.9 889h0M1090.7 888.1h0M1084.7 889h0M1091.5 888.9h0M1082 889.1h0M1089.7 887.9h0M1080.9 888.9h0M1092.1 889.4h0M1084.5 888.8h0M1084.1 888.8h0M1085.3 888.9h0M1091.6 888.1h0M1088.8 889.8h0M1082.5 888.5h0M1081.7 889.5h0M1087.8 889.2h0M1081.9 889.9h0M1091.6 889.9h0M1081.9 887.9h0M1091.6 887.9h0M1165.4 948.3h0M1146.8 913.2h0M1146.5 926.7h0M1146 928.5h0M1165.5 910.6h0M1147.5 945h0M1165.4 950.7h0M1164.9 944.9h0M1164.9 965.1h0M1148.8 907.4h0M1148.8 908.2h0M1146.1 933h0M1164.1 909.5h0M1165.3 913.2h0M1164.2 919.7h0M1146.7 958.4h0M1146.3 915.7h0M1153.3 967.7h0M1147.2 948.8h0M1164.9 963.7h0M1164.2 961.6h0M1165.5 929.6h0M1164 914.7h0M1146 911.9h0M1161.2 906.8h0M1147.1 913.9h0M1147.2 919.4h0M1163.4 967.3h0M1162 966.5h0M1165.3 962h0M1165.2 952.3h0M1147.5 936.6h0M1146.1 955.6h0M1164.3 948.9h0M1165 939.5h0M1165.5 940.5h0M1164.1 919.5h0M1146 946.9h0M1149.2 966.3h0M1165.4 953.6h0M1165.3 952.4h0M1146 964.4h0M1164.7 955.3h0M1146.8 910.5h0M1165.4 959.2h0M1165.4 907.3h0M1150.9 906.8h0M1146.2 921.4h0M1156.2 967.7h0M1147.5 906.9h0M1164.7 935.9h0M1146.5 913.8h0M1149 907.7h0M1146.1 915.6h0M1148 907.6h0M1164 935.5h0M1165.4 957h0M1152.5 967.8h0M1146.5 943.8h0M1161.9 966.6h0M1148.4 908h0M1165.2 943h0M1165.3 936.7h0M1146.5 953.5h0M1162.9 906.8h0M1164.5 914.5h0M1164.3 914.7h0M1158.4 967.6h0M1147.1 941.9h0M1165 922.9h0M1146 959.7h0M1149.3 907.2h0M1146.5 933.3h0M1146.3 927.8h0M1153.9 906.8h0M1165.4 939.2h0M1152 907.4h0M1165.3 915.3h0M1146 936.7h0M1147.4 949.3h0M1165.4 907.1h0M1155 966.7h0M1165.5 934.9h0M1146.3 967.7h0M1164.6 961.5h0M1146.2 944.5h0M1164.3 935.7h0M1146.8 926.8h0M1165.1 948.1h0M1146 915.2h0M1164.9 950.7h0M1146.2 951.3h0M1146.5 967.8h0M1165.4 944.1h0M1146.4 967.1h0M1164.1 967.6h0M1164 910.9h0M1146.2 967.2h0M1165.2 967.1h0M1165.3 930.8h0M1157.7 907.2h0M1165 910h0M1165.4 955.6h0M1147.3 913.8h0M1163.9 967h0M1146.1 952h0M1146.1 948.7h0M1148.2 967.1h0M1147.3 920.5h0M1165 909.2h0M1146.2 911.1h0M1147.3 909.6h0M1146.2 953.4h0M1146.8 950.5h0M1165.4 943h0M1147 907.7h0M1164.5 907.7h0M1147 966.8h0M1164.5 966.8h0M1159.7 900.1h0M1159.5 902.3h0M1156.9 901.8h0M1148.1 900.2h0M1158.4 900.9h0M1152 901.6h0M1153.7 902.7h0M1148.9 901.1h0M1156.1 901.6h0M1155.9 902.2h0M1156.9 902.1h0M1159.7 902.7h0M1156.5 901.5h0M1149.1 900.7h0M1153 900.4h0M1160.3 900.9h0M1155.7 901.6h0M1159 902.1h0M1151.3 902.2h0M1158.2 901.7h0M1148.7 902.7h0M1160.8 902.7h0M1148.7 900.7h0M1160.8 900.7h0M1151.5 972.7h0M1162.2 972.9h0M1156.7 972.8h0M1148.5 971.7h0M1154 972.8h0M1160.6 972.9h0M1149.4 972.5h0M1148.9 973.1h0M1149.6 972.2h0M1154.3 972.8h0M1156.5 972.8h0M1160.3 973.5h0M1158.1 973.4h0M1149.1 972.7h0M1153.2 971.8h0M1163.2 972.4h0M1157.8 973.2h0M1158.2 972.1h0M1163.1 972.8h0M1157.6 972.3h0M1156.9 973.2h0M1149.9 972.8h0M1149 973.8h0M1162.8 973.8h0M1149 971.8h0M1162.8 971.8h0M1218.1 994.4h0M1236.5 968.8h0M1217.4 990.6h0M1235.5 972.2h0M1236.6 951.9h0M1217.2 994.9h0M1218.3 971h0M1233.7 993.3h0M1227.6 994.7h0M1229.7 951h0M1236.3 979h0M1236 971.2h0M1236.5 994.6h0M1236.3 986.4h0M1236.1 965.7h0M1223.3 950.8h0M1235.9 984.8h0M1231.2 951.6h0M1218.6 952.3h0M1236.5 993h0M1217.2 974.2h0M1236.5 963.9h0M1217.2 962.6h0M1235.8 968.4h0M1217.3 975.6h0M1217.5 951.6h0M1236.4 988.5h0M1217.3 974.7h0M1230.8 994h0M1217.6 980.2h0M1235.7 967.9h0M1218.6 950.7h0M1226.7 950.8h0M1217.3 976.1h0M1218 985.7h0M1218.7 956h0M1235.2 994.4h0M1228.8 950.8h0M1217.8 970.1h0M1217.2 961h0M1220.1 994.7h0M1224.9 951.6h0M1236.6 969.7h0M1223.9 994.5h0M1234.9 951.4h0M1218.5 966.2h0M1231.5 994.2h0M1219.2 994.8h0M1218.3 961.8h0M1236.1 959.5h0M1235.1 966.6h0M1235.1 981.6h0M1217.8 981.2h0M1220.4 950.7h0M1236.2 988.4h0M1217.8 967.3h0M1236.6 984.9h0M1217.2 978.3h0M1230.7 950.8h0M1235 959.5h0M1232.9 951.6h0M1227.3 994h0M1235.1 955.5h0M1235.1 960.9h0M1217.2 990.1h0M1231.3 994.4h0M1220.4 994.7h0M1236.6 979.2h0M1236.3 951.7h0M1229 951.5h0M1235.6 980.7h0M1235 974.6h0M1235.8 994.6h0M1225.8 950.9h0M1228 951.8h0M1218.6 979.3h0M1217.2 988.3h0M1236.6 992.7h0M1217.2 958.8h0M1235.4 951.1h0M1231.9 950.7h0M1218.1 971.5h0M1220.3 951.1h0M1217.9 958.5h0M1218.3 965.6h0M1234.1 994.5h0M1236.6 961.7h0M1236.4 960.9h0M1220.8 952.1h0M1236.6 988.5h0M1218.2 951.7h0M1235.6 951.7h0M1218.2 993.9h0M1235.6 993.9h0M1225.9 945.7h0M1222.5 945.6h0M1224.1 945.7h0M1229.7 944.9h0M1229 946.1h0M1222.6 944.2h0M1226.5 945.3h0M1226.4 946.4h0M1227.3 946h0M1222.9 946.2h0M1224.9 945.9h0M1221.5 945.7h0M1223.9 945.7h0M1224.4 945.7h0M1221.5 947.3h0M1221.1 944.8h0M1220.6 946.7h0M1230.3 946.7h0M1220.6 944.7h0M1230.3 944.7h0M1236.1 1000.5h0M1227.1 1000.9h0M1225.8 1000.1h0M1234.2 999.7h0M1229.4 1000.2h0M1228.6 1000.3h0M1223.4 999.9h0M1223.8 999.8h0M1222.9 1000.2h0M1236.3 999.8h0M1234.9 999.7h0M1228.5 999h0M1235.8 1001h0M1232.3 999.8h0M1224.7 998.4h0M1224.2 999.5h0M1233.1 1000.2h0M1235 1000h0M1228.1 1000h0M1231.8 1000h0M1223.4 1000.9h0M1235.4 1000.9h0M1223.4 998.9h0M1235.4 998.9h0M1288.4 982.9h0M1289.7 972.8h0M1289.1 998.8h0M1288.9 1001.2h0M1288.3 1007.3h0M1289.1 996.5h0M1296 1009.7h0M1297.7 1008.4h0M1288.7 980.9h0M1289.4 1004h0M1306.8 976.8h0M1300.1 974h0M1307.7 974.2h0M1307.6 999.5h0M1306.8 973.4h0M1299.1 972.7h0M1288.9 999.4h0M1299.9 1009h0M1297.7 1009.8h0M1306.5 1006.5h0M1290.6 972.9h0M1288.3 981.3h0M1288.5 1010h0M1306.9 983.2h0M1288.4 974.4h0M1307.7 997.6h0M1294.7 974.1h0M1289.8 1000.9h0M1307.7 979.6h0M1288.9 987.4h0M1288.6 984.9h0M1288.8 1005.5h0M1288.4 982.8h0M1307 978.4h0M1289.6 979h0M1307.7 994.1h0M1307.7 989.1h0M1307.7 975.3h0M1289.6 997.5h0M1288.3 976.3h0M1289.6 1003.9h0M1307.5 977.2h0M1307.3 988.1h0M1307 1007.6h0M1304 1008.4h0M1288.5 977.9h0M1302.3 1009.8h0M1306.7 1009.6h0M1289 981.7h0M1298.7 1009.9h0M1306.2 986.7h0M1297.9 974.3h0M1307.7 979.4h0M1300.3 973.7h0M1307 982.3h0M1298.9 974.2h0M1288.7 997.1h0M1289.8 984.9h0M1307.5 975.2h0M1300.1 972.7h0M1307.4 993.7h0M1289.3 983h0M1306.4 1009.9h0M1307.7 977.6h0M1307.2 983.7h0M1297.6 1009.8h0M1288.5 999.6h0M1307.6 984.7h0M1298 1009.1h0M1288.8 990.7h0M1294.3 974.1h0M1288.3 991.1h0M1302 973.4h0M1306.6 991.7h0M1288.4 985.7h0M1301.3 1008.6h0M1305.3 972.8h0M1288.9 977.8h0M1306.7 994.9h0M1299 973.8h0M1288.7 1006.6h0M1289.3 973.7h0M1306.7 973.7h0M1289.3 1009h0M1306.7 1009h0M1289.7 967.4h0M1291.6 967.5h0M1305 966.5h0M1290.6 969.2h0M1304.3 968.5h0M1301.2 967.7h0M1297.8 967.3h0M1297.9 967.7h0M1298.9 967.6h0M1297.3 969.1h0M1292.8 966.5h0M1305 967.7h0M1294.5 968.4h0M1293 967.7h0M1304.9 966.1h0M1292.8 968.3h0M1294.5 966.1h0M1289.7 967.9h0M1295.4 968.2h0M1292.2 967.1h0M1294 967.5h0M1293.5 967.7h0M1290.3 968.7h0M1304.3 968.7h0M1290.3 966.7h0M1304.3 966.7h0M1371.5 992.4h0M1374.4 1013.2h0M1359.5 1008.5h0M1364 1012.5h0M1377.7 1002.1h0M1372 1012.5h0M1370.4 991.3h0M1377.4 1001.2h0M1360.6 1003.7h0M1378.4 1001.2h0M1362.1 1012.5h0M1360.3 996.2h0M1362.3 991h0M1360.3 1004.2h0M1378.9 999.2h0M1360.1 1009.4h0M1376.1 1013.1h0M1366 1013.2h0M1377.3 1010.6h0M1365 990.9h0M1360.8 998.3h0M1362.7 991.6h0M1360.4 990.9h0M1366.7 992h0M1371.9 990.9h0M1360.5 1000.3h0M1364.6 991h0M1378.6 1005.8h0M1368.9 991h0M1360.7 991.4h0M1369.1 1013.3h0M1359.7 1005.7h0M1369.9 991.8h0M1367.6 1013.4h0M1378.8 1000.4h0M1359.5 997h0M1378.6 994.3h0M1369.9 992.2h0M1378.9 995.6h0M1371 991.3h0M1378.6 1013.2h0M1378.6 991.9h0M1359.7 992.2h0M1377.9 1002.7h0M1360.1 990.9h0M1378.6 998.5h0M1360.8 1008.1h0M1359.7 1007.1h0M1360.1 993h0M1360.6 998.9h0M1377.4 1012h0M1369.4 990.9h0M1365.4 991h0M1378.8 994h0M1378.1 1005.6h0M1370.1 1013.2h0M1378.5 1005.6h0M1359.4 1004.2h0M1374.2 1013.3h0M1360.4 991.9h0M1377.9 991.9h0M1360.4 1012.4h0M1377.9 1012.4h0M1363.7 985.2h0M1369 986.3h0M1361.7 986.8h0M1363.7 986.2h0M1368.3 987.2h0M1363.6 985.3h0M1362.5 986.4h0M1365.5 986.1h0M1366 986.2h0M1371.5 985.6h0M1370.1 986.3h0M1361.2 987.5h0M1362.8 986.1h0M1373.9 986.6h0M1365.3 986.2h0M1363.6 986.3h0M1372.5 986.1h0M1362 985h0M1361.9 987.1h0M1373 987.1h0M1361.9 985.1h0M1373 985.1h0M1430.9 997.7h0M1450 1006.7h0M1449.4 1006.8h0M1444.7 1012.5h0M1449.8 1013.4h0M1432 998.7h0M1449.9 1009.1h0M1446.7 996.7h0M1430.6 997.3h0M1443.9 996.9h0M1447.4 997.1h0M1431.3 1005.1h0M1448.5 1010.2h0M1431.5 997h0M1437.2 1012.8h0M1430.9 996.7h0M1435.4 998.1h0M1449.9 998.8h0M1439.2 996.7h0M1434.9 997.2h0M1449.4 998h0M1430.6 1006.6h0M1449.9 1005.4h0M1433.6 996.8h0M1430.6 1009.5h0M1448.4 1012.1h0M1449.5 1009.9h0M1443.5 996.9h0M1446.5 1012.9h0M1434.6 997.7h0M1430.6 1002.8h0M1446 1012.7h0M1449.2 1012.1h0M1438.2 998.2h0M1441.5 996.9h0M1446.7 997h0M1431 1002.4h0M1431.1 1012.9h0M1439.8 1012.2h0M1449.9 1005.5h0M1437.2 997.7h0M1430.6 1001.6h0M1430.7 1003.1h0M1440.2 996.8h0M1449.7 1010.5h0M1431.4 1007.1h0M1449.7 1008.5h0M1438.6 996.7h0M1430.7 1007.6h0M1443.5 996.9h0M1440.4 1013.3h0M1431.6 997.7h0M1449 997.7h0M1431.6 1012.4h0M1449 1012.4h0M1440.3 992.3h0M1442.9 991.7h0M1438.5 991.8h0M1446.1 992.7h0M1438.7 992.4h0M1442.1 990.8h0M1435.9 991.5h0M1445.3 990.8h0M1437 990.8h0M1440.8 992.9h0M1437.7 991.8h0M1438 991.9h0M1446.7 990.8h0M1433.5 991h0M1442.9 993.4h0M1437.1 992.7h0M1444.5 992.9h0M1438.6 993.1h0M1438.9 991.9h0M1439.1 993.2h0M1442.2 991.7h0M1445.4 992.3h0M1433.2 993.3h0M1446.7 993.3h0M1433.2 991.3h0M1446.7 991.3h0M1507.3 1002.5h0M1520.2 1013.2h0M1508.6 1012.8h0M1520.7 1002.7h0M1502.3 1012.8h0M1502.1 1007.9h0M1516.4 1002.6h0M1514.3 1002.6h0M1515.7 1002.2h0M1506.9 1013.4h0M1505.2 1013h0M1521.2 1008.5h0M1520.5 1013.3h0M1520.9 1007.2h0M1520.9 1008.4h0M1519.6 1013.4h0M1521 1004.7h0M1513.4 1012.1h0M1520.9 1008.6h0M1517.6 1002.6h0M1513 1003h0M1520 1011.9h0M1505.1 1013.4h0M1518.5 1013h0M1515.5 1013.3h0M1502.1 1009h0M1508.8 1012.8h0M1514.4 1012.8h0M1502.8 1002.8h0M1503.2 1006.3h0M1511.4 1013.1h0M1517.8 1012.4h0M1501.9 1002.6h0M1503.7 1013.1h0M1521.1 1004h0M1518.7 1013.3h0M1505.3 1002.2h0M1514.4 1013.4h0M1516.6 1012.8h0M1515.7 1012.2h0M1507 1013h0M1521 1006.4h0M1519.7 1003.5h0M1502.7 1003.2h0M1520.2 1003.2h0M1502.7 1012.4h0M1520.2 1012.4h0M1519.3 998.2h0M1513.8 997.4h0M1520.4 998.2h0M1511.9 996.7h0M1514.9 996.7h0M1511.5 998.3h0M1512.9 998.2h0M1509 999.6h0M1514.7 997.4h0M1518 998.6h0M1515 998.5h0M1512.3 999.8h0M1514.3 998h0M1512.2 998.2h0M1509.3 998.8h0M1515.3 998.3h0M1518.1 999.8h0M1509.6 999.2h0M1519.5 999.2h0M1509.6 997.2h0M1519.5 997.2h0M1573.9 1011.5h0M1575.8 1012.3h0M1591 1004.5h0M1588.6 1013.3h0M1588.8 1013.1h0M1587.4 1003.3h0M1592.3 1006.9h0M1573.5 1008.4h0M1582.6 1013.4h0M1579.8 1003.7h0M1580.2 1012.2h0M1591.4 1003.2h0M1590.8 1004.9h0M1572.9 1008.9h0M1584.4 1012.9h0M1573.4 1013h0M1574.6 1012.6h0M1591.9 1009.8h0M1573.1 1006.2h0M1592.2 1004.3h0M1591.1 1007.4h0M1579.3 1003.4h0M1576.8 1013.4h0M1591.6 1005.4h0M1590.8 1007.6h0M1574 1008h0M1586.2 1003.1h0M1583.3 1004.2h0M1574.3 1003.8h0M1573.5 1007.7h0M1581.4 1004.1h0M1573.2 1004.2h0M1577.8 1012.5h0M1577.7 1003.2h0M1591.9 1007.3h0M1590.8 1013.2h0M1591.8 1004.7h0M1576.6 1013.3h0M1590 1003.1h0M1584.4 1012.7h0M1579 1004.3h0M1575 1012.7h0M1573.9 1004.1h0M1591.3 1004.1h0M1573.9 1012.4h0M1591.3 1012.4h0M1584.2 999.1h0M1587.4 997.8h0M1585.7 998.5h0M1586.1 999.2h0M1579.9 1000.3h0M1579.6 997.8h0M1589.9 999.2h0M1579.6 999.2h0M1578.4 999.4h0M1585.8 998.2h0M1580.5 998.4h0M1587.4 998h0M1580.2 999.8h0M1585.6 999.3h0M1587 999.2h0M1584.2 999.1h0M1578.6 999.2h0M1579 998.7h0M1578.7 1000.2h0M1589.4 1000.2h0M1578.7 998.2h0M1589.4 998.2h0M1662.8 1010.8h0M1661.2 1006.2h0M1648.8 1012.2h0M1648.5 1012.3h0M1653.6 1011.9h0M1661.7 1005h0M1647.8 1005.4h0M1646.9 1005.9h0M1645.4 1010.4h0M1645.4 1005h0M1663.4 1013h0M1651.3 1005.4h0M1644.4 1005h0M1648.6 1013.2h0M1645.3 1012.5h0M1662.9 1013.2h0M1654 1005.5h0M1660.7 1005.7h0M1656.5 1006.5h0M1661.9 1006.6h0M1644 1008.7h0M1645.1 1007.8h0M1644.5 1011.2h0M1649.6 1005.1h0M1663.4 1007.3h0M1645.3 1005.6h0M1648 1005.9h0M1646.7 1005.1h0M1649.6 1012.8h0M1662.4 1005h0M1646.7 1005.3h0M1645.1 1012.7h0M1658.6 1013.2h0M1650.5 1005h0M1663.4 1008.1h0M1658.5 1005.2h0M1659.8 1005.7h0M1645 1008.3h0M1656.7 1005.1h0M1645 1006h0M1662.5 1006h0M1645 1012.4h0M1662.5 1012.4h0M1651.9 1000.2h0M1649.9 1001.4h0M1660.8 1002h0M1651.4 1001.1h0M1650.7 999.8h0M1662.5 1001.6h0M1654.2 1000.2h0M1657.4 1000h0M1661 1001.5h0M1654.8 1001.2h0M1647.4 1002.7h0M1659 999.5h0M1657.6 1000.3h0M1660.3 1001.4h0M1648.6 1000.7h0M1650.2 1001h0M1652 1000.3h0M1658.8 999.7h0M1652 1001.1h0M1657.1 1002.3h0M1649.7 1002.1h0M1650.8 1000.8h0M1647.7 1002.1h0M1661.5 1002.1h0M1647.7 1000.1h0M1661.5 1000.1h0M1722.5 1012.8h0M1733.9 1010.3h0M1715.6 1010h0M1718.4 1009h0M1733.4 1013.3h0M1716.4 1008.7h0M1731.1 1008.7h0M1718 1008.7h0M1717 1008.8h0M1729.1 1012.6h0M1715.5 1013h0M1724.5 1012.3h0M1731.9 1008.6h0M1726.5 1011.8h0M1718.1 1009.4h0M1718.3 1013.1h0M1725.9 1008.7h0M1726.6 1009.7h0M1728.4 1009.1h0M1715.8 1009.5h0M1723.7 1012.3h0M1716.6 1012.1h0M1728.8 1010.1h0M1715.4 1010.7h0M1717.1 1013.4h0M1720.8 1012.4h0M1715.3 1012.3h0M1731.8 1009h0M1725.3 1012.7h0M1734.4 1009.6h0M1724.5 1013.3h0M1719.5 1013.2h0M1716.3 1010.2h0M1726.7 1013.3h0M1716.2 1009.6h0M1733.6 1009.6h0M1716.2 1012.4h0M1733.6 1012.4h0M1718.2 1005.8h0M1722.8 1005.3h0M1723.6 1006.3h0M1717.6 1004.3h0M1724 1005.4h0M1730.7 1006h0M1716.2 1005.3h0M1729.5 1004.6h0M1726.1 1006.6h0M1728.7 1003.6h0M1723.1 1005.9h0M1728.5 1005h0M1718.7 1006.5h0M1730.8 1004.6h0M1728.4 1004.9h0M1728.6 1005.1h0M1720.9 1005.5h0M1722.4 1005.1h0M1718.3 1005.1h0M1719.7 1005.6h0M1730.3 1005.1h0M1721.1 1004.9h0M1717.1 1006.1h0M1730.6 1006.1h0M1717.1 1004.1h0M1730.6 1004.1h0" stroke="#f00" stroke-width="11" stroke-linecap="round" fill="none"/><path d="M1025.3 641.7V669.2M1014.7 641.7H1035.9M1014.7 669.2H1035.9M1049 685.1V730.1M1038.5 685.1H1059.6M1038.5 730.1H1059.6M1084.6 804.8V861.5M1074 804.8H1095.1M1074 861.5H1095.1M1155.7 907.2V954.1M1145.2 907.2H1166.3M1145.2 954.1H1166.3M1226.9 936.5V976.6M1216.3 936.5H1237.4M1216.3 976.6H1237.4M1298 973.2V1001.5M1287.5 973.2H1308.6M1287.5 1001.5H1308.6M1369.2 982V1006.2M1358.6 982H1379.7M1358.6 1006.2H1379.7M1440.3 981.7V1005.9M1429.8 981.7H1450.9M1429.8 1005.9H1450.9M1511.5 981.7V1005.9M1500.9 981.7H1522M1500.9 1005.9H1522M1582.6 984.8V1008.8M1572.1 984.8H1593.2M1572.1 1008.8H1593.2M1653.8 984.8V1008.8M1643.2 984.8H1664.3M1643.2 1008.8H1664.3M1724.9 984.8V1008.8M1714.3 984.8H1735.5M1714.3 1008.8H1735.5" stroke="#000" stroke-width="2.6" fill="none"/><path d="M1025.3 655.9h0M1049 708.4h0M1084.6 835.5h0M1155.7 934h0M1226.9 960.5h0M1298 991.5h0M1369.2 998.9h0M1440.3 998.5h0M1511.5 998.5h0M1582.6 1002.1h0M1653.8 1002.1h0M1724.9 1002.1h0" stroke="#000" stroke-width="11.4" stroke-linecap="round" fill="none"/><rect x="979" y="623.9" width="792" height="407.1" fill="none" stroke="#222" stroke-width="1.8"/><path d="M1025.3 1031V1038.2M1049 1031V1038.2M1084.6 1031V1038.2M1155.7 1031V1038.2M1226.9 1031V1038.2M1298 1031V1038.2M1369.2 1031V1038.2M1440.3 1031V1038.2M1511.5 1031V1038.2M1582.6 1031V1038.2M1653.8 1031V1038.2M1724.9 1031V1038.2M971.8 1013.1H979M971.8 917.9H979M971.8 822.6H979M971.8 727.4H979M971.8 632.1H979" stroke="#222" stroke-width="2.2" fill="none"/><text class="t" transform="translate(966.5 1025.7) scale(1 1.065)" text-anchor="end">0.00</text><text class="t" transform="translate(966.5 930.5) scale(1 1.065)" text-anchor="end">0.25</text><text class="t" transform="translate(966.5 835.2) scale(1 1.065)" text-anchor="end">0.50</text><text class="t" transform="translate(966.5 740) scale(1 1.065)" text-anchor="end">0.75</text><text class="t" transform="translate(966.5 644.7) scale(1 1.065)" text-anchor="end">1.00</text><text class="t" transform="translate(1025.3 1071) scale(1 1.065)" text-anchor="middle">1</text><text class="t" transform="translate(1049 1071) scale(1 1.065)" text-anchor="middle">3</text><text class="t" transform="translate(1084.6 1071) scale(1 1.065)" text-anchor="middle">6</text><text class="t" transform="translate(1155.7 1071) scale(1 1.065)" text-anchor="middle">12</text><text class="t" transform="translate(1226.9 1071) scale(1 1.065)" text-anchor="middle">18</text><text class="t" transform="translate(1298 1071) scale(1 1.065)" text-anchor="middle">24</text><text class="t" transform="translate(1369.2 1071) scale(1 1.065)" text-anchor="middle">30</text><text class="t" transform="translate(1440.3 1071) scale(1 1.065)" text-anchor="middle">36</text><text class="t" transform="translate(1511.5 1071) scale(1 1.065)" text-anchor="middle">42</text><text class="t" transform="translate(1582.6 1071) scale(1 1.065)" text-anchor="middle">48</text><text class="t" transform="translate(1653.8 1071) scale(1 1.065)" text-anchor="middle">54</text><text class="t" transform="translate(1724.9 1071) scale(1 1.065)" text-anchor="middle">60</text><text class="h" transform="translate(978.1 603.9) scale(1 1.025)">(d) 2L OS</text></g>
<g><path d="M1038.5 1190V1559.2M1049.8 1190V1559.2M1072.5 1190V1559.2M1100.7 1190V1559.2M1151.6 1190V1559.2M1219.5 1190V1559.2M1287.3 1190V1559.2M1355.2 1190V1559.2M1423 1190V1559.2M1490.9 1190V1559.2M1558.8 1190V1559.2M1626.6 1190V1559.2M1694.5 1190V1559.2M1739.7 1190V1559.2M1751 1190V1559.2M1017.1 1501.1H1771M1017.1 1416.9H1771M1017.1 1332.8H1771M1017.1 1248.6H1771" stroke="#e8e8e8" stroke-width="1.1" fill="none"/><path d="M1061.2 1190V1559.2M1083.8 1190V1559.2M1117.7 1190V1559.2M1185.6 1190V1559.2M1253.4 1190V1559.2M1321.3 1190V1559.2M1389.1 1190V1559.2M1457 1190V1559.2M1524.8 1190V1559.2M1592.7 1190V1559.2M1660.5 1190V1559.2M1728.4 1190V1559.2M1017.1 1543.2H1771M1017.1 1459H1771M1017.1 1374.8H1771M1017.1 1290.7H1771M1017.1 1206.5H1771" stroke="#e8e8e8" stroke-width="2.2" fill="none"/><rect x="1047.6" y="1202" width="27.1" height="97.3" rx="4.3" fill="#f00"/><rect x="1070.2" y="1236.9" width="27.1" height="124.9" rx="4.3" fill="#f00"/><rect x="1071.6" y="1359.2" width="24.4" height="29.6" rx="4.3" fill="#f00"/><rect x="1104.1" y="1303.2" width="27.1" height="135.6" rx="4.3" fill="#f00"/><rect x="1106" y="1436.2" width="24.4" height="24.6" rx="4.3" fill="#f00"/><rect x="1172" y="1397.2" width="27.1" height="136.6" rx="4.3" fill="#f00"/><rect x="1241" y="1446.2" width="24.9" height="32.6" rx="4.3" fill="#f00"/><rect x="1239.8" y="1471.2" width="27.1" height="76" rx="4.3" fill="#f00"/><rect x="1238.6" y="1537.4" width="29.5" height="11" rx="5.5" fill="#f00"/><rect x="1313" y="1467.2" width="16.5" height="13.6" rx="4.3" fill="#f00"/><rect x="1310.7" y="1475.2" width="21.6" height="15.6" rx="4.3" fill="#f00"/><rect x="1307.7" y="1483.2" width="27.1" height="64" rx="4.3" fill="#f00"/><rect x="1306.5" y="1537.4" width="29.5" height="11" rx="5.5" fill="#f00"/><rect x="1375.5" y="1487.2" width="17.3" height="21.6" rx="4.3" fill="#f00"/><rect x="1375.5" y="1496.2" width="27.1" height="51" rx="4.3" fill="#f00"/><rect x="1374.3" y="1537.4" width="29.5" height="11" rx="5.5" fill="#f00"/><rect x="1448.2" y="1498.2" width="16.5" height="15.6" rx="4.3" fill="#f00"/><rect x="1443.4" y="1506.2" width="27.1" height="41" rx="4.3" fill="#f00"/><rect x="1442.2" y="1537.4" width="29.5" height="11" rx="5.5" fill="#f00"/><rect x="1518.3" y="1510.5" width="14.8" height="8.6" rx="4.3" fill="#f00"/><rect x="1513.7" y="1514.2" width="23.9" height="14.6" rx="4.3" fill="#f00"/><rect x="1511.3" y="1523.2" width="27.1" height="24.1" rx="4.3" fill="#f00"/><rect x="1510.1" y="1537.5" width="29.5" height="11" rx="5.5" fill="#f00"/><rect x="1579.1" y="1520.8" width="27.1" height="26.5" rx="4.3" fill="#f00"/><rect x="1577.9" y="1537.5" width="29.5" height="11" rx="5.5" fill="#f00"/><rect x="1647" y="1522.1" width="27.1" height="25.2" rx="4.3" fill="#f00"/><rect x="1645.8" y="1537.5" width="29.5" height="11" rx="5.5" fill="#f00"/><rect x="1714.8" y="1522.8" width="19" height="24.5" rx="4.3" fill="#f00"/><rect x="1713.6" y="1537.5" width="21.4" height="11" rx="5.5" fill="#f00"/><rect x="1714.8" y="1528.2" width="27.1" height="19.1" rx="4.3" fill="#f00"/><rect x="1713.6" y="1537.5" width="29.5" height="11" rx="5.5" fill="#f00"/><path d="M1070.1 1292.6h0M1052.8 1226h0M1052 1258.4h0M1070.4 1233.6h0M1069.6 1225.8h0M1054.2 1293.9h0M1053.8 1293.9h0M1070 1244h0M1069.6 1217.4h0M1057 1293.9h0M1069.7 1206.3h0M1052.8 1235.4h0M1068.9 1209.5h0M1070.4 1263.2h0M1068.9 1243.3h0M1070.3 1234.9h0M1070.3 1254.3h0M1052.3 1264.1h0M1061.4 1207.1h0M1070.4 1232.5h0M1051.9 1290.8h0M1061 1294.4h0M1060.3 1293.6h0M1052.4 1282.5h0M1070.4 1208.4h0M1052.3 1254.4h0M1070.3 1258.7h0M1052 1229.6h0M1052.2 1245.6h0M1067.4 1206.5h0M1053 1245.7h0M1052 1227.1h0M1067.1 1206.6h0M1065.4 1206.5h0M1052.5 1262.8h0M1052.1 1227.9h0M1053 1224.8h0M1051.9 1261.3h0M1070.3 1273.1h0M1067 1295h0M1052.6 1214.2h0M1068.8 1286.4h0M1069.2 1216.4h0M1051.9 1226.9h0M1068.9 1246.2h0M1069.5 1220.9h0M1052.2 1215.7h0M1070.3 1255.3h0M1052 1284.8h0M1070.4 1217.6h0M1053.5 1216.3h0M1052 1214.6h0M1053 1262.1h0M1070.4 1235.1h0M1067.5 1295h0M1070.3 1240.9h0M1068.8 1213.3h0M1051.9 1288.7h0M1052.2 1288.1h0M1070.2 1267.8h0M1069 1289.4h0M1052.9 1287.5h0M1051.9 1231.2h0M1052.9 1272h0M1070 1211.1h0M1052.7 1295h0M1052.4 1276.1h0M1070.3 1262.7h0M1069.7 1270.2h0M1068.6 1294.9h0M1054.6 1293.4h0M1052.6 1288.3h0M1065.6 1207.3h0M1069.9 1267.7h0M1052 1269.5h0M1051.9 1273.1h0M1070.1 1287.8h0M1051.9 1251.9h0M1070 1236h0M1053.2 1245.1h0M1069.6 1209h0M1069.9 1283.1h0M1069.3 1276h0M1053.9 1294.8h0M1070.4 1222.6h0M1070.1 1224.5h0M1069.6 1208.2h0M1069.6 1292.3h0M1070 1256.2h0M1053.3 1271.9h0M1052.9 1218.2h0M1062.4 1293.6h0M1070.3 1217.5h0M1052.2 1271.6h0M1070.4 1263.5h0M1062.5 1295h0M1069.7 1232.9h0M1070.4 1258.6h0M1070.3 1253.6h0M1070.3 1271.9h0M1070.3 1258.5h0M1068.7 1294.1h0M1053.2 1209h0M1051.9 1268.5h0M1057.1 1206.4h0M1069.1 1206.7h0M1070.3 1213.6h0M1052.1 1219.7h0M1070.4 1210.9h0M1070.2 1273.4h0M1051.9 1207.5h0M1052.2 1245.6h0M1052.6 1276.9h0M1070 1273.3h0M1070.1 1247.5h0M1070.3 1270.3h0M1052 1229.5h0M1053.4 1259.9h0M1052 1262.6h0M1063.2 1294.2h0M1068.6 1206.9h0M1070.4 1251.3h0M1058.1 1293.8h0M1070.2 1271.9h0M1069.4 1221.8h0M1069.6 1263.5h0M1052 1275.6h0M1070.1 1290.1h0M1070.4 1220.9h0M1052.1 1243.8h0M1051.9 1206.4h0M1070.2 1288.5h0M1052 1293.5h0M1060 1207.6h0M1051.9 1212.8h0M1052.2 1251h0M1052.1 1206.3h0M1052.1 1234.7h0M1051.9 1279.7h0M1052.4 1226.1h0M1052.7 1238.9h0M1056.8 1206.3h0M1063.8 1206.4h0M1069 1289.4h0M1070.3 1236.2h0M1058.1 1206.7h0M1053.3 1240.9h0M1051.9 1268h0M1051.9 1259.6h0M1070.4 1278h0M1051.9 1220.7h0M1069.4 1222h0M1052.1 1268h0M1052.9 1207.3h0M1069.4 1207.3h0M1052.9 1294h0M1069.4 1294h0M1054.6 1302.8h0M1064.3 1318.2h0M1053 1326.7h0M1065.8 1346.7h0M1092.8 1270.9h0M1074.5 1271.6h0M1074.9 1265.1h0M1088.9 1241.7h0M1075.5 1253.9h0M1091.5 1294.1h0M1092.9 1284.7h0M1074.6 1273.9h0M1092.9 1317.8h0M1092 1328.7h0M1075.5 1259.8h0M1090.3 1241.3h0M1092.8 1355.6h0M1082.5 1241.6h0M1093 1301.4h0M1084.4 1357.3h0M1074.9 1321.5h0M1092.5 1329.1h0M1076 1276.3h0M1092.6 1343.1h0M1092.1 1317h0M1078.7 1356.9h0M1075.1 1353.7h0M1074.9 1332.3h0M1092 1308.2h0M1092.6 1244h0M1093 1319.8h0M1075 1281.7h0M1083.3 1356.2h0M1092.9 1281.2h0M1091.6 1289.8h0M1092.7 1331.6h0M1074.5 1260.9h0M1074.7 1333.1h0M1093 1351.6h0M1075.1 1263.7h0M1075.9 1253.6h0M1076 1334.5h0M1093 1258.3h0M1078.3 1241.2h0M1092.1 1356.6h0M1074.6 1283.9h0M1074.5 1327h0M1092.3 1346.3h0M1091.8 1321.1h0M1092.9 1290.8h0M1075.9 1356.1h0M1074.7 1274.7h0M1074.9 1345.9h0M1092.9 1247.9h0M1074.9 1336.4h0M1074.7 1311.6h0M1092.7 1350.9h0M1091.6 1337.4h0M1087.2 1241.2h0M1093 1248.1h0M1093 1271.3h0M1092.2 1283.8h0M1090.5 1357.4h0M1086.6 1241.4h0M1092.1 1257.5h0M1092.4 1312.2h0M1074.7 1318h0M1074.5 1291.3h0M1075.1 1270.1h0M1092.9 1343.9h0M1077.6 1356.4h0M1091.5 1288.2h0M1092.4 1322h0M1074.7 1274.7h0M1074.6 1261.1h0M1074.7 1257.3h0M1075.8 1300.5h0M1075.8 1331.9h0M1092.8 1250h0M1092.5 1338.7h0M1091.9 1345.5h0M1092.9 1289.6h0M1091.9 1271.1h0M1090.8 1241.9h0M1092.7 1266.1h0M1078.9 1356.8h0M1075 1351h0M1093 1296.8h0M1074.5 1273.9h0M1092.2 1338.9h0M1074.7 1323.6h0M1074.7 1262.1h0M1092 1312h0M1092.5 1338h0M1092.6 1241.5h0M1075.6 1266.1h0M1074.7 1256.2h0M1092.9 1301.4h0M1075.1 1340.3h0M1093 1312.1h0M1092.3 1357h0M1078.3 1357.3h0M1092.8 1248.3h0M1093 1335.5h0M1075.7 1248.5h0M1074.5 1256.5h0M1092.1 1269.8h0M1093 1278.2h0M1093 1347h0M1075.4 1345.1h0M1074.8 1319.4h0M1093 1327.6h0M1092.7 1300.1h0M1074.8 1324.8h0M1075.5 1339.1h0M1075.6 1313h0M1091.7 1243.4h0M1074.6 1343h0M1078.5 1356h0M1075.2 1283.6h0M1093 1260.8h0M1075.7 1250.8h0M1074.9 1345.4h0M1093 1342.2h0M1093 1354.7h0M1074.7 1316.8h0M1074.8 1268.9h0M1093 1318.7h0M1093 1293.7h0M1081.8 1241.3h0M1092.5 1356.6h0M1075 1258.9h0M1092.8 1260.5h0M1093 1338.5h0M1076.7 1241.3h0M1087 1241.2h0M1087.2 1241.4h0M1090.7 1241.2h0M1075.3 1280.3h0M1074.5 1314.7h0M1075.8 1307.7h0M1091.6 1328h0M1084.7 1356.9h0M1092 1309.9h0M1093 1333.6h0M1074.9 1248.4h0M1093 1321.9h0M1074.6 1306.1h0M1091.7 1274.2h0M1074.6 1353.4h0M1091.6 1256.3h0M1092.8 1272.5h0M1091.5 1273.2h0M1074.6 1252.4h0M1074.9 1348.7h0M1092.7 1309.9h0M1092.7 1274.2h0M1092 1288.3h0M1092.9 1263.2h0M1074.6 1324.5h0M1076.1 1318.1h0M1075 1278.9h0M1074.8 1286.7h0M1092.4 1334h0M1078.9 1241.3h0M1086.6 1241.9h0M1092.7 1244.5h0M1074.8 1247.8h0M1075.8 1250.6h0M1092.8 1254.2h0M1075.8 1266.1h0M1075.8 1295.5h0M1093 1290.8h0M1091.8 1310.5h0M1092.5 1308.8h0M1084.2 1241.6h0M1074.6 1270.6h0M1074.7 1308.9h0M1074.5 1291.4h0M1092.1 1244.3h0M1093 1302.3h0M1074.8 1282.7h0M1092.2 1276.3h0M1093 1261.8h0M1092.7 1273.9h0M1091.7 1279.5h0M1092.6 1273.8h0M1087.3 1241.7h0M1092.3 1245h0M1091.6 1288.2h0M1074.7 1287.7h0M1092.3 1241.3h0M1075.5 1316.8h0M1091.5 1357.1h0M1075.3 1345.1h0M1091.8 1337.9h0M1075.5 1242.2h0M1092 1242.2h0M1075.5 1356.5h0M1092 1356.5h0M1076.2 1372.4h0M1090.5 1376.8h0M1090.8 1383.3h0M1076 1366.1h0M1077 1383.3h0M1091 1376.4h0M1091.7 1381.6h0M1075.9 1372h0M1082.9 1364.6h0M1083.5 1383.7h0M1077.1 1382.3h0M1077.2 1371.7h0M1091.3 1382.4h0M1084.3 1364.2h0M1091.5 1376.7h0M1080.3 1383.2h0M1091.5 1370.2h0M1085.9 1383.4h0M1085.9 1383.9h0M1076 1364.9h0M1080 1383.8h0M1077.2 1376.3h0M1076.9 1374.6h0M1075.9 1370.8h0M1077.4 1383.3h0M1088.2 1384.4h0M1091.7 1380.1h0M1083 1364.7h0M1091.3 1370.3h0M1075.9 1379.2h0M1084.1 1384.3h0M1076.2 1364.3h0M1076.8 1384h0M1077.2 1364.3h0M1089.6 1364.3h0M1091.6 1379.4h0M1091.4 1382.2h0M1076.4 1382.5h0M1076.4 1383.8h0M1086.3 1384.5h0M1084 1363.5h0M1080.4 1383.8h0M1091.6 1381.2h0M1076.1 1384.5h0M1086.8 1364.2h0M1090.1 1369.6h0M1076.2 1364.1h0M1075.9 1377.6h0M1077.1 1378.4h0M1081.4 1364.9h0M1075.9 1366.6h0M1091.2 1376.9h0M1076.9 1364.5h0M1090.7 1364.5h0M1076.9 1383.5h0M1090.7 1383.5h0M1089.7 1231.8h0M1094.4 1246.8h0M1095.2 1261h0M1076.1 1397.1h0M1084 1403.2h0M1077.3 1425h0M1081 1392h0M1108.7 1420.7h0M1109 1398.1h0M1108.5 1331.1h0M1109.7 1412.4h0M1109.9 1347.6h0M1119 1308.2h0M1109.1 1387.2h0M1113.4 1308.4h0M1108.6 1415.9h0M1108.5 1318.1h0M1112.1 1307.9h0M1109.9 1313.3h0M1126.8 1378.7h0M1109 1414h0M1110.4 1434h0M1126.9 1424.2h0M1109.1 1358.9h0M1126.7 1434.5h0M1126.2 1360.9h0M1126.4 1332.7h0M1108.5 1379.5h0M1124.7 1433h0M1109.3 1331.8h0M1108.5 1310.8h0M1108.5 1339.9h0M1109 1386h0M1125.9 1398.4h0M1110 1349.5h0M1109.9 1407.3h0M1126.9 1425.4h0M1127 1427.7h0M1109.5 1345.6h0M1108.9 1340.8h0M1109.5 1365.5h0M1108.8 1412.3h0M1126.8 1350h0M1125.7 1324.4h0M1108.4 1376.3h0M1126.3 1316.1h0M1109.5 1323.3h0M1109.1 1344.1h0M1126.6 1342.6h0M1108.5 1424.6h0M1108.6 1308.3h0M1109.9 1345.8h0M1108.6 1425h0M1126.2 1383h0M1127 1316.5h0M1108.8 1351.5h0M1127 1415.1h0M1108.4 1399.8h0M1108.7 1369h0M1126.3 1360h0M1126.3 1356.1h0M1126.3 1328.9h0M1126.9 1433.3h0M1109 1321.2h0M1127 1339.7h0M1126.9 1314.3h0M1119.5 1307.6h0M1114.2 1308.3h0M1125.5 1346.3h0M1108.5 1403.5h0M1108.5 1412.3h0M1119.1 1307.6h0M1117.8 1434.4h0M1126.7 1421.4h0M1109.4 1403.7h0M1108.4 1416.3h0M1126.5 1394h0M1126.7 1397.2h0M1126.9 1373.2h0M1126.7 1312.2h0M1108.7 1365.8h0M1108.7 1400.1h0M1108.4 1385.5h0M1108.5 1349.4h0M1109.7 1418.3h0M1117 1307.6h0M1109.1 1412.1h0M1125.9 1421.5h0M1126.5 1354.3h0M1122.2 1434.5h0M1125.4 1410.6h0M1126.6 1388.1h0M1108.7 1331.8h0M1126.7 1320.1h0M1108.7 1349.5h0M1127 1318.1h0M1108.5 1392.1h0M1126.1 1386.1h0M1109.7 1406.5h0M1125.4 1430.3h0M1108.4 1389.8h0M1126.2 1322.5h0M1122.5 1433.4h0M1125.6 1404.9h0M1126.3 1374.9h0M1108.4 1367.9h0M1108.5 1331.1h0M1109.1 1421.1h0M1108.6 1430.8h0M1126.1 1419.7h0M1109.3 1394.7h0M1126.4 1408.2h0M1108.7 1378.1h0M1125.1 1307.7h0M1126.7 1415.1h0M1126.5 1393.6h0M1108.5 1364.5h0M1108.7 1354.8h0M1126.9 1367.5h0M1108.5 1393.7h0M1125.7 1332.7h0M1126.9 1386.4h0M1126.5 1359.5h0M1126 1429.9h0M1108.4 1430h0M1125.9 1307.5h0M1108.4 1398.9h0M1127 1391h0M1108.7 1419.6h0M1108.8 1335.1h0M1125.8 1309h0M1126.1 1404h0M1109 1405.2h0M1126.6 1344.6h0M1125.8 1412.5h0M1126.6 1428.9h0M1109.6 1313.5h0M1127 1406.1h0M1126.4 1326.1h0M1109.3 1425.4h0M1125.7 1400.9h0M1126.3 1408.1h0M1126.7 1323.9h0M1126.9 1419.6h0M1109.7 1361.6h0M1126.9 1379.6h0M1127 1342.6h0M1109.2 1414.5h0M1125.7 1352.6h0M1112.5 1433.3h0M1126.4 1432.5h0M1125.6 1352.8h0M1108.6 1360.4h0M1108.6 1379.1h0M1126.6 1334.1h0M1109.3 1320h0M1109.3 1390.2h0M1109 1347.5h0M1125.8 1347.7h0M1122.8 1308.4h0M1109.9 1313.4h0M1109.7 1371.2h0M1109.5 1433.4h0M1119.9 1434.4h0M1126.9 1329.3h0M1125.9 1335.8h0M1108.6 1359.1h0M1116.2 1434.5h0M1126.9 1404.8h0M1126.4 1402.4h0M1109.9 1330.1h0M1109.6 1334.1h0M1110 1389.3h0M1113.6 1307.5h0M1108.4 1383.5h0M1109.3 1377.2h0M1108.5 1424.3h0M1125.5 1379.6h0M1125.8 1354.8h0M1108.4 1389.2h0M1108.9 1407.5h0M1109.7 1380.8h0M1108.6 1312.2h0M1108.6 1352.7h0M1108.6 1373.6h0M1126.5 1423.7h0M1109.9 1320h0M1126.5 1434.1h0M1125.4 1390.8h0M1117 1434.5h0M1127 1381.5h0M1108.9 1377.6h0M1125.7 1420.5h0M1126.9 1316.4h0M1108.5 1421.3h0M1109.7 1424h0M1126.3 1332.3h0M1126.3 1428.6h0M1126 1420.6h0M1109 1339.1h0M1109.6 1350.3h0M1111.6 1434.5h0M1126.9 1405.7h0M1127 1353.9h0M1108.8 1318.3h0M1108.4 1340.3h0M1108.8 1337h0M1125.9 1398.7h0M1109.5 1411.5h0M1109.5 1413.7h0M1126.9 1345.9h0M1109.1 1385.4h0M1126.8 1416.4h0M1116.4 1434.4h0M1109.4 1308.5h0M1126 1308.5h0M1109.4 1433.5h0M1126 1433.5h0M1111.7 1455.1h0M1111.1 1456.5h0M1113.1 1455.6h0M1117.3 1455.2h0M1111.3 1456.3h0M1125.5 1454.9h0M1126 1446.2h0M1110.7 1442h0M1126.1 1440.5h0M1113.8 1455.4h0M1126 1447.6h0M1110.4 1442.4h0M1120.5 1440.7h0M1126 1443.6h0M1110.4 1448.1h0M1118.7 1455h0M1113.5 1442h0M1113.8 1440.9h0M1110.6 1445.5h0M1126.1 1455.8h0M1125.5 1441.3h0M1113.7 1455.8h0M1118.9 1456.5h0M1125.8 1441.4h0M1118 1440.5h0M1126.2 1442.7h0M1126.1 1446.6h0M1111.1 1440.5h0M1111.2 1442h0M1125.8 1444.2h0M1121.6 1456.5h0M1111.6 1447.8h0M1111.2 1455.5h0M1125.3 1455.4h0M1110.6 1443.4h0M1124.7 1447.8h0M1111 1453.7h0M1125.5 1448h0M1112.7 1440.8h0M1126.1 1453.6h0M1120.5 1456.5h0M1126.1 1450.7h0M1112.1 1454.9h0M1110.7 1451.2h0M1110.4 1446.3h0M1111.3 1441.5h0M1125.2 1441.5h0M1111.3 1455.5h0M1125.2 1455.5h0M1116.1 1279.5h0M1111.4 1290.2h0M1124 1289.8h0M1127.9 1297.3h0M1113.1 1465h0M1126.5 1459h0M1109.7 1485.7h0M1108 1301h0M1120 1299h0M1194.6 1475.5h0M1177.8 1431.8h0M1186 1527.9h0M1177.3 1413.7h0M1177 1494.9h0M1176.6 1464.1h0M1176.3 1496.1h0M1177.1 1486.6h0M1194.8 1413h0M1193.8 1491.5h0M1193.8 1521.9h0M1194.8 1520.7h0M1182.5 1402.2h0M1176.7 1475.4h0M1194.6 1404.8h0M1193.7 1471.7h0M1194 1490.6h0M1194.8 1510.1h0M1194.8 1488.7h0M1188.4 1403h0M1193.3 1454.1h0M1193.5 1511.9h0M1194.8 1426.7h0M1188.7 1402.9h0M1176.5 1477.7h0M1176.5 1403.9h0M1194 1438.4h0M1193.3 1411h0M1194.7 1509.2h0M1176.6 1423.1h0M1177.7 1437.6h0M1193.8 1424.8h0M1192 1402h0M1193.9 1459.1h0M1176.3 1466.7h0M1194.8 1483.5h0M1176.8 1490.6h0M1193.9 1487.4h0M1178.7 1401.6h0M1193.5 1464.6h0M1194.5 1483.3h0M1194.7 1463.3h0M1193.3 1489.2h0M1176.3 1417.9h0M1193.8 1515h0M1176.4 1487.7h0M1194.8 1480.5h0M1177.8 1509.3h0M1194.4 1428.4h0M1193.9 1462.4h0M1191.1 1401.5h0M1177.5 1412.6h0M1176.3 1526.7h0M1177.6 1428.1h0M1194.3 1495.9h0M1194.8 1514.4h0M1194.8 1492.7h0M1176.7 1465.5h0M1183.2 1402.4h0M1177.1 1453h0M1194.8 1401.8h0M1193.9 1405.2h0M1177.7 1498h0M1176.4 1506h0M1193.6 1479.2h0M1176.3 1501.1h0M1176.6 1498.8h0M1177 1438.5h0M1176.5 1428.2h0M1176.3 1463.5h0M1194.5 1443.7h0M1193.6 1456.8h0M1176.3 1491.4h0M1194.2 1441.3h0M1176.8 1419.9h0M1177 1506.3h0M1194.7 1406.1h0M1176.4 1518.2h0M1194.4 1512h0M1194.2 1442.3h0M1193.8 1442.3h0M1193.7 1528h0M1176.3 1482.4h0M1181.4 1401.6h0M1176.3 1519.3h0M1194.5 1475h0M1177.3 1519.1h0M1194.8 1440.6h0M1193.9 1441.4h0M1176.9 1506.1h0M1194.7 1490.5h0M1194.8 1451.2h0M1176.5 1523.7h0M1185.6 1402.6h0M1176.6 1525.5h0M1176.4 1467.6h0M1177.3 1421h0M1176.4 1448.1h0M1194.6 1473.6h0M1176.7 1466.7h0M1194.8 1495.7h0M1176.5 1506.1h0M1193.3 1461.3h0M1189.4 1528.8h0M1194.6 1529h0M1194.8 1478.5h0M1194.7 1447.8h0M1194.8 1474.1h0M1176.7 1416.3h0M1177.4 1401.7h0M1176.3 1505.9h0M1194.5 1518.3h0M1177 1463.3h0M1186 1401.5h0M1176.3 1455.2h0M1194.7 1447.6h0M1193.4 1465.4h0M1194.3 1471.6h0M1194.8 1488.7h0M1194.6 1522.8h0M1193.3 1497.8h0M1177.7 1447.1h0M1194.6 1495.7h0M1178.7 1529h0M1176.4 1448.1h0M1190.2 1401.6h0M1194.5 1452.2h0M1177.6 1458.3h0M1194.4 1463.1h0M1194 1410.7h0M1177.1 1454.1h0M1177.2 1437.3h0M1176.9 1509.9h0M1194.1 1417.2h0M1176.5 1500.9h0M1194.4 1522.5h0M1193.7 1405h0M1177.6 1454.2h0M1176.3 1502.5h0M1194.2 1474.9h0M1176.5 1475.8h0M1193.6 1474h0M1177 1468.5h0M1176.5 1454.1h0M1188.7 1402h0M1180.8 1401.8h0M1177.8 1515h0M1194.8 1448.4h0M1194.8 1414.3h0M1194.7 1433.5h0M1194.8 1493.6h0M1194.7 1485.7h0M1176.4 1463h0M1194.8 1442.9h0M1194.3 1431.3h0M1176.9 1521.6h0M1193.8 1424.6h0M1194.6 1522h0M1194.7 1495.6h0M1194.6 1527.7h0M1193.6 1493.5h0M1193.3 1491.4h0M1177.4 1522.9h0M1194.8 1469.9h0M1193.7 1438.3h0M1194.6 1457.2h0M1180.5 1528.1h0M1194.3 1402.4h0M1194 1524.3h0M1193.4 1475.2h0M1193.6 1441.9h0M1193.2 1458.4h0M1184.6 1402.1h0M1177.4 1485.1h0M1176.7 1419.7h0M1176.3 1498.9h0M1177.7 1480.6h0M1176.3 1422.2h0M1193.8 1490h0M1176.4 1526.7h0M1194.4 1520.7h0M1193.4 1442.6h0M1176.5 1508.9h0M1177.7 1475.1h0M1176.4 1444h0M1176.5 1525.3h0M1194.5 1405.4h0M1177.4 1450.3h0M1194.7 1425.3h0M1194.3 1459h0M1176.3 1429.8h0M1176.3 1508.4h0M1188.9 1529.4h0M1194.8 1527.7h0M1176.6 1431.9h0M1194.6 1488.3h0M1194.1 1463.9h0M1194.6 1499.4h0M1194.6 1430.5h0M1194.3 1415.7h0M1180.1 1402.7h0M1177.6 1494.1h0M1194.7 1526.4h0M1177.2 1477.6h0M1194.5 1440.2h0M1194.6 1442.3h0M1194.8 1463.9h0M1178.6 1402.6h0M1194.7 1401.8h0M1177.3 1402.5h0M1193.8 1402.5h0M1177.3 1528.5h0M1193.8 1528.5h0M1185.8 1353.3h0M1176.7 1374.7h0M1182.7 1374.7h0M1176.7 1389.6h0M1191.4 1387.4h0M1194.5 1395.5h0M1181.5 1542.9h0M1190.5 1542.9h0M1186 1540h0M1254.6 1450.7h0M1260.9 1471.6h0M1245.7 1456.5h0M1245.6 1461.3h0M1253.5 1450.8h0M1261 1451.3h0M1259.9 1474.5h0M1252.4 1451.3h0M1261.5 1463.5h0M1259 1451.8h0M1245.3 1464.4h0M1261.4 1470.3h0M1260 1468.7h0M1246.2 1450.6h0M1245.3 1471.4h0M1261.1 1473.2h0M1261 1469.6h0M1245.4 1472.2h0M1246.2 1461.5h0M1252.9 1473h0M1246.1 1472.1h0M1246.3 1461h0M1256.7 1473.5h0M1261.5 1450.6h0M1260.8 1473.7h0M1246.5 1463.2h0M1256 1474.4h0M1256.3 1473.5h0M1245.3 1473.4h0M1245.4 1469.8h0M1245.7 1463.8h0M1248.9 1474.5h0M1260.3 1471.8h0M1255.8 1474.3h0M1255.1 1450.8h0M1246.2 1453.8h0M1245.4 1462.2h0M1261.5 1454.5h0M1260.7 1467.5h0M1245.8 1474.4h0M1257.1 1450.5h0M1261.1 1459.3h0M1246 1466.9h0M1246 1474.4h0M1251.4 1473.1h0M1246.1 1460.6h0M1255.3 1450.5h0M1260.2 1461.5h0M1260.8 1458.4h0M1253.1 1450.7h0M1254 1450.6h0M1260.9 1457.7h0M1260.3 1462h0M1245.3 1472.5h0M1245.5 1455.6h0M1245.9 1454.7h0M1260.3 1460.2h0M1246.3 1451.5h0M1260.6 1451.5h0M1246.3 1473.5h0M1260.6 1473.5h0M1244.2 1493.8h0M1244.5 1516.5h0M1260.9 1475.7h0M1262.1 1521.7h0M1245.1 1535h0M1245.4 1538.1h0M1261.1 1499.5h0M1260.6 1475.6h0M1261.9 1489.7h0M1244.9 1523.9h0M1261.3 1498.4h0M1261.4 1484.2h0M1261.5 1521.6h0M1261 1542.1h0M1262.7 1511.2h0M1244.1 1536.5h0M1261.3 1522.6h0M1244.5 1476.7h0M1262.1 1497.6h0M1261 1542.2h0M1244.1 1528.5h0M1252.8 1541.6h0M1253.6 1475.5h0M1244.9 1515.2h0M1261.8 1515.2h0M1255.1 1476.9h0M1244.3 1482.5h0M1262.7 1495.8h0M1244.7 1497.3h0M1258.6 1542.6h0M1262.5 1477.7h0M1262.7 1535h0M1262.6 1498.1h0M1244.7 1488.7h0M1251.7 1475.5h0M1262.5 1480.3h0M1244.5 1484.9h0M1251.6 1542.7h0M1245.2 1531h0M1250.2 1475.6h0M1262.7 1487.7h0M1262.7 1510.3h0M1245.1 1514.2h0M1262.5 1521.1h0M1244.7 1477.4h0M1244.1 1537.2h0M1261.5 1476.2h0M1261.8 1475.9h0M1244.5 1493.3h0M1262.4 1490.5h0M1250.1 1542.7h0M1262.6 1514.8h0M1262.7 1487.9h0M1262.3 1475.8h0M1245.5 1537.2h0M1244.8 1510.8h0M1244.2 1506.8h0M1261.8 1542.6h0M1262.4 1497.5h0M1262.7 1513.1h0M1245.3 1516.8h0M1259.2 1475.6h0M1244.8 1480.4h0M1244.6 1481.1h0M1244.4 1507h0M1245.9 1542.2h0M1245.4 1476.7h0M1262.6 1516.9h0M1262.7 1539.8h0M1262.7 1500.8h0M1262.7 1487.2h0M1244.2 1520.3h0M1251.4 1541.9h0M1261.7 1498.4h0M1261.9 1489.8h0M1255.6 1475.7h0M1244.4 1521h0M1256.5 1475.7h0M1249 1542.7h0M1262.4 1483.1h0M1245.5 1528.2h0M1245.2 1477.9h0M1262.7 1487.4h0M1255.7 1542.9h0M1244.2 1483.8h0M1244.3 1479.7h0M1250.7 1542.7h0M1245.2 1506.3h0M1244.6 1516.7h0M1262.6 1538.2h0M1244.1 1500.9h0M1256.7 1475.5h0M1262.2 1493.2h0M1262.7 1520.8h0M1244.6 1539.2h0M1245.3 1486.5h0M1262.6 1478.8h0M1244.3 1480.3h0M1245.7 1506.4h0M1253.8 1475.8h0M1255.2 1541.4h0M1244.2 1541.6h0M1262.6 1494.8h0M1262.6 1525.2h0M1262.4 1491.8h0M1262.6 1486.6h0M1244.5 1478.1h0M1244.1 1480.5h0M1262.3 1535h0M1244.2 1487.4h0M1262.2 1532.3h0M1245 1541.6h0M1262.6 1498.2h0M1262.1 1514h0M1262.5 1535.2h0M1244.2 1493.7h0M1262.3 1483.4h0M1248.3 1542.8h0M1262.5 1495h0M1261.4 1477.7h0M1244.2 1490.5h0M1262.3 1477h0M1245.1 1476.5h0M1261.7 1476.5h0M1245.1 1541.9h0M1261.7 1541.9h0M1256.7 1416.9h0M1251.2 1439.2h0M1261.8 1439.2h0M1323.9 1473.7h0M1317.6 1476.3h0M1320.4 1475.7h0M1319.5 1471.5h0M1324.5 1472.3h0M1323.7 1475.7h0M1318.5 1471.7h0M1323.8 1472h0M1324.8 1472.9h0M1319.4 1472.9h0M1321 1476.4h0M1323.6 1472.4h0M1318.6 1475.7h0M1325.2 1475.2h0M1323.8 1473.7h0M1325.1 1473h0M1319.2 1471.6h0M1325.1 1472.6h0M1318.3 1472.5h0M1324.2 1472.5h0M1318.3 1475.5h0M1324.2 1475.5h0M1316.1 1480h0M1315.2 1485.3h0M1321.9 1479.8h0M1327.4 1479.6h0M1316.4 1479.5h0M1320.4 1486.2h0M1318.8 1480.2h0M1321 1479.8h0M1327.9 1486.4h0M1316.8 1480.8h0M1326.7 1479.7h0M1316.5 1485.6h0M1321.4 1485.7h0M1316.2 1485h0M1327.9 1485.7h0M1316 1480.8h0M1327.6 1486.5h0M1319.4 1485.4h0M1326.9 1480.3h0M1327.5 1481.4h0M1320.8 1485.6h0M1315.7 1485.2h0M1328 1485h0M1316.8 1480.2h0M1315.3 1485h0M1318.9 1479.5h0M1318.2 1479.6h0M1328 1479.5h0M1316 1480.5h0M1327.1 1480.5h0M1316 1485.5h0M1327.1 1485.5h0M1312.8 1499.1h0M1312.5 1523.2h0M1330.2 1521.9h0M1323.8 1542.5h0M1330 1527.3h0M1321.8 1541.4h0M1313.1 1502.2h0M1313.4 1526.2h0M1329.5 1497h0M1324 1542.6h0M1330.5 1539.7h0M1312.3 1517.4h0M1312.6 1490.1h0M1312 1498.4h0M1319 1488.5h0M1330.5 1523h0M1330.4 1517.2h0M1312 1506.5h0M1330.2 1526.1h0M1327.8 1542.9h0M1312.4 1491.5h0M1330.5 1535.4h0M1312.4 1504.1h0M1328.4 1542.9h0M1329.6 1508.5h0M1330.1 1538h0M1312.1 1537.3h0M1325.3 1487.8h0M1312.2 1487.8h0M1312 1495.2h0M1312.6 1488.4h0M1312.2 1509.7h0M1322.2 1487.6h0M1329.4 1533.9h0M1321.3 1488.3h0M1312 1498.4h0M1313 1504.5h0M1330.2 1520.2h0M1314.8 1487.7h0M1330.5 1500.7h0M1330.5 1492.3h0M1330.1 1500.8h0M1329 1518.1h0M1312.7 1503.2h0M1330.4 1491.3h0M1330 1529.3h0M1329.1 1538.6h0M1312.1 1536.2h0M1312.1 1541.3h0M1329.1 1499.5h0M1314.5 1542.5h0M1327.2 1542.9h0M1329.3 1542.3h0M1314.2 1488.2h0M1329.8 1511h0M1312.9 1529.7h0M1314.3 1541.4h0M1329.7 1541.6h0M1330.4 1493.4h0M1330.4 1493.1h0M1320 1487.9h0M1329.9 1529.8h0M1330.3 1520.5h0M1323.9 1488.6h0M1329.5 1524.5h0M1313.3 1515.1h0M1329 1490.4h0M1327.7 1488.1h0M1313.5 1506.9h0M1312.8 1492.6h0M1327.7 1487.5h0M1312 1501.3h0M1312 1530.2h0M1330 1520h0M1330.5 1493.3h0M1315.9 1541.8h0M1313.1 1517h0M1330.5 1506.3h0M1315.6 1541.4h0M1312.8 1528.5h0M1330.3 1524.2h0M1329.8 1503.5h0M1312 1494h0M1330.5 1487.9h0M1312 1505.8h0M1312.8 1514.6h0M1329.7 1517.3h0M1312 1521.4h0M1329.3 1498.7h0M1330.4 1514.9h0M1330.3 1537.3h0M1320.1 1542h0M1313 1511.7h0M1329.4 1537h0M1312.6 1517.6h0M1330.3 1496.1h0M1329.9 1490.9h0M1312.2 1535.9h0M1329.4 1529.7h0M1330.5 1523.9h0M1329 1503.3h0M1329.2 1541.4h0M1330.3 1501.8h0M1318.8 1542.8h0M1326 1542.3h0M1313 1488.5h0M1329.5 1488.5h0M1313 1541.9h0M1329.5 1541.9h0M1329.7 1452.5h0M1329.5 1458h0M1387.6 1493h0M1388 1498.7h0M1379.9 1493.4h0M1387.6 1504.5h0M1382.4 1503.9h0M1388.2 1492.4h0M1379.9 1502.6h0M1387.8 1504.3h0M1380 1493.9h0M1387.6 1491.9h0M1388.5 1491.5h0M1387.2 1491.6h0M1387.1 1503h0M1379.8 1499.8h0M1388.1 1495.5h0M1386.9 1491.5h0M1383.1 1492.9h0M1383.3 1492.7h0M1381.5 1491.5h0M1380.7 1492.6h0M1380.2 1497.7h0M1381.1 1491.6h0M1387.9 1500.3h0M1387 1499.4h0M1384.9 1491.8h0M1379.9 1494.9h0M1387.2 1492.8h0M1380.4 1500.5h0M1380.2 1492h0M1381 1492.5h0M1380.2 1499.3h0M1380.8 1492.5h0M1387.6 1492.5h0M1380.8 1503.5h0M1387.6 1503.5h0M1393.9 1542.7h0M1380.3 1525.4h0M1398 1540.7h0M1397.4 1510.6h0M1397.3 1518.3h0M1380 1542.7h0M1387.4 1500.7h0M1380.1 1542h0M1397.9 1532.7h0M1395.1 1500.8h0M1398.3 1527.3h0M1398.2 1535.1h0M1382.8 1500.5h0M1398.3 1501.6h0M1390.5 1541.3h0M1381.3 1504.3h0M1397 1538h0M1380 1517h0M1387 1500.8h0M1380.5 1536.2h0M1397.2 1520.3h0M1380.7 1500.5h0M1379.8 1533.6h0M1398.4 1506.8h0M1391.3 1541.7h0M1381.4 1523.3h0M1398.1 1530.8h0M1380 1533.7h0M1389.9 1501.5h0M1381.3 1525.6h0M1396.4 1500.8h0M1398 1502.9h0M1380.6 1520.6h0M1397.8 1540.8h0M1380.6 1541.1h0M1397 1520.1h0M1398.3 1535.3h0M1380.5 1532.9h0M1382.7 1502h0M1380.7 1521.8h0M1397.4 1512.7h0M1379.8 1516.8h0M1395.3 1500.5h0M1380.6 1508.2h0M1379.9 1507.7h0M1398.3 1524.6h0M1379.9 1506.8h0M1379.9 1517.9h0M1392.7 1500.5h0M1398.4 1511.3h0M1379.9 1512.5h0M1380 1527.7h0M1381.2 1513.1h0M1397.5 1515.5h0M1380.1 1503.7h0M1379.9 1528.3h0M1398.4 1519.9h0M1380.2 1500.9h0M1398 1503.9h0M1397.3 1506.3h0M1380.1 1535.7h0M1397.9 1538h0M1396.9 1542.8h0M1380.2 1531.2h0M1381.2 1502h0M1381.2 1516.1h0M1398.1 1520.3h0M1380.4 1522.1h0M1384.5 1541.5h0M1381.2 1527.6h0M1380.3 1518.4h0M1398.4 1511.3h0M1397.2 1512.4h0M1379.9 1519.3h0M1392 1542.8h0M1398.4 1514.3h0M1380.1 1518.5h0M1398.3 1519.3h0M1398.4 1515.6h0M1387.3 1542.2h0M1380.8 1516.7h0M1381.5 1541.7h0M1397.4 1501.7h0M1398.4 1514.1h0M1391.8 1500.7h0M1387.9 1541.6h0M1388.2 1500.6h0M1380.8 1501.5h0M1397.4 1501.5h0M1380.8 1541.9h0M1397.4 1541.9h0M1383.1 1480h0M1397.7 1486.9h0M1394 1497h0M1454.6 1509.5h0M1455.5 1502.5h0M1459.5 1507h0M1459 1509.1h0M1459.4 1508.4h0M1453.9 1508.2h0M1455.7 1509.5h0M1453 1504.1h0M1457.9 1508.6h0M1454.4 1502.8h0M1455 1502.7h0M1452.5 1503.9h0M1453 1506.7h0M1459.4 1503.9h0M1452.9 1509.5h0M1452.9 1506.3h0M1453 1508.2h0M1460.1 1509.4h0M1452.5 1505.5h0M1457.5 1502.5h0M1455.3 1509.4h0M1453.5 1503.5h0M1459.4 1503.5h0M1453.5 1508.5h0M1459.4 1508.5h0M1448.4 1511.1h0M1466.2 1513.2h0M1462.6 1510.7h0M1454.7 1510.6h0M1449.3 1542.5h0M1466 1533.9h0M1451.5 1510.5h0M1447.7 1524.7h0M1448.3 1542.8h0M1448.1 1513.3h0M1465.1 1540.6h0M1455.5 1542.5h0M1460.5 1511h0M1452.4 1541.8h0M1447.7 1513.1h0M1447.7 1526.4h0M1449 1536.3h0M1466.2 1525.3h0M1466.2 1536.9h0M1462 1510.5h0M1448 1540.9h0M1457.6 1510.5h0M1453.2 1510.6h0M1448 1510.5h0M1448.5 1539.5h0M1448.9 1542h0M1454.4 1542.8h0M1448.8 1525.6h0M1465.3 1523.6h0M1466.1 1519.1h0M1466.1 1539.2h0M1448.5 1514.2h0M1452.2 1542.4h0M1465.2 1534.7h0M1466 1540.6h0M1447.9 1536h0M1456.3 1510.5h0M1449.3 1542h0M1464.7 1510.5h0M1448.1 1541.4h0M1465.5 1513.3h0M1457.8 1542.8h0M1456.3 1541.9h0M1448.4 1520.1h0M1449.2 1540.9h0M1465.5 1523.7h0M1465.7 1521h0M1449.1 1539.3h0M1465.9 1514.4h0M1448 1542.7h0M1465.8 1516h0M1466.2 1523.1h0M1465.8 1515h0M1447.9 1526.8h0M1465.7 1515h0M1448 1537.4h0M1466.1 1518.3h0M1451.5 1510.7h0M1448.6 1518.3h0M1466.2 1511.4h0M1460.7 1541.6h0M1457.8 1542.4h0M1465.2 1542.5h0M1457.3 1542.9h0M1447.8 1517.7h0M1463.7 1511h0M1466.2 1540.6h0M1448.7 1541.7h0M1447.7 1534.4h0M1452.1 1541.7h0M1465 1513.9h0M1465.7 1538.3h0M1448.7 1511.5h0M1465.2 1511.5h0M1448.7 1541.9h0M1465.2 1541.9h0M1448 1489.8h0M1457.9 1492.7h0M1526.3 1514.6h0M1523.5 1514.9h0M1525.7 1515h0M1524 1515.7h0M1524 1514.9h0M1522.9 1514.2h0M1528 1514.8h0M1523.1 1516.4h0M1523.6 1515.8h0M1527.8 1515.8h0M1523.6 1513.8h0M1527.8 1513.8h0M1518.7 1520.9h0M1519.1 1520.7h0M1519.2 1518.5h0M1523.7 1524h0M1519.2 1524.4h0M1523.6 1524.5h0M1530.4 1519h0M1518.6 1520.8h0M1533.1 1523.4h0M1519.3 1519.9h0M1520.5 1524.5h0M1518.4 1518.6h0M1529.4 1524.4h0M1531.3 1518.6h0M1518.4 1518.5h0M1531 1518.5h0M1518.6 1520h0M1530.3 1523.9h0M1523.1 1518.6h0M1520.8 1519.7h0M1531.9 1519.5h0M1518.9 1523.2h0M1522.8 1523.7h0M1531.4 1519.9h0M1518.1 1518.6h0M1527.9 1519.6h0M1518.4 1518.8h0M1518.1 1519.4h0M1528 1524.4h0M1518.4 1518.5h0M1519 1519.5h0M1532.3 1519.5h0M1519 1523.5h0M1532.3 1523.5h0M1521.6 1528.1h0M1531 1541.4h0M1515.9 1529.9h0M1519.5 1528.3h0M1524 1542.7h0M1526.3 1541.5h0M1533.3 1542.2h0M1515.8 1539.4h0M1515.7 1529.1h0M1516.6 1540.3h0M1516.4 1542h0M1527.4 1543h0M1531 1542.1h0M1526.9 1542.8h0M1523.1 1527.9h0M1515.8 1534.8h0M1516.4 1531.2h0M1533.7 1533.5h0M1515.6 1542.4h0M1533.9 1534.9h0M1534.1 1539.8h0M1534 1542.1h0M1516.6 1542.9h0M1533 1528.1h0M1532.7 1542.9h0M1521.9 1543h0M1532.5 1536.8h0M1524.4 1527.5h0M1531.1 1542.3h0M1516.9 1529.7h0M1515.6 1530.5h0M1517.7 1527.5h0M1516.8 1529.7h0M1534.1 1530.5h0M1533.5 1535.3h0M1515.6 1528.7h0M1533.6 1539.9h0M1534 1535.9h0M1515.7 1539.5h0M1533.1 1541.7h0M1515.7 1531.5h0M1531.8 1543h0M1532.7 1541.6h0M1517 1530.3h0M1519.2 1542.5h0M1519.7 1541.6h0M1533.6 1530.5h0M1533.1 1541.4h0M1516.6 1528.5h0M1533.1 1528.5h0M1516.6 1542h0M1533.1 1542h0M1585.3 1525.6h0M1583.4 1536.4h0M1586.5 1542.8h0M1601.4 1532.5h0M1601.9 1542.4h0M1597.5 1525.7h0M1600.7 1543h0M1599.3 1525.4h0M1585.3 1525.1h0M1597.4 1542.2h0M1598.5 1542.4h0M1601.6 1528.7h0M1601 1538.3h0M1601.7 1525.6h0M1587.4 1525.1h0M1587 1543h0M1583.5 1532.5h0M1583.7 1525.6h0M1591 1525.1h0M1596.6 1542.3h0M1583.4 1542.6h0M1601.1 1535.4h0M1594.2 1525.1h0M1587 1526.3h0M1600.4 1525.5h0M1584.2 1533.2h0M1599.8 1526.1h0M1600.1 1525.1h0M1583.4 1542.8h0M1601.8 1530.6h0M1588.1 1542.6h0M1583.4 1531.1h0M1584.7 1543h0M1593.7 1526.2h0M1583.4 1530.3h0M1601.5 1525.4h0M1583.5 1542.4h0M1599.7 1525.3h0M1584.2 1526.8h0M1584.2 1528.3h0M1590.9 1526.3h0M1583.8 1540.3h0M1601.8 1529.9h0M1584.1 1542.7h0M1583.6 1525.4h0M1597.6 1543h0M1592.4 1541.7h0M1590.1 1525.2h0M1601.4 1536.4h0M1583.5 1533.4h0M1583.5 1526.1h0M1584.6 1539.3h0M1584.4 1526.1h0M1601 1526.1h0M1584.4 1542h0M1601 1542h0M1669.7 1528h0M1662.9 1542.3h0M1651.8 1536.8h0M1657.6 1543h0M1669.3 1528.5h0M1651.4 1541.6h0M1669.8 1534.4h0M1669 1537.9h0M1669.6 1534.1h0M1659.1 1542.8h0M1669.8 1530.8h0M1668 1526.8h0M1663.4 1526.4h0M1666.5 1526.5h0M1656.3 1542.8h0M1669.2 1537.4h0M1652.8 1541.4h0M1657 1543h0M1669.6 1539.5h0M1669.4 1535.2h0M1652.1 1526.8h0M1668.7 1541h0M1662.6 1543h0M1652.1 1543h0M1669.7 1535h0M1651.6 1529.4h0M1669.8 1537.2h0M1658.9 1527.4h0M1668.6 1528.1h0M1651.5 1529.6h0M1662.4 1527h0M1669.6 1526.4h0M1652.3 1541.9h0M1651.3 1526.9h0M1652.4 1533.1h0M1651.9 1532.3h0M1669.5 1540h0M1653.7 1543h0M1669 1540.2h0M1662.3 1543h0M1651.3 1540.9h0M1669.4 1533.2h0M1668.8 1527.5h0M1658 1542.5h0M1651.4 1536.5h0M1669.6 1534.2h0M1662.7 1542.8h0M1667.6 1542.4h0M1668.9 1541.2h0M1651.5 1526.5h0M1652.3 1527.4h0M1668.8 1527.4h0M1652.3 1542h0M1668.8 1542h0M1725.6 1543h0M1724.7 1542.7h0M1729.5 1531.7h0M1720.5 1539.7h0M1719.9 1542.5h0M1726 1543h0M1728.7 1542.9h0M1719.4 1539.4h0M1723.9 1527.1h0M1722.1 1527.6h0M1725.3 1528.4h0M1719.8 1532.1h0M1729.5 1535.1h0M1726 1527.8h0M1719.6 1537h0M1728.3 1540h0M1728 1541.2h0M1728.7 1527.1h0M1728.3 1542.7h0M1728.5 1542.8h0M1719.4 1542.8h0M1728.8 1538.7h0M1723.6 1527.2h0M1728 1540.1h0M1719.2 1538.7h0M1729.4 1539.8h0M1719.2 1541.7h0M1729.5 1537.6h0M1724.6 1542.9h0M1722.6 1527.6h0M1729.5 1542.5h0M1719.1 1539.8h0M1726.2 1542.5h0M1719.1 1533.7h0M1721.2 1543h0M1726.5 1542.7h0M1724.9 1528.7h0M1720.1 1528.1h0M1728.5 1528.1h0M1720.1 1542h0M1728.5 1542h0M1722.7 1532.7h0M1734.1 1532.7h0M1732.9 1543h0M1719.8 1532.5h0M1733.8 1533.5h0M1728.7 1542.8h0M1720.9 1532.5h0M1732.4 1542.5h0M1727 1533.2h0M1720.5 1533.1h0M1734.7 1542.8h0M1723.4 1533.6h0M1727.5 1541.7h0M1722.5 1542.9h0M1737 1536.1h0M1737 1542.9h0M1719.2 1537h0M1723.8 1532.9h0M1727.7 1541.8h0M1730.7 1541.5h0M1726.4 1541.8h0M1736.3 1542.9h0M1737.7 1533.4h0M1720.3 1533.5h0M1737.3 1542.6h0M1737.4 1539h0M1737.4 1533.7h0M1736.3 1533.1h0M1732 1543h0M1733 1542.7h0M1727.7 1542.8h0M1727.9 1533.2h0M1719.6 1533.5h0M1736.6 1540.8h0M1723.9 1542.7h0M1719.2 1536.1h0M1737.5 1540.5h0M1735.6 1533h0M1737.2 1542.7h0M1730 1533.5h0M1734.4 1541.8h0M1720.1 1533.5h0M1736.7 1533.5h0M1720.1 1542h0M1736.7 1542h0" stroke="#f00" stroke-width="11" stroke-linecap="round" fill="none"/><path d="M1061.2 1207.5V1298.2M1051.1 1207.5H1071.2M1051.1 1298.2H1071.2M1083.8 1231.5V1343.8M1073.7 1231.5H1093.8M1073.7 1343.8H1093.8M1117.7 1280.9V1409.5M1107.6 1280.9H1127.8M1107.6 1409.5H1127.8M1185.6 1364.7V1487.5M1175.5 1364.7H1195.6M1175.5 1487.5H1195.6" stroke="#000" stroke-width="2.6" fill="none"/><path d="M1061.2 1256.4h0M1083.8 1293.7h0M1117.7 1356.1h0M1185.6 1443.4h0" stroke="#000" stroke-width="11.4" stroke-linecap="round" fill="none"/><rect x="1017.1" y="1190" width="753.9" height="369.2" fill="none" stroke="#222" stroke-width="1.8"/><path d="M1061.2 1559.2V1566.8M1083.8 1559.2V1566.8M1117.7 1559.2V1566.8M1185.6 1559.2V1566.8M1253.4 1559.2V1566.8M1321.3 1559.2V1566.8M1389.1 1559.2V1566.8M1457 1559.2V1566.8M1524.8 1559.2V1566.8M1592.7 1559.2V1566.8M1660.5 1559.2V1566.8M1728.4 1559.2V1566.8M1009.5 1543.2H1017.1M1009.5 1459H1017.1M1009.5 1374.8H1017.1M1009.5 1290.7H1017.1M1009.5 1206.5H1017.1" stroke="#222" stroke-width="2.2" fill="none"/><text class="t" transform="translate(1004.6 1555.8) scale(1 1.065)" text-anchor="end">0.00</text><text class="t" transform="translate(1004.6 1471.6) scale(1 1.065)" text-anchor="end">0.25</text><text class="t" transform="translate(1004.6 1387.4) scale(1 1.065)" text-anchor="end">0.50</text><text class="t" transform="translate(1004.6 1303.3) scale(1 1.065)" text-anchor="end">0.75</text><text class="t" transform="translate(1004.6 1219.1) scale(1 1.065)" text-anchor="end">1.00</text><text class="t" transform="translate(1061.2 1598.1) scale(1 1.065)" text-anchor="middle">1</text><text class="t" transform="translate(1083.8 1598.1) scale(1 1.065)" text-anchor="middle">3</text><text class="t" transform="translate(1117.7 1598.1) scale(1 1.065)" text-anchor="middle">6</text><text class="t" transform="translate(1185.6 1598.1) scale(1 1.065)" text-anchor="middle">12</text><text class="t" transform="translate(1253.4 1598.1) scale(1 1.065)" text-anchor="middle">18</text><text class="t" transform="translate(1321.3 1598.1) scale(1 1.065)" text-anchor="middle">24</text><text class="t" transform="translate(1389.1 1598.1) scale(1 1.065)" text-anchor="middle">30</text><text class="t" transform="translate(1457 1598.1) scale(1 1.065)" text-anchor="middle">36</text><text class="t" transform="translate(1524.8 1598.1) scale(1 1.065)" text-anchor="middle">42</text><text class="t" transform="translate(1592.7 1598.1) scale(1 1.065)" text-anchor="middle">48</text><text class="t" transform="translate(1660.5 1598.1) scale(1 1.065)" text-anchor="middle">54</text><text class="t" transform="translate(1728.4 1598.1) scale(1 1.065)" text-anchor="middle">60</text><text class="h" transform="translate(1016.2 1170) scale(1 1.025)">(e) 3L OS</text><text class="t b" transform="translate(925.5 1376) rotate(-90) scale(1 1.02)" text-anchor="middle">Probability</text><text class="t b" transform="translate(1394 1636.1) scale(1 1.02)" text-anchor="middle">Time (month)</text></g>
</svg></body></html>
